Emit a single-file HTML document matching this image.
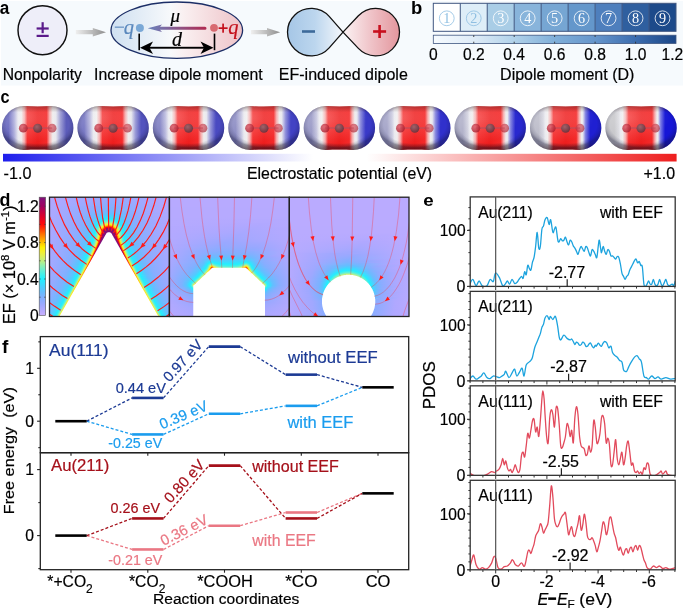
<!DOCTYPE html>
<html><head><meta charset="utf-8"><style>
html,body{margin:0;padding:0;background:#fff;}
body{width:685px;height:609px;position:relative;overflow:hidden;}
svg{position:absolute;left:0;top:0;will-change:transform;}
text{font-family:"Liberation Sans",sans-serif;}
</style></head><body>
<div style="position:absolute;left:49px;top:197px;width:121px;height:120px"><div style="height:1px;background:linear-gradient(90deg,#b0a8ff 0.5px,#96a9ff 64.5px,#b1a8ff 120.5px)"></div><div style="height:1px;background:linear-gradient(90deg,#b0a8ff 0.5px,#94a9ff 64.5px,#b0a8ff 120.5px)"></div><div style="height:1px;background:linear-gradient(90deg,#b0a8ff 0.5px,#93aaff 64.5px,#b0a8ff 120.5px)"></div><div style="height:1px;background:linear-gradient(90deg,#b0a8ff 0.5px,#91aaff 63.5px,#b0a8ff 120.5px)"></div><div style="height:1px;background:linear-gradient(90deg,#b0a8ff 0.5px,#8fabff 63.5px,#b0a8ff 120.5px)"></div><div style="height:1px;background:linear-gradient(90deg,#b0a8ff 0.5px,#8dacff 63.5px,#b0a8ff 120.5px)"></div><div style="height:1px;background:linear-gradient(90deg,#afa8ff 0.5px,#8bacff 62.5px,#b0a8ff 120.5px)"></div><div style="height:1px;background:linear-gradient(90deg,#afa8ff 0.5px,#88adff 62.5px,#b0a8ff 120.5px)"></div><div style="height:1px;background:linear-gradient(90deg,#afa8ff 0.5px,#86aeff 62.5px,#afa8ff 120.5px)"></div><div style="height:1px;background:linear-gradient(90deg,#afa8ff 0.5px,#8cacff 45.5px,#85aeff 66.5px,#aea8ff 117.5px,#afa8ff 120.5px)"></div><div style="height:1px;background:linear-gradient(90deg,#afa8ff 0.5px,#8dacff 42.5px,#80b0ff 63.5px,#aea8ff 116.5px,#afa8ff 120.5px)"></div><div style="height:1px;background:linear-gradient(90deg,#afa8ff 0.5px,#8eabff 40.5px,#7cb2ff 62.5px,#aca8ff 113.5px,#afa8ff 120.5px)"></div><div style="height:1px;background:linear-gradient(90deg,#aea8ff 0.5px,#8fabff 38.5px,#77b5ff 60.5px,#a9a8ff 107.5px,#afa8ff 120.5px)"></div><div style="height:1px;background:linear-gradient(90deg,#aea8ff 0.5px,#8fabff 37.5px,#71b7ff 60.5px,#a6a8ff 103.5px,#afa8ff 120.5px)"></div><div style="height:1px;background:linear-gradient(90deg,#aea8ff 0.5px,#8fabff 36.5px,#6bbaff 59.5px,#83afff 75.5px,#aaa8ff 110.5px,#afa8ff 120.5px)"></div><div style="height:1px;background:linear-gradient(90deg,#aea8ff 0.5px,#8fabff 35.5px,#65beff 59.5px,#77b5ff 71.5px,#a1a8ff 99.5px,#aea8ff 120.5px)"></div><div style="height:1px;background:linear-gradient(90deg,#aea8ff 0.5px,#8fabff 34.5px,#5dc2ff 59.5px,#6fb8ff 70.5px,#95a9ff 89.5px,#aea8ff 120.5px)"></div><div style="height:1px;background:linear-gradient(90deg,#aea8ff 0.5px,#90abff 33.5px,#69bbff 49.5px,#54c9ff 59.5px,#66bdff 69.5px,#8dacff 84.5px,#ada8ff 117.5px,#aea8ff 120.5px)"></div><div style="height:1px;background:linear-gradient(90deg,#ada8ff 0.5px,#90abff 32.5px,#6cbaff 47.5px,#4bd0ff 57.5px,#52cbff 65.5px,#88adff 82.5px,#aba8ff 113.5px,#aea8ff 120.5px)"></div><div style="height:1px;background:linear-gradient(90deg,#ada8ff 0.5px,#8fabff 32.5px,#6eb9ff 45.5px,#3fd9ff 57.5px,#47d3ff 65.5px,#76b5ff 76.5px,#9aa8ff 94.5px,#aea8ff 120.5px)"></div><div style="height:1px;background:linear-gradient(90deg,#ada8ff 0.5px,#8fabff 32.5px,#6db9ff 44.5px,#35e0ff 56.5px,#36e0ff 63.5px,#76b5ff 77.5px,#99a8ff 94.5px,#aea8ff 120.5px)"></div><div style="height:1px;background:linear-gradient(90deg,#ada8ff 0.5px,#8fabff 31.5px,#6eb9ff 43.5px,#28eaff 56.5px,#29eaff 63.5px,#4ad1ff 69.5px,#7bb3ff 79.5px,#9fa8ff 99.5px,#aea8ff 120.5px)"></div><div style="height:1px;background:linear-gradient(90deg,#ada8ff 0.5px,#8fabff 31.5px,#6fb9ff 42.5px,#37dfff 51.5px,#24eefe 54.5px,#33f0f3 60.5px,#25edfe 65.5px,#6bbaff 76.5px,#8dacff 87.5px,#aca8ff 117.5px,#ada8ff 120.5px)"></div><div style="height:1px;background:linear-gradient(90deg,#ada8ff 0.5px,#8fabff 30.5px,#74b6ff 40.5px,#51cbff 46.5px,#25edfe 52.5px,#4af0e4 57.5px,#4ff0e0 60.5px,#3cf0ed 64.5px,#26ecff 67.5px,#6cbaff 77.5px,#8cacff 87.5px,#aca8ff 117.5px,#ada8ff 120.5px)"></div><div style="height:1px;background:linear-gradient(90deg,#ada8ff 0.5px,#8fabff 30.5px,#71b7ff 40.5px,#4ad0ff 46.5px,#24eefe 51.5px,#2df0f7 52.5px,#5cf0d8 55.5px,#77f0c6 59.5px,#65f0d2 63.5px,#3df0ec 66.5px,#2af0f9 67.5px,#25edfe 68.5px,#69bcff 77.5px,#89adff 86.5px,#aaa8ff 114.5px,#ada8ff 120.5px)"></div><div style="height:1px;background:linear-gradient(90deg,#aca8ff 0.5px,#8eabff 30.5px,#74b6ff 39.5px,#4ccfff 45.5px,#27ebff 49.5px,#26f0fb 50.5px,#42f0e9 52.5px,#84f0bb 55.5px,#a3f09d 58.5px,#a8f098 60.5px,#90f0b0 63.5px,#6ff0cc 65.5px,#3ff0eb 67.5px,#25effd 69.5px,#65beff 77.5px,#88adff 86.5px,#aaa8ff 114.5px,#ada8ff 120.5px)"></div><div style="height:1px;background:linear-gradient(90deg,#aca8ff 0.5px,#8dacff 30.5px,#72b7ff 39.5px,#4fcdff 44.5px,#27ebff 48.5px,#28f0fa 49.5px,#5ef0d6 52.5px,#77f0c5 53.5px,#9df0a3 54.5px,#c6f077 56.5px,#daf05d 59.5px,#cff06c 62.5px,#b1f08e 64.5px,#70f0ca 66.5px,#26effc 70.5px,#3fd9ff 73.5px,#6eb9ff 79.5px,#8eabff 89.5px,#aca8ff 119.5px,#ada8ff 120.5px)"></div><div style="height:1px;background:linear-gradient(90deg,#aca8ff 0.5px,#8eabff 29.5px,#70b8ff 39.5px,#49d1ff 44.5px,#25effc 48.5px,#82f0bc 52.5px,#9ff0a1 53.5px,#c6f077 54.5px,#e1f054 55.5px,#f4f02a 57.5px,#f9ee19 59.5px,#f7f021 61.5px,#ebf041 63.5px,#ddf05a 64.5px,#98f0a8 66.5px,#62f0d4 68.5px,#34f0f2 70.5px,#24eefe 71.5px,#65bdff 78.5px,#87aeff 86.5px,#a9a8ff 113.5px,#ada8ff 120.5px)"></div><div style="height:1px;background:linear-gradient(90deg,#aca8ff 0.5px,#8eabff 29.5px,#73b6ff 38.5px,#50ccff 43.5px,#24eefe 47.5px,#49f0e4 49.5px,#8af0b5 51.5px,#cbf070 53.5px,#e6f04b 54.5px,#faed17 55.5px,#fedc04 56.5px,#ffba00 58.5px,#ffb000 59.5px,#ffbb00 61.5px,#fee006 63.5px,#f7ef21 64.5px,#dff055 65.5px,#a6f09a 67.5px,#61f0d5 69.5px,#41f0ea 70.5px,#2cf0f8 71.5px,#26ecff 72.5px,#62bfff 78.5px,#83afff 85.5px,#a7a8ff 111.5px,#ada8ff 120.5px)"></div><div style="height:1px;background:linear-gradient(90deg,#aca8ff 0.5px,#8dacff 29.5px,#72b7ff 38.5px,#4dceff 43.5px,#29e9ff 46.5px,#2bf0f8 47.5px,#82f0bd 50.5px,#d5f065 52.5px,#eef03b 53.5px,#fbec13 54.5px,#ffbf00 55.5px,#ff8800 56.5px,#ff6500 57.5px,#ff4403 59.5px,#ff5301 61.5px,#ff6b00 62.5px,#ff9200 63.5px,#ffcf01 64.5px,#f9ee1b 65.5px,#e9f045 66.5px,#cef06e 67.5px,#75f0c7 69.5px,#3cf0ed 71.5px,#27f0fb 72.5px,#68bcff 79.5px,#87aeff 87.5px,#a9a8ff 114.5px,#aca8ff 120.5px)"></div><div style="height:1px;background:linear-gradient(90deg,#aca8ff 0.5px,#8cacff 29.5px,#70b8ff 38.5px,#4bd0ff 43.5px,#25edfe 46.5px,#31f0f4 47.5px,#78f0c4 49.5px,#cdf06e 51.5px,#eff038 52.5px,#fde308 53.5px,#ffb300 54.5px,#ff7500 55.5px,#fc2409 56.5px,#ef0918 57.5px,#de0228 59.5px,#e60321 61.5px,#f20c15 62.5px,#fd3305 63.5px,#ff8600 64.5px,#ffbf00 65.5px,#fce90f 66.5px,#e9f044 67.5px,#c0f07e 68.5px,#93f0ad 69.5px,#6cf0cd 70.5px,#2cf0f7 72.5px,#27ebff 73.5px,#66bdff 79.5px,#88adff 88.5px,#aaa8ff 116.5px,#aca8ff 120.5px)"></div><div style="height:1px;background:linear-gradient(90deg,#aca8ff 0.5px,#8bacff 29.5px,#6fb9ff 38.5px,#53caff 42.5px,#26eefd 46.5px,#5cf0d8 48.5px,#85f0b9 49.5px,#c0f07e 50.5px,#e8f046 51.5px,#fce90e 52.5px,#ffab00 53.5px,#ff5b01 54.5px,#fa190c 55.5px,#d50130 56.5px,#aa0356 57.5px,#980666 58.5px,#94086a 60.5px,#9a0664 61.5px,#b10250 62.5px,#e20325 63.5px,#fc2508 64.5px,#ffbc00 66.5px,#f7ef1f 67.5px,#ddf059 68.5px,#b4f08b 69.5px,#7cf0c1 70.5px,#52f0df 71.5px,#25effd 73.5px,#5dc2ff 78.5px,#83afff 86.5px,#a7a8ff 112.5px,#aca8ff 120.5px)"></div><div style="height:1px;background:linear-gradient(90deg,#aba8ff 0.5px,#8dacff 28.5px,#6dbaff 38.5px,#46d3ff 43.5px,#2be8ff 45.5px,#27f0fb 46.5px,#3ef0ec 47.5px,#64f0d2 48.5px,#cdf06e 50.5px,#f5f028 51.5px,#ffbf00 52.5px,#ff6a00 53.5px,#f61111 54.5px,#c9003c 55.5px,#990665 56.5px,#811079 57.5px,#830e77 62.5px,#a3045d 63.5px,#d40131 64.5px,#fa1f0b 65.5px,#ff8800 66.5px,#fed603 67.5px,#eff036 68.5px,#c1f07c 69.5px,#8ef0b2 70.5px,#42f0e9 72.5px,#28effb 73.5px,#63bfff 79.5px,#87aeff 88.5px,#a9a8ff 115.5px,#aca8ff 120.5px)"></div><div style="height:1px;background:linear-gradient(90deg,#aba8ff 0.5px,#8cacff 28.5px,#70b8ff 37.5px,#4dceff 42.5px,#2be7ff 45.5px,#2cf0f8 46.5px,#6df0cc 48.5px,#9df0a2 49.5px,#dcf059 50.5px,#fbea11 51.5px,#ffa000 52.5px,#fc2808 53.5px,#d00135 54.5px,#91096c 55.5px,#80107a 56.5px,#811079 63.5px,#9c0563 64.5px,#e20324 65.5px,#fe3f03 66.5px,#ffb200 67.5px,#f7ef21 68.5px,#d7f061 69.5px,#a3f09d 70.5px,#6cf0cd 71.5px,#3ff0eb 72.5px,#25effd 73.5px,#60c0ff 79.5px,#86aeff 88.5px,#a9a8ff 115.5px,#aca8ff 120.5px)"></div><div style="height:1px;background:linear-gradient(90deg,#aba8ff 0.5px,#8bacff 28.5px,#6fb9ff 37.5px,#4bcfff 42.5px,#26ebff 45.5px,#2cf0f7 46.5px,#49f0e5 47.5px,#7bf0c2 48.5px,#b5f08b 49.5px,#e2f051 50.5px,#fcdf0d 51.5px,#ff7400 52.5px,#f20e14 53.5px,#a90357 54.5px,#80107a 55.5px,#830e77 64.5px,#b8024a 65.5px,#f91e0c 66.5px,#ff8b00 67.5px,#fde20a 68.5px,#e1f052 69.5px,#a5f09a 70.5px,#67f0d1 71.5px,#2bf0f8 73.5px,#29e9ff 74.5px,#5fc1ff 79.5px,#85aeff 88.5px,#a8a8ff 114.5px,#aca8ff 120.5px)"></div><div style="height:1px;background:linear-gradient(90deg,#aba8ff 0.5px,#8bacff 28.5px,#6dbaff 37.5px,#47d2ff 42.5px,#26ecfe 45.5px,#36f0f1 46.5px,#79f0c4 48.5px,#b7f087 49.5px,#eef037 50.5px,#ffca01 51.5px,#ff6501 52.5px,#e10425 53.5px,#8f096e 54.5px,#80107a 55.5px,#80107a 56.5px,#881f82 57.5px,#c088bc 58.5px,#dfc3de 59.5px,#dfc3de 60.5px,#80107a 62.5px,#80107a 64.5px,#9b0663 65.5px,#e9061e 66.5px,#ff6b01 67.5px,#fdd808 68.5px,#e0f054 69.5px,#aaf095 70.5px,#78f0c4 71.5px,#2cf0f8 73.5px,#28eaff 74.5px,#5cc3ff 79.5px,#84afff 88.5px,#a8a8ff 114.5px,#aca8ff 120.5px)"></div><div style="height:1px;background:linear-gradient(90deg,#aba8ff 0.5px,#8aadff 28.5px,#6bbaff 37.5px,#46d4ff 42.5px,#24eefe 45.5px,#35f0f1 46.5px,#5af0d9 47.5px,#8ff0b1 48.5px,#c6f077 49.5px,#eff034 50.5px,#ffb900 51.5px,#fd3306 52.5px,#c9013c 53.5px,#870d75 54.5px,#80107a 56.5px,#d7b4d5 57.5px,#ffffff 58.5px,#ffffff 61.5px,#80107a 63.5px,#80107a 64.5px,#8a0b72 65.5px,#d8022e 66.5px,#ff5d01 67.5px,#fed303 68.5px,#edf03b 69.5px,#bdf081 70.5px,#7cf0c1 71.5px,#4ef0e1 72.5px,#34f0f2 73.5px,#25edfe 74.5px,#61bfff 80.5px,#86aeff 89.5px,#a9a8ff 115.5px,#aca8ff 120.5px)"></div><div style="height:1px;background:linear-gradient(90deg,#aba8ff 0.5px,#8bacff 27.5px,#6abbff 37.5px,#39ddff 43.5px,#28f0fa 45.5px,#61f0d5 47.5px,#90f0af 48.5px,#d2f067 49.5px,#faeb17 50.5px,#ffa000 51.5px,#f9240b 52.5px,#b00352 53.5px,#80107a 54.5px,#80107a 55.5px,#a04c9b 56.5px,#ffffff 57.5px,#ffffff 62.5px,#902e8b 63.5px,#80107a 64.5px,#830f78 65.5px,#c8013c 66.5px,#fd3306 67.5px,#ffaf00 68.5px,#f2f02c 69.5px,#c0f07d 70.5px,#8af0b6 71.5px,#39f0ef 73.5px,#25eefe 74.5px,#5fc1ff 80.5px,#85aeff 89.5px,#a8a8ff 115.5px,#aba8ff 120.5px)"></div><div style="height:1px;background:linear-gradient(90deg,#aba8ff 0.5px,#8bacff 27.5px,#68bcff 37.5px,#40d8ff 42.5px,#2ae8ff 44.5px,#29f0fa 45.5px,#47f0e6 46.5px,#70f0ca 47.5px,#a6f09a 48.5px,#d9f05e 49.5px,#fbe410 50.5px,#ff7600 51.5px,#e9081d 52.5px,#980766 53.5px,#80107a 54.5px,#80107a 55.5px,#efe1ee 56.5px,#ffffff 57.5px,#ffffff 62.5px,#cfa5cd 63.5px,#80107a 64.5px,#80107a 65.5px,#a4055c 66.5px,#f51810 67.5px,#ffa000 68.5px,#f9ec1a 69.5px,#d5f064 70.5px,#98f0a7 71.5px,#60f0d5 72.5px,#3ef0eb 73.5px,#27f0fb 74.5px,#38deff 76.5px,#69bbff 82.5px,#8bacff 92.5px,#aba8ff 120.5px)"></div><div style="height:1px;background:linear-gradient(90deg,#aaa8ff 0.5px,#8aadff 27.5px,#66bdff 37.5px,#33e2ff 43.5px,#25ecff 44.5px,#2ff0f5 45.5px,#49f0e4 46.5px,#75f0c7 47.5px,#b5f08a 48.5px,#ebf040 49.5px,#fece02 50.5px,#ff5c02 51.5px,#d50231 52.5px,#860d75 53.5px,#80107a 54.5px,#b879b4 55.5px,#ffffff 56.5px,#ffffff 63.5px,#a04c9b 64.5px,#80107a 65.5px,#92096b 66.5px,#e70820 67.5px,#ff6d01 68.5px,#fddc0a 69.5px,#dcf05a 70.5px,#a1f09f 71.5px,#6ff0cb 72.5px,#29f0f9 74.5px,#29e9ff 75.5px,#62bfff 81.5px,#88adff 91.5px,#aaa8ff 118.5px,#aba8ff 120.5px)"></div><div style="height:1px;background:linear-gradient(90deg,#aaa8ff 0.5px,#8aadff 27.5px,#64beff 37.5px,#2fe4ff 43.5px,#25edfe 44.5px,#36f0f1 45.5px,#82f0bc 47.5px,#bcf082 48.5px,#f1f02f 49.5px,#ffb000 50.5px,#fa270a 51.5px,#b3034f 52.5px,#811079 53.5px,#881f82 54.5px,#f7f0f7 55.5px,#ffffff 56.5px,#ffffff 63.5px,#dfc3de 64.5px,#80107a 65.5px,#820f78 66.5px,#c6013e 67.5px,#fe4a03 68.5px,#fece03 69.5px,#ebf03e 70.5px,#b9f086 71.5px,#78f0c4 72.5px,#4df0e2 73.5px,#31f0f4 74.5px,#25edff 75.5px,#60c0ff 81.5px,#88adff 91.5px,#a9a8ff 117.5px,#aba8ff 120.5px)"></div><div style="height:1px;background:linear-gradient(90deg,#aaa8ff 0.5px,#89adff 27.5px,#63bfff 37.5px,#26effc 44.5px,#3cf0ed 45.5px,#5df0d7 46.5px,#95f0aa 47.5px,#d2f067 48.5px,#f8ec1c 49.5px,#ff9400 50.5px,#ed1018 51.5px,#950869 52.5px,#80107a 53.5px,#c796c5 54.5px,#ffffff 55.5px,#ffffff 64.5px,#b06aac 65.5px,#80107a 66.5px,#a80458 67.5px,#f61e0e 68.5px,#ffa100 69.5px,#f4ef28 70.5px,#c1f07c 71.5px,#88f0b7 72.5px,#5bf0d9 73.5px,#3af0ee 74.5px,#25eefd 75.5px,#64beff 82.5px,#89adff 92.5px,#aaa8ff 119.5px,#aba8ff 120.5px)"></div><div style="height:1px;background:linear-gradient(90deg,#aaa8ff 0.5px,#8aadff 26.5px,#66bdff 36.5px,#34e1ff 42.5px,#29eaff 43.5px,#2af0f9 44.5px,#6df0cc 46.5px,#a1f09f 47.5px,#def055 48.5px,#fdd707 49.5px,#ff5b02 50.5px,#d40331 51.5px,#850d76 52.5px,#902e8b 53.5px,#ffffff 54.5px,#ffffff 64.5px,#efe1ee 65.5px,#881f82 66.5px,#8a0c72 67.5px,#e20724 68.5px,#ff8000 69.5px,#fbe612 70.5px,#d9f05f 71.5px,#9cf0a4 72.5px,#65f0d2 73.5px,#3ef0ec 74.5px,#26effc 75.5px,#62bfff 82.5px,#89adff 92.5px,#aaa8ff 118.5px,#aba8ff 120.5px)"></div><div style="height:1px;background:linear-gradient(90deg,#aaa8ff 0.5px,#8aadff 26.5px,#65beff 36.5px,#30e4ff 42.5px,#25edfe 43.5px,#32f0f4 44.5px,#4df0e2 45.5px,#7bf0c2 46.5px,#bbf083 47.5px,#eef038 48.5px,#ffbe02 49.5px,#fa2e0a 50.5px,#a90557 51.5px,#80107a 52.5px,#d7b4d5 53.5px,#ffffff 54.5px,#ffffff 65.5px,#810f79 67.5px,#bf0244 68.5px,#fd4105 69.5px,#feca03 70.5px,#e6f048 71.5px,#a8f097 72.5px,#6ef0cc 73.5px,#2df0f6 75.5px,#27ebff 76.5px,#60c0ff 82.5px,#86aeff 91.5px,#a8a8ff 116.5px,#aba8ff 120.5px)"></div><div style="height:1px;background:linear-gradient(90deg,#aaa8ff 0.5px,#89adff 26.5px,#63bfff 36.5px,#25effd 43.5px,#3bf0ee 44.5px,#5df0d7 45.5px,#8bf0b4 46.5px,#c9f072 47.5px,#f8ea1b 48.5px,#ff8500 49.5px,#e60b1f 50.5px,#8e0a6e 51.5px,#a04c9b 52.5px,#ffffff 53.5px,#ffffff 65.5px,#f7f0f7 66.5px,#902e8b 67.5px,#980866 68.5px,#f21913 69.5px,#ffa900 70.5px,#f0f031 71.5px,#c0f07e 72.5px,#83f0bb 73.5px,#53f0de 74.5px,#33f0f3 75.5px,#24eefe 76.5px,#64beff 83.5px,#89adff 93.5px,#aaa8ff 119.5px,#aba8ff 120.5px)"></div><div style="height:1px;background:linear-gradient(90deg,#aaa8ff 0.5px,#88adff 26.5px,#61c0ff 36.5px,#29e9ff 42.5px,#28f0fa 43.5px,#41f0e9 44.5px,#6af0cf 45.5px,#a4f09c 46.5px,#e0f052 47.5px,#fdd709 48.5px,#fe5203 49.5px,#bf0244 50.5px,#80107a 51.5px,#e7d2e6 52.5px,#ffffff 53.5px,#ffffff 66.5px,#cfa5cd 67.5px,#850e76 68.5px,#d8052d 69.5px,#ff6f01 70.5px,#fbe210 71.5px,#d4f065 72.5px,#91f0af 73.5px,#5ff0d6 74.5px,#26effc 76.5px,#62bfff 83.5px,#89adff 93.5px,#aaa8ff 119.5px,#aaa8ff 120.5px)"></div><div style="height:1px;background:linear-gradient(90deg,#aaa8ff 0.5px,#88adff 26.5px,#64beff 35.5px,#31e3ff 41.5px,#26ecff 42.5px,#31f0f4 43.5px,#4df0e2 44.5px,#76f0c6 45.5px,#b6f089 46.5px,#eff033 47.5px,#ffa900 48.5px,#f11914 49.5px,#990865 50.5px,#b06aac 51.5px,#ffffff 52.5px,#ffffff 67.5px,#983d93 68.5px,#a70559 69.5px,#fa3409 70.5px,#fec804 71.5px,#e5f04a 72.5px,#adf093 73.5px,#70f0ca 74.5px,#46f0e6 75.5px,#2bf0f8 76.5px,#27ebff 77.5px,#60c0ff 83.5px,#88adff 93.5px,#aaa8ff 119.5px,#aaa8ff 120.5px)"></div><div style="height:1px;background:linear-gradient(90deg,#a9a8ff 0.5px,#89adff 25.5px,#68bcff 34.5px,#38deff 40.5px,#25effd 42.5px,#38f0f0 43.5px,#5bf0d9 44.5px,#8ff0b1 45.5px,#cdf06d 46.5px,#f9e819 47.5px,#ff7401 48.5px,#d10434 49.5px,#8a1e81 50.5px,#f7f0f7 51.5px,#ffffff 52.5px,#ffffff 67.5px,#dfc3de 68.5px,#8b0c71 69.5px,#e50e20 70.5px,#ff8d00 71.5px,#f6ed23 72.5px,#c1f07c 73.5px,#80f0be 74.5px,#54f0dd 75.5px,#35f0f1 76.5px,#25eefe 77.5px,#64beff 84.5px,#87aeff 93.5px,#aaa8ff 119.5px,#aaa8ff 120.5px)"></div><div style="height:1px;background:linear-gradient(90deg,#a9a8ff 0.5px,#89adff 25.5px,#66bdff 34.5px,#34e1ff 40.5px,#29e9ff 41.5px,#29f0f9 42.5px,#69f0cf 44.5px,#a3f09d 45.5px,#e4f04b 46.5px,#fec503 47.5px,#fa350a 48.5px,#a80558 49.5px,#c088bc 50.5px,#ffffff 51.5px,#ffffff 68.5px,#a85ba4 69.5px,#b5044d 70.5px,#fe5004 71.5px,#fcdb0c 72.5px,#daf05c 73.5px,#9bf0a5 74.5px,#63f0d4 75.5px,#3ef0ec 76.5px,#26effc 77.5px,#61bfff 84.5px,#87aeff 93.5px,#a9a8ff 118.5px,#aaa8ff 120.5px)"></div><div style="height:1px;background:linear-gradient(90deg,#a9a8ff 0.5px,#88adff 25.5px,#64beff 34.5px,#25edff 41.5px,#31f0f4 42.5px,#50f0e0 43.5px,#7ff0be 44.5px,#c0f07d 45.5px,#f3ee29 46.5px,#ff9100 47.5px,#de0928 48.5px,#952b86 49.5px,#f7f0f7 50.5px,#ffffff 51.5px,#ffffff 68.5px,#efe1ee 69.5px,#910a6c 70.5px,#ec1718 71.5px,#ffa700 72.5px,#edf037 73.5px,#b2f08d 74.5px,#71f0ca 75.5px,#48f0e5 76.5px,#2df0f7 77.5px,#26ebff 78.5px,#5fc1ff 84.5px,#86aeff 93.5px,#a9a8ff 118.5px,#aaa8ff 120.5px)"></div><div style="height:1px;background:linear-gradient(90deg,#a9a8ff 0.5px,#87aeff 25.5px,#62bfff 34.5px,#26effc 41.5px,#3df0ec 42.5px,#60f0d5 43.5px,#93f0ac 44.5px,#d8f05e 45.5px,#fdd509 46.5px,#fc4507 47.5px,#b10450 48.5px,#cfa5cd 49.5px,#ffffff 50.5px,#ffffff 69.5px,#c087bc 70.5px,#c10342 71.5px,#ff6802 72.5px,#f9e619 73.5px,#c9f072 74.5px,#8af0b5 75.5px,#58f0db 76.5px,#36f0f1 77.5px,#25eefe 78.5px,#63beff 85.5px,#88adff 94.5px,#a9a8ff 119.5px,#aaa8ff 120.5px)"></div><div style="height:1px;background:linear-gradient(90deg,#a9a8ff 0.5px,#86aeff 25.5px,#60c0ff 34.5px,#27ebff 40.5px,#2cf0f7 41.5px,#47f0e5 42.5px,#73f0c8 43.5px,#b4f08b 44.5px,#edef37 45.5px,#ffa800 46.5px,#e7111e 47.5px,#a84894 48.5px,#ffffff 49.5px,#ffffff 69.5px,#f7f0f7 70.5px,#a0176e 71.5px,#f6280f 72.5px,#febf02 73.5px,#e5f049 74.5px,#a2f09d 75.5px,#66f0d1 76.5px,#42f0e9 77.5px,#28f0fa 78.5px,#2ae9ff 79.5px,#61c0ff 85.5px,#87aeff 94.5px,#a9a8ff 119.5px,#aaa8ff 120.5px)"></div><div style="height:1px;background:linear-gradient(90deg,#a9a8ff 0.5px,#88adff 24.5px,#63beff 33.5px,#25eefe 40.5px,#37f0f0 41.5px,#58f0da 42.5px,#89f0b6 43.5px,#cdf06d 44.5px,#fbdf12 45.5px,#fd5404 46.5px,#b6054b 47.5px,#dfc3de 48.5px,#ffffff 49.5px,#ffffff 70.5px,#c996c4 71.5px,#ca0539 72.5px,#ff7d01 73.5px,#f5ed24 74.5px,#c0f07d 75.5px,#7ff0be 76.5px,#4ff0e0 77.5px,#30f0f5 78.5px,#25edff 79.5px,#5ec1ff 85.5px,#86aeff 94.5px,#a8a8ff 118.5px,#a9a8ff 120.5px)"></div><div style="height:1px;background:linear-gradient(90deg,#a8a8ff 0.5px,#87aeff 24.5px,#61c0ff 33.5px,#2ae9ff 39.5px,#27f0fb 40.5px,#41f0ea 41.5px,#6af0cf 42.5px,#a9f097 43.5px,#e8f042 44.5px,#ffb502 45.5px,#eb1a19 46.5px,#bb65a2 47.5px,#ffffff 48.5px,#ffffff 71.5px,#ad2572 72.5px,#f7310c 73.5px,#feca06 74.5px,#ddf057 75.5px,#96f0a9 76.5px,#5ff0d6 77.5px,#3df0ec 78.5px,#26effc 79.5px,#62bfff 86.5px,#87aeff 95.5px,#a9a8ff 120.5px)"></div><div style="height:1px;background:linear-gradient(90deg,#a8a8ff 0.5px,#86aeff 24.5px,#5ec1ff 33.5px,#25edff 39.5px,#32f0f4 40.5px,#50f0e0 41.5px,#7df0c0 42.5px,#c3f079 43.5px,#f8e61b 44.5px,#fe5f03 45.5px,#c31350 46.5px,#f0e1ee 47.5px,#ffffff 48.5px,#ffffff 71.5px,#e1c2dc 72.5px,#d10733 73.5px,#ff8c00 74.5px,#f1ee2e 75.5px,#b8f086 76.5px,#76f0c6 77.5px,#49f0e4 78.5px,#2bf0f8 79.5px,#27eaff 80.5px,#60c0ff 86.5px,#87aeff 95.5px,#a8a8ff 119.5px,#a9a8ff 120.5px)"></div><div style="height:1px;background:linear-gradient(90deg,#a8a8ff 0.5px,#85aeff 24.5px,#5bc3ff 33.5px,#26effc 39.5px,#3cf0ed 40.5px,#62f0d4 41.5px,#9ef0a2 42.5px,#dff052 43.5px,#fec305 44.5px,#f02115 45.5px,#ce82b0 46.5px,#ffffff 47.5px,#ffffff 72.5px,#c1427f 73.5px,#f8380c 74.5px,#fdd10a 75.5px,#d5f062 76.5px,#8df0b2 77.5px,#57f0db 78.5px,#37f0f0 79.5px,#25eefe 80.5px,#64beff 87.5px,#88adff 96.5px,#a9a8ff 120.5px)"></div><div style="height:1px;background:linear-gradient(90deg,#a8a8ff 0.5px,#84afff 24.5px,#59c6ff 33.5px,#27ebff 38.5px,#2ef0f6 39.5px,#4cf0e3 40.5px,#77f0c5 41.5px,#bbf083 42.5px,#f6ea22 43.5px,#fe7002 44.5px,#cc1447 45.5px,#f8eff6 46.5px,#ffffff 47.5px,#ffffff 72.5px,#f2e0ec 73.5px,#d6082e 74.5px,#ff9a00 75.5px,#ebef3a 76.5px,#acf093 77.5px,#6ef0cc 78.5px,#44f0e8 79.5px,#28f0fa 80.5px,#29e9ff 81.5px,#61c0ff 87.5px,#87aeff 96.5px,#a9a8ff 120.5px)"></div><div style="height:1px;background:linear-gradient(90deg,#a8a8ff 0.5px,#86aeff 23.5px,#5dc2ff 32.5px,#25effd 38.5px,#39f0ef 39.5px,#5df0d8 40.5px,#97f0a9 41.5px,#dcf057 42.5px,#fdca07 43.5px,#f12713 44.5px,#dfa0c0 45.5px,#ffffff 46.5px,#ffffff 73.5px,#d5608c 74.5px,#fb4607 75.5px,#fbda0f 76.5px,#cff06b 77.5px,#86f0b9 78.5px,#53f0de 79.5px,#34f0f2 80.5px,#25edfe 81.5px,#65beff 88.5px,#89adff 97.5px,#a9a8ff 120.5px)"></div><div style="height:1px;background:linear-gradient(90deg,#a8a8ff 0.5px,#85aeff 23.5px,#5ac5ff 32.5px,#28eaff 37.5px,#2bf0f8 38.5px,#48f0e5 39.5px,#73f0c8 40.5px,#b5f089 41.5px,#f3ec29 42.5px,#ff7302 43.5px,#da3359 44.5px,#ffffff 45.5px,#ffffff 73.5px,#f9eff5 74.5px,#e01a35 75.5px,#ffa101 76.5px,#e9f040 77.5px,#a8f097 78.5px,#69f0cf 79.5px,#40f0ea 80.5px,#27effb 81.5px,#40d8ff 84.5px,#6eb9ff 90.5px,#8fabff 100.5px,#a8a8ff 120.5px)"></div><div style="height:1px;background:linear-gradient(90deg,#a7a8ff 0.5px,#84afff 23.5px,#5ec2ff 31.5px,#25eefe 37.5px,#35f0f1 38.5px,#58f0da 39.5px,#91f0ae 40.5px,#daf05b 41.5px,#fdcb08 42.5px,#f22b11 43.5px,#eebfd1 44.5px,#ffffff 45.5px,#ffffff 74.5px,#e4809d 75.5px,#fa4708 76.5px,#fbdc12 77.5px,#caf071 78.5px,#80f0bd 79.5px,#50f0e0 80.5px,#31f0f4 81.5px,#25ecff 82.5px,#60c0ff 88.5px,#87aeff 97.5px,#a8a8ff 120.5px)"></div><div style="height:1px;background:linear-gradient(90deg,#a7a8ff 0.5px,#83afff 23.5px,#5bc4ff 31.5px,#2ae9ff 36.5px,#29f0fa 37.5px,#44f0e8 38.5px,#6df0cd 39.5px,#b0f08f 40.5px,#f1ed2d 41.5px,#ff7802 42.5px,#e7526d 43.5px,#ffffff 44.5px,#ffffff 75.5px,#e82c3c 76.5px,#ffa601 77.5px,#e7f043 78.5px,#a5f09b 79.5px,#65f0d2 80.5px,#3df0ec 81.5px,#26effc 82.5px,#63beff 89.5px,#89adff 98.5px,#a8a8ff 120.5px)"></div><div style="height:1px;background:linear-gradient(90deg,#a7a8ff 0.5px,#85aeff 22.5px,#5fc1ff 30.5px,#25edfe 36.5px,#33f0f3 37.5px,#55f0dc 38.5px,#8cf0b3 39.5px,#d4f064 40.5px,#fcd20c 41.5px,#f42d10 42.5px,#f9dfe6 43.5px,#ffffff 44.5px,#ffffff 75.5px,#f3b0be 76.5px,#f94609 77.5px,#fadd14 78.5px,#c6f076 79.5px,#7ef0bf 80.5px,#4ff0e1 81.5px,#2ff0f5 82.5px,#26ebff 83.5px,#61c0ff 89.5px,#88adff 98.5px,#a8a8ff 120.5px)"></div><div style="height:1px;background:linear-gradient(90deg,#a7a8ff 0.5px,#83afff 22.5px,#5cc3ff 30.5px,#2be8ff 35.5px,#28f0fa 36.5px,#43f0e9 37.5px,#6bf0ce 38.5px,#acf093 39.5px,#efed31 40.5px,#ff7d01 41.5px,#f27581 42.5px,#ffffff 43.5px,#ffffff 76.5px,#f24b52 77.5px,#ffa701 78.5px,#e7ef43 79.5px,#a2f09d 80.5px,#62f0d4 81.5px,#3bf0ed 82.5px,#25effd 83.5px,#64beff 90.5px,#89adff 99.5px,#a8a8ff 120.5px)"></div><div style="height:1px;background:linear-gradient(90deg,#a6a8ff 0.5px,#82afff 22.5px,#58c6ff 30.5px,#25edfe 35.5px,#32f0f3 36.5px,#53f0de 37.5px,#8af0b5 38.5px,#d4f064 39.5px,#fcd20b 40.5px,#f73d1c 41.5px,#fdeff2 42.5px,#ffffff 43.5px,#ffffff 76.5px,#facfd6 77.5px,#fa4209 78.5px,#f9de16 79.5px,#c3f079 80.5px,#7af0c3 81.5px,#4bf0e3 82.5px,#2df0f7 83.5px,#27ebff 84.5px,#61bfff 90.5px,#88adff 99.5px,#a7a8ff 120.5px)"></div><div style="height:1px;background:linear-gradient(90deg,#a6a8ff 0.5px,#84afff 21.5px,#5dc2ff 29.5px,#27effb 35.5px,#41f0e9 36.5px,#6bf0ce 37.5px,#abf094 38.5px,#efee32 39.5px,#ff7a02 40.5px,#f8939a 41.5px,#ffffff 42.5px,#ffffff 77.5px,#f86c6b 78.5px,#ffa902 79.5px,#e3f04a 80.5px,#9ef0a1 81.5px,#60f0d5 82.5px,#3af0ef 83.5px,#25eefd 84.5px,#65beff 91.5px,#8aadff 100.5px,#a7a8ff 120.5px)"></div><div style="height:1px;background:linear-gradient(90deg,#a6a8ff 0.5px,#83afff 21.5px,#59c5ff 29.5px,#26ecff 34.5px,#30f0f5 35.5px,#51f0df 36.5px,#88f0b6 37.5px,#d4f063 38.5px,#fdcd0a 39.5px,#fb4d28 40.5px,#ffffff 41.5px,#ffffff 77.5px,#fddfe3 78.5px,#fd5815 79.5px,#f9de16 80.5px,#c2f07a 81.5px,#79f0c3 82.5px,#4bf0e3 83.5px,#2cf0f7 84.5px,#28eaff 85.5px,#62bfff 91.5px,#89adff 100.5px,#a7a8ff 120.5px)"></div><div style="height:1px;background:linear-gradient(90deg,#a6a8ff 0.5px,#81b0ff 21.5px,#55c8ff 29.5px,#26effc 34.5px,#40f0eb 35.5px,#67f0d1 36.5px,#a9f096 37.5px,#eeed32 38.5px,#fe7902 39.5px,#fdc1c4 40.5px,#ffffff 41.5px,#ffffff 78.5px,#fc8a86 79.5px,#ffa802 80.5px,#e5f047 81.5px,#9ef0a1 82.5px,#5ff0d6 83.5px,#39f0ef 84.5px,#25eefd 85.5px,#65bdff 92.5px,#8aadff 101.5px,#a7a8ff 120.5px)"></div><div style="height:1px;background:linear-gradient(90deg,#a5a8ff 0.5px,#83afff 20.5px,#59c5ff 28.5px,#26ecff 33.5px,#30f0f5 34.5px,#51f0e0 35.5px,#87f0b7 36.5px,#d1f066 37.5px,#fcd20c 38.5px,#fe6a44 39.5px,#ffffff 40.5px,#ffffff 78.5px,#ffeff0 79.5px,#fe6024 80.5px,#f9dd16 81.5px,#c2f07a 82.5px,#79f0c3 83.5px,#4bf0e3 84.5px,#2cf0f7 85.5px,#28eaff 86.5px,#63bfff 92.5px,#89adff 101.5px,#a6a8ff 120.5px)"></div><div style="height:1px;background:linear-gradient(90deg,#a5a8ff 0.5px,#82afff 20.5px,#56c8ff 28.5px,#26effc 33.5px,#40f0eb 34.5px,#68f0d0 35.5px,#a9f096 36.5px,#efed32 37.5px,#ff7602 38.5px,#ffd3d1 39.5px,#ffffff 40.5px,#ffffff 79.5px,#ffaaa2 80.5px,#ffa102 81.5px,#e7ef43 82.5px,#9ff0a1 83.5px,#5ef0d6 84.5px,#38f0f0 85.5px,#25eefe 86.5px,#66bdff 93.5px,#88adff 101.5px,#a6a8ff 120.5px)"></div><div style="height:1px;background:linear-gradient(90deg,#a5a8ff 0.5px,#81b0ff 20.5px,#5ac5ff 27.5px,#26ecff 32.5px,#30f0f5 33.5px,#50f0e0 34.5px,#87f0b7 35.5px,#d4f063 36.5px,#fdcc0b 37.5px,#ff8862 38.5px,#ffffff 39.5px,#ffffff 80.5px,#ff7a42 81.5px,#fadb15 82.5px,#c2f07a 83.5px,#77f0c4 84.5px,#49f0e4 85.5px,#2bf0f8 86.5px,#29eaff 87.5px,#63bfff 93.5px,#87aeff 101.5px,#a6a8ff 120.5px)"></div><div style="height:1px;background:linear-gradient(90deg,#a4a8ff 0.5px,#82afff 19.5px,#56c7ff 27.5px,#26effc 32.5px,#40f0eb 33.5px,#6af0ce 34.5px,#acf093 35.5px,#f0ec2f 36.5px,#ff8011 37.5px,#fff1ef 38.5px,#ffffff 39.5px,#ffffff 80.5px,#ffc9c0 81.5px,#ffa002 82.5px,#e5f046 83.5px,#9ef0a1 84.5px,#5ff0d6 85.5px,#38f0f0 86.5px,#25eefe 87.5px,#66bdff 94.5px,#88adff 102.5px,#a5a8ff 120.5px)"></div><div style="height:1px;background:linear-gradient(90deg,#a4a8ff 0.5px,#81b0ff 19.5px,#52cbff 27.5px,#26ecff 31.5px,#31f0f4 32.5px,#51f0df 33.5px,#88f0b6 34.5px,#d7f05f 35.5px,#fdc408 36.5px,#ffa580 37.5px,#ffffff 38.5px,#ffffff 81.5px,#ff8c51 82.5px,#fad913 83.5px,#c4f078 84.5px,#79f0c3 85.5px,#4af0e4 86.5px,#2bf0f8 87.5px,#29e9ff 88.5px,#63beff 94.5px,#87aeff 102.5px,#a5a8ff 120.5px)"></div><div style="height:1px;background:linear-gradient(90deg,#a3a8ff 0.5px,#7fb0ff 19.5px,#56c7ff 26.5px,#26effc 31.5px,#40f0ea 32.5px,#6cf0cd 33.5px,#b0f08f 34.5px,#f1eb2c 35.5px,#ff8b20 36.5px,#ffffff 37.5px,#ffffff 81.5px,#ffe6df 82.5px,#ff9a01 83.5px,#e8ef40 84.5px,#a1f09e 85.5px,#5ff0d6 86.5px,#39f0ef 87.5px,#25eefd 88.5px,#60c0ff 94.5px,#86aeff 102.5px,#a5a8ff 120.5px)"></div><div style="height:1px;background:linear-gradient(90deg,#a3a8ff 0.5px,#81b0ff 18.5px,#5ac4ff 25.5px,#26ecff 30.5px,#30f0f5 31.5px,#51f0df 32.5px,#8af0b4 33.5px,#d9f05c 34.5px,#febb05 35.5px,#ffcbaf 36.5px,#ffffff 37.5px,#ffffff 82.5px,#ffaf80 83.5px,#fbd611 84.5px,#c6f075 85.5px,#7df0c0 86.5px,#4cf0e3 87.5px,#2cf0f8 88.5px,#29eaff 89.5px,#63beff 95.5px,#87aeff 103.5px,#a4a8ff 120.5px)"></div><div style="height:1px;background:linear-gradient(90deg,#a3a8ff 0.5px,#7fb0ff 18.5px,#56c7ff 25.5px,#26effc 30.5px,#41f0ea 31.5px,#6bf0cd 32.5px,#aff090 33.5px,#f2ea29 34.5px,#ffa040 35.5px,#ffffff 36.5px,#ffffff 82.5px,#fff4ef 83.5px,#ff9d10 84.5px,#ebee39 85.5px,#a4f09c 86.5px,#60f0d5 87.5px,#39f0ef 88.5px,#25eefe 89.5px,#60c0ff 95.5px,#86aeff 103.5px,#a4a8ff 120.5px)"></div><div style="height:1px;background:linear-gradient(90deg,#a2a8ff 0.5px,#7db1ff 18.5px,#52cbff 25.5px,#26ecff 29.5px,#31f0f4 30.5px,#53f0de 31.5px,#8cf0b2 32.5px,#dbf058 33.5px,#febd06 34.5px,#ffd7bf 35.5px,#ffffff 36.5px,#ffffff 83.5px,#ffc79f 84.5px,#fcd10e 85.5px,#c9f072 86.5px,#7cf0c1 87.5px,#4bf0e3 88.5px,#2cf0f7 89.5px,#28eaff 90.5px,#63beff 96.5px,#88adff 104.5px,#a3a8ff 120.5px)"></div><div style="height:1px;background:linear-gradient(90deg,#a2a8ff 0.5px,#80b0ff 17.5px,#57c7ff 24.5px,#27effb 29.5px,#42f0e9 30.5px,#6ff0cb 31.5px,#b4f08a 32.5px,#f4e825 33.5px,#ffb560 34.5px,#ffffff 35.5px,#ffffff 84.5px,#ffa920 85.5px,#ebee39 86.5px,#a6f099 87.5px,#62f0d4 88.5px,#3af0ee 89.5px,#25eefd 90.5px,#60c0ff 96.5px,#86aeff 104.5px,#a3a8ff 120.5px)"></div><div style="height:1px;background:linear-gradient(90deg,#a1a8ff 0.5px,#7eb1ff 17.5px,#52cbff 24.5px,#26ecff 28.5px,#33f0f3 29.5px,#55f0dd 30.5px,#8ff0af 31.5px,#def052 32.5px,#febe13 33.5px,#ffeddf 34.5px,#ffffff 35.5px,#ffffff 84.5px,#ffdcbf 85.5px,#fccc0c 86.5px,#ccf06d 87.5px,#80f0bd 88.5px,#4ef0e1 89.5px,#2df0f7 90.5px,#28eaff 91.5px,#63beff 97.5px,#88adff 105.5px,#a3a8ff 120.5px)"></div><div style="height:1px;background:linear-gradient(90deg,#a1a8ff 0.5px,#80b0ff 16.5px,#56c7ff 23.5px,#27effb 28.5px,#43f0e8 29.5px,#72f0c8 30.5px,#baf083 31.5px,#f5e520 32.5px,#ffc680 33.5px,#ffffff 34.5px,#ffffff 85.5px,#ffb740 86.5px,#efeb31 87.5px,#aaf095 88.5px,#64f0d2 89.5px,#3cf0ed 90.5px,#26effd 91.5px,#67bdff 98.5px,#89adff 106.5px,#a2a8ff 120.5px)"></div><div style="height:1px;background:linear-gradient(90deg,#a0a8ff 0.5px,#7eb1ff 16.5px,#52cbff 23.5px,#26ecfe 27.5px,#33f0f3 28.5px,#56f0dc 29.5px,#93f0ac 30.5px,#e1f04c 31.5px,#ffbe21 32.5px,#fff7ef 33.5px,#ffffff 34.5px,#ffffff 85.5px,#ffefdf 86.5px,#fdc808 87.5px,#d1f067 88.5px,#86f0b8 89.5px,#50f0e0 90.5px,#2ef0f6 91.5px,#27eaff 92.5px,#64beff 98.5px,#88adff 106.5px,#a2a8ff 120.5px)"></div><div style="height:1px;background:linear-gradient(90deg,#9fa8ff 0.5px,#7cb2ff 16.5px,#56c7ff 22.5px,#2be8ff 26.5px,#28effb 27.5px,#45f0e7 28.5px,#74f0c7 29.5px,#bbf083 30.5px,#f7e11c 31.5px,#ffd69f 32.5px,#ffffff 33.5px,#ffffff 86.5px,#ffcb70 87.5px,#f3e929 88.5px,#aff090 89.5px,#67f0d0 90.5px,#3ef0ec 91.5px,#26effc 92.5px,#60c0ff 98.5px,#87aeff 106.5px,#a1a8ff 120.5px)"></div><div style="height:1px;background:linear-gradient(90deg,#9fa8ff 0.5px,#7eb1ff 15.5px,#51cbff 22.5px,#25edfe 26.5px,#35f0f1 27.5px,#59f0da 28.5px,#97f0a8 29.5px,#e5f046 30.5px,#ffc632 31.5px,#ffffff 32.5px,#ffffff 86.5px,#fff8ef 87.5px,#feca16 88.5px,#d6f05f 89.5px,#8cf0b3 90.5px,#53f0de 91.5px,#2ff0f5 92.5px,#27ebff 93.5px,#63beff 99.5px,#88adff 107.5px,#a0a8ff 120.5px)"></div><div style="height:1px;background:linear-gradient(90deg,#9ea8ff 0.5px,#7bb2ff 15.5px,#56c7ff 21.5px,#2ae8ff 25.5px,#29f0fa 26.5px,#47f0e6 27.5px,#79f0c3 28.5px,#c2f07a 29.5px,#f9dd17 30.5px,#ffe5bf 31.5px,#ffffff 32.5px,#ffffff 87.5px,#ffd68f 88.5px,#f5e621 89.5px,#b3f08b 90.5px,#6af0ce 91.5px,#3ef0eb 92.5px,#26effc 93.5px,#67bdff 100.5px,#89adff 108.5px,#a0a8ff 120.5px)"></div><div style="height:1px;background:linear-gradient(90deg,#9ea8ff 0.5px,#79b3ff 15.5px,#51cbff 21.5px,#25edfe 25.5px,#38f0f0 26.5px,#5df0d7 27.5px,#9cf0a3 28.5px,#e8ef3f 29.5px,#ffcd50 30.5px,#ffffff 31.5px,#ffffff 88.5px,#fecc24 89.5px,#d9f05b 90.5px,#8df0b2 91.5px,#55f0dd 92.5px,#31f0f4 93.5px,#27ebff 94.5px,#63beff 100.5px,#88adff 108.5px,#9fa8ff 120.5px)"></div><div style="height:1px;background:linear-gradient(90deg,#9da8ff 0.5px,#7bb2ff 14.5px,#56c8ff 20.5px,#2ae8ff 24.5px,#29f0f9 25.5px,#49f0e4 26.5px,#7df0bf 27.5px,#c9f071 28.5px,#fbd812 29.5px,#fff3df 30.5px,#ffffff 31.5px,#ffffff 88.5px,#ffe5af 89.5px,#f6e31f 90.5px,#b9f085 91.5px,#6ef0cc 92.5px,#41f0ea 93.5px,#27effb 94.5px,#67bdff 101.5px,#8aadff 109.5px,#9fa8ff 120.5px)"></div><div style="height:1px;background:linear-gradient(90deg,#9ca8ff 0.5px,#79b3ff 14.5px,#51ccff 20.5px,#25eefe 24.5px,#38f0ef 25.5px,#5ef0d6 26.5px,#a1f09e 27.5px,#ecee38 28.5px,#ffdb80 29.5px,#ffffff 30.5px,#ffffff 89.5px,#fed442 90.5px,#def053 91.5px,#94f0ab 92.5px,#58f0db 93.5px,#32f0f3 94.5px,#26ecff 95.5px,#63beff 101.5px,#88adff 109.5px,#9ea8ff 120.5px)"></div><div style="height:1px;background:linear-gradient(90deg,#9ba8ff 0.5px,#7bb2ff 13.5px,#55c8ff 19.5px,#29e9ff 23.5px,#2bf0f8 24.5px,#4cf0e3 25.5px,#80f0bd 26.5px,#cbf06f 27.5px,#fcd91e 28.5px,#fff9ef 29.5px,#ffffff 30.5px,#ffffff 89.5px,#fff0cf 90.5px,#f9de17 91.5px,#bef07f 92.5px,#72f0c8 93.5px,#45f0e7 94.5px,#28f0fa 95.5px,#38deff 97.5px,#66bdff 102.5px,#8aadff 110.5px,#9da8ff 120.5px)"></div><div style="height:1px;background:linear-gradient(90deg,#9ba8ff 0.5px,#79b4ff 13.5px,#50ccff 19.5px,#25eefd 23.5px,#3bf0ed 24.5px,#63f0d4 25.5px,#a7f098 26.5px,#efec30 27.5px,#ffe28f 28.5px,#ffffff 29.5px,#ffffff 90.5px,#ffdd61 91.5px,#e4f048 92.5px,#9bf0a4 93.5px,#5bf0d8 94.5px,#34f0f2 95.5px,#26ecff 96.5px,#63bfff 102.5px,#88adff 110.5px,#9ca8ff 120.5px)"></div><div style="height:1px;background:linear-gradient(90deg,#9aa8ff 0.5px,#7bb2ff 12.5px,#54c9ff 18.5px,#28eaff 22.5px,#2df0f7 23.5px,#4ff0e1 24.5px,#87f0b7 25.5px,#d3f064 26.5px,#fddc2a 27.5px,#ffffff 28.5px,#ffffff 90.5px,#fffaef 91.5px,#fbdf21 92.5px,#c4f077 93.5px,#76f0c5 94.5px,#45f0e7 95.5px,#29f0fa 96.5px,#2be8ff 97.5px,#66bdff 103.5px,#8aadff 111.5px,#9ca8ff 120.5px)"></div><div style="height:1px;background:linear-gradient(90deg,#99a8ff 0.5px,#79b4ff 12.5px,#4fccff 18.5px,#26effc 22.5px,#3ef0eb 23.5px,#68f0d0 24.5px,#adf091 25.5px,#f2e928 26.5px,#ffeebf 27.5px,#ffffff 28.5px,#ffffff 91.5px,#ffe480 92.5px,#e6f043 93.5px,#9ef0a1 94.5px,#5ff0d6 95.5px,#37f0f0 96.5px,#25edfe 97.5px,#62bfff 103.5px,#88adff 111.5px,#9ba8ff 120.5px)"></div><div style="height:1px;background:linear-gradient(90deg,#98a8ff 0.5px,#76b5ff 12.5px,#4ad0ff 18.5px,#27ebff 21.5px,#2ff0f5 22.5px,#52f0df 23.5px,#8df0b2 24.5px,#daf059 25.5px,#fee046 26.5px,#ffffff 27.5px,#ffffff 91.5px,#fffbef 92.5px,#fce22d 93.5px,#caf070 94.5px,#7bf0c1 95.5px,#49f0e4 96.5px,#2bf0f8 97.5px,#29e9ff 98.5px,#66bdff 104.5px,#89adff 112.5px,#9aa8ff 120.5px)"></div><div style="height:1px;background:linear-gradient(90deg,#97a8ff 0.5px,#79b4ff 11.5px,#4fcdff 17.5px,#27effc 21.5px,#42f0e9 22.5px,#6ef0cb 23.5px,#b4f08a 24.5px,#f5e721 25.5px,#fff7df 26.5px,#ffffff 27.5px,#ffffff 92.5px,#ffeb9f 93.5px,#ecee38 94.5px,#a7f098 95.5px,#63f0d3 96.5px,#39f0ef 97.5px,#25eefe 98.5px,#62bfff 104.5px,#88adff 112.5px,#99a8ff 120.5px)"></div><div style="height:1px;background:linear-gradient(90deg,#96a9ff 0.5px,#76b5ff 11.5px,#4ad1ff 17.5px,#26ecff 20.5px,#31f0f4 21.5px,#55f0dc 22.5px,#93f0ac 23.5px,#e1f04d 24.5px,#fee873 25.5px,#ffffff 26.5px,#ffffff 93.5px,#fde548 94.5px,#d0f068 95.5px,#81f0bc 96.5px,#4ef0e1 97.5px,#2df0f7 98.5px,#28eaff 99.5px,#65bdff 105.5px,#89adff 113.5px,#98a8ff 120.5px)"></div><div style="height:1px;background:linear-gradient(90deg,#95a9ff 0.5px,#78b4ff 10.5px,#4ecdff 16.5px,#27effb 20.5px,#44f0e8 21.5px,#70f0ca 22.5px,#bbf083 23.5px,#f8e72a 24.5px,#fffbef 25.5px,#ffffff 26.5px,#ffffff 93.5px,#fff2bf 94.5px,#f1eb2d 95.5px,#aff08f 96.5px,#67f0d0 97.5px,#3cf0ed 98.5px,#25eefd 99.5px,#62bfff 105.5px,#88adff 113.5px,#97a8ff 120.5px)"></div><div style="height:1px;background:linear-gradient(90deg,#94a9ff 0.5px,#76b5ff 10.5px,#53caff 15.5px,#26edfe 19.5px,#34f0f2 20.5px,#59f0da 21.5px,#99f0a6 22.5px,#e3ef49 23.5px,#ffec81 24.5px,#ffffff 25.5px,#ffffff 94.5px,#feea65 95.5px,#d7f05e 96.5px,#86f0b7 97.5px,#4ff0e0 98.5px,#2ff0f6 99.5px,#27ebff 100.5px,#65beff 106.5px,#89adff 114.5px,#97a8ff 120.5px)"></div><div style="height:1px;background:linear-gradient(90deg,#93aaff 0.5px,#73b7ff 10.5px,#4dceff 15.5px,#2be8ff 18.5px,#29f0fa 19.5px,#48f0e5 20.5px,#78f0c4 21.5px,#c2f07a 22.5px,#fae834 23.5px,#ffffff 24.5px,#ffffff 94.5px,#fff9df 95.5px,#f2ea28 96.5px,#b3f08b 97.5px,#6cf0cd 98.5px,#3ff0eb 99.5px,#26effc 100.5px,#61c0ff 106.5px,#88adff 114.5px,#96a9ff 120.5px)"></div><div style="height:1px;background:linear-gradient(90deg,#92aaff 0.5px,#75b5ff 9.5px,#52caff 14.5px,#25edfe 18.5px,#37f0f0 19.5px,#5ef0d7 20.5px,#a1f09e 21.5px,#eaee3c 22.5px,#fff4b0 23.5px,#ffffff 24.5px,#ffffff 95.5px,#feef82 96.5px,#ddf055 97.5px,#8df0b1 98.5px,#55f0dd 99.5px,#31f0f4 100.5px,#27ebff 101.5px,#64beff 107.5px,#89adff 115.5px,#95a9ff 120.5px)"></div><div style="height:1px;background:linear-gradient(90deg,#91aaff 0.5px,#72b7ff 9.5px,#4dcfff 14.5px,#2ae8ff 17.5px,#2bf0f8 18.5px,#4bf0e3 19.5px,#80f0bd 20.5px,#caf071 21.5px,#fcec4e 22.5px,#ffffff 23.5px,#ffffff 95.5px,#fffcef 96.5px,#f6eb2d 97.5px,#bdf080 98.5px,#71f0c9 99.5px,#42f0e9 100.5px,#27effb 101.5px,#67bcff 108.5px,#8aadff 116.5px,#94a9ff 120.5px)"></div><div style="height:1px;background:linear-gradient(90deg,#90abff 0.5px,#6fb8ff 9.5px,#47d3ff 14.5px,#25eefe 17.5px,#39f0ef 18.5px,#62f0d4 19.5px,#a8f097 20.5px,#f0ed2f 21.5px,#fff9cf 22.5px,#ffffff 23.5px,#ffffff 96.5px,#fff3a1 97.5px,#e2f04a 98.5px,#95f0aa 99.5px,#5af0d9 100.5px,#34f0f2 101.5px,#26ecff 102.5px,#64beff 108.5px,#89adff 116.5px,#93aaff 120.5px)"></div><div style="height:1px;background:linear-gradient(90deg,#8fabff 0.5px,#72b7ff 8.5px,#4ccfff 13.5px,#29eaff 16.5px,#2df0f7 17.5px,#4ef0e1 18.5px,#82f0bb 19.5px,#d0f068 20.5px,#fdf069 21.5px,#ffffff 22.5px,#ffffff 97.5px,#f9ed44 98.5px,#c6f076 99.5px,#77f0c4 100.5px,#46f0e7 101.5px,#29f0fa 102.5px,#2be8ff 103.5px,#60c0ff 108.5px,#88adff 116.5px,#92aaff 120.5px)"></div><div style="height:1px;background:linear-gradient(90deg,#8eabff 0.5px,#6fb9ff 8.5px,#46d4ff 13.5px,#26effd 16.5px,#3cf0ed 17.5px,#67f0d0 18.5px,#b0f08f 19.5px,#f2ef3b 20.5px,#fffbdf 21.5px,#ffffff 22.5px,#ffffff 97.5px,#fff8bf 98.5px,#e8ef40 99.5px,#9ff0a0 100.5px,#60f0d6 101.5px,#37f0f0 102.5px,#25edfe 103.5px,#63beff 109.5px,#89adff 117.5px,#90abff 120.5px)"></div><div style="height:1px;background:linear-gradient(90deg,#8cacff 0.5px,#6cbaff 8.5px,#3fd8ff 13.5px,#27ebff 15.5px,#2ff0f5 16.5px,#53f0de 17.5px,#8cf0b3 18.5px,#d7f05e 19.5px,#fef484 20.5px,#ffffff 21.5px,#ffffff 98.5px,#fcf15c 99.5px,#cdf06c 100.5px,#7df0bf 101.5px,#49f0e5 102.5px,#2af0f9 103.5px,#2ae9ff 104.5px,#66bdff 110.5px,#8aadff 118.5px,#8fabff 120.5px)"></div><div style="height:1px;background:linear-gradient(90deg,#8bacff 0.5px,#68bcff 8.5px,#2de6ff 14.5px,#27effb 15.5px,#41f0ea 16.5px,#6df0cc 17.5px,#b8f086 18.5px,#f6f03e 19.5px,#fffdef 20.5px,#ffffff 21.5px,#ffffff 98.5px,#fffbdf 99.5px,#edee36 100.5px,#a4f09c 101.5px,#63f0d3 102.5px,#3af0ee 103.5px,#25eefe 104.5px,#63bfff 110.5px,#89adff 118.5px,#8eabff 120.5px)"></div><div style="height:1px;background:linear-gradient(90deg,#89adff 0.5px,#64beff 8.5px,#27ebff 14.5px,#32f0f3 15.5px,#58f0db 16.5px,#95f0aa 17.5px,#dff052 18.5px,#fef7a2 19.5px,#ffffff 20.5px,#ffffff 99.5px,#fcf47a 100.5px,#d3f063 101.5px,#84f0b9 102.5px,#4df0e2 103.5px,#2df0f7 104.5px,#28eaff 105.5px,#66bdff 111.5px,#8aadff 119.5px,#8dacff 120.5px)"></div><div style="height:1px;background:linear-gradient(90deg,#88adff 0.5px,#61c0ff 8.5px,#2ce7ff 13.5px,#28effb 14.5px,#43f0e9 15.5px,#72f0c8 16.5px,#c0f07d 17.5px,#f9f255 18.5px,#ffffff 19.5px,#ffffff 99.5px,#fffeef 100.5px,#f1f03b 101.5px,#adf091 102.5px,#6af0cf 103.5px,#3ef0ec 104.5px,#26eefd 105.5px,#62bfff 111.5px,#89adff 119.5px,#8bacff 120.5px)"></div><div style="height:1px;background:linear-gradient(90deg,#86aeff 0.5px,#5cc3ff 8.5px,#26ecfe 13.5px,#35f0f1 14.5px,#5cf0d8 15.5px,#99f0a6 16.5px,#e3f049 17.5px,#fffac0 18.5px,#ffffff 19.5px,#ffffff 100.5px,#fef794 101.5px,#dbf057 102.5px,#8bf0b3 103.5px,#52f0df 104.5px,#30f0f5 105.5px,#27ebff 106.5px,#5ec2ff 111.5px,#87aeff 119.5px,#8aadff 120.5px)"></div><div style="height:1px;background:linear-gradient(90deg,#85aeff 0.5px,#60c0ff 7.5px,#2ae8ff 12.5px,#2af0f9 13.5px,#47f0e6 14.5px,#79f0c3 15.5px,#c8f073 16.5px,#fbf460 17.5px,#ffffff 18.5px,#ffffff 101.5px,#f5f142 102.5px,#b8f085 103.5px,#70f0ca 104.5px,#41f0ea 105.5px,#26effc 106.5px,#61bfff 112.5px,#88adff 120.5px)"></div><div style="height:1px;background:linear-gradient(90deg,#83afff 0.5px,#5bc4ff 7.5px,#25edfe 12.5px,#38f0ef 13.5px,#62f0d4 14.5px,#a4f09b 15.5px,#eaf03c 16.5px,#fffddf 17.5px,#ffffff 18.5px,#ffffff 101.5px,#fffbc0 102.5px,#e2f04c 103.5px,#93f0ac 104.5px,#55f0dc 105.5px,#32f0f4 106.5px,#26ecff 107.5px,#65beff 113.5px,#87aeff 120.5px)"></div><div style="height:1px;background:linear-gradient(90deg,#81b0ff 0.5px,#56c7ff 7.5px,#29e9ff 11.5px,#2cf0f7 12.5px,#4df0e2 13.5px,#80f0bd 14.5px,#cff069 15.5px,#fdf888 16.5px,#ffffff 17.5px,#ffffff 102.5px,#f8f459 103.5px,#bdf080 104.5px,#75f0c6 105.5px,#45f0e7 106.5px,#28effb 107.5px,#44d5ff 110.5px,#6eb9ff 115.5px,#85aeff 120.5px)"></div><div style="height:1px;background:linear-gradient(90deg,#7fb0ff 0.5px,#51cbff 7.5px,#26eefd 11.5px,#3cf0ed 12.5px,#67f0d0 13.5px,#aef090 14.5px,#f0f13f 15.5px,#fffeef 16.5px,#ffffff 17.5px,#ffffff 102.5px,#fffcd1 103.5px,#e8f041 104.5px,#9bf0a4 105.5px,#5bf0d9 106.5px,#36f0f1 107.5px,#25edfe 108.5px,#64beff 114.5px,#83afff 120.5px)"></div><div style="height:1px;background:linear-gradient(90deg,#7db2ff 0.5px,#55c8ff 6.5px,#28eaff 10.5px,#2ff0f5 11.5px,#52f0de 12.5px,#89f0b6 13.5px,#d7f05e 14.5px,#fef9a5 15.5px,#ffffff 16.5px,#ffffff 103.5px,#faf672 104.5px,#c7f074 105.5px,#7df0bf 106.5px,#49f0e4 107.5px,#29f0f9 108.5px,#2ae8ff 109.5px,#67bdff 115.5px,#82afff 120.5px)"></div><div style="height:1px;background:linear-gradient(90deg,#7ab3ff 0.5px,#50ccff 6.5px,#26effc 10.5px,#3ff0eb 11.5px,#6df0cc 12.5px,#b8f085 13.5px,#f5f353 14.5px,#ffffff 15.5px,#ffffff 103.5px,#fffeef 104.5px,#edf145 105.5px,#a4f09b 106.5px,#61f0d5 107.5px,#3af0ee 108.5px,#25eefd 109.5px,#63beff 115.5px,#80b0ff 120.5px)"></div><div style="height:1px;background:linear-gradient(90deg,#77b4ff 0.5px,#54c9ff 5.5px,#26ecff 9.5px,#32f0f3 10.5px,#55f0dd 11.5px,#8ff0af 12.5px,#def052 13.5px,#fefbc2 14.5px,#ffffff 15.5px,#ffffff 104.5px,#fcf88c 105.5px,#d2f066 106.5px,#85f0b8 107.5px,#4df0e2 108.5px,#2cf0f8 109.5px,#29e9ff 110.5px,#66bdff 116.5px,#7db1ff 120.5px)"></div><div style="height:1px;background:linear-gradient(90deg,#74b6ff 0.5px,#4fcdff 5.5px,#2ce7ff 8.5px,#27effb 9.5px,#43f0e8 10.5px,#74f0c7 11.5px,#bff07e 12.5px,#f7f45d 13.5px,#ffffff 14.5px,#ffffff 105.5px,#f2f24b 106.5px,#65f0d2 108.5px,#3cf0ed 109.5px,#26eefd 110.5px,#63bfff 116.5px,#7ab3ff 120.5px)"></div><div style="height:1px;background:linear-gradient(90deg,#71b8ff 0.5px,#49d1ff 5.5px,#26ecfe 8.5px,#36f0f1 9.5px,#5cf0d8 10.5px,#98f0a7 11.5px,#e5f046 12.5px,#fffde1 13.5px,#ffffff 14.5px,#ffffff 105.5px,#fdf9a7 106.5px,#d6f060 107.5px,#8cf0b3 108.5px,#52f0df 109.5px,#2ef0f6 110.5px,#28eaff 111.5px,#65bdff 117.5px,#77b4ff 120.5px)"></div><div style="height:1px;background:linear-gradient(90deg,#6eb9ff 0.5px,#43d6ff 5.5px,#2ae8ff 7.5px,#2af0f9 8.5px,#47f0e6 9.5px,#7bf0c1 10.5px,#c9f071 11.5px,#faf783 12.5px,#ffffff 13.5px,#ffffff 106.5px,#f6f461 107.5px,#b6f088 108.5px,#6cf0cd 109.5px,#41f0ea 110.5px,#27effc 111.5px,#62bfff 117.5px,#75b6ff 120.5px)"></div><div style="height:1px;background:linear-gradient(90deg,#6abbff 0.5px,#3ddaff 5.5px,#25edfe 7.5px,#39f0ef 8.5px,#63f0d4 9.5px,#a3f09d 10.5px,#ebf14b 11.5px,#fffef0 12.5px,#ffffff 13.5px,#ffffff 106.5px,#fefbc4 107.5px,#dff051 108.5px,#95f0aa 109.5px,#57f0db 110.5px,#32f0f4 111.5px,#26ecff 112.5px,#65beff 118.5px,#72b7ff 120.5px)"></div><div style="height:1px;background:linear-gradient(90deg,#67bdff 0.5px,#36dfff 5.5px,#29e9ff 6.5px,#2bf0f8 7.5px,#4bf0e3 8.5px,#82f0bb 9.5px,#d3f065 10.5px,#fcf89c 11.5px,#ffffff 12.5px,#ffffff 107.5px,#f8f678 108.5px,#bff07e 109.5px,#74f0c7 110.5px,#46f0e7 111.5px,#28effa 112.5px,#38deff 114.5px,#68bcff 119.5px,#6eb9ff 120.5px)"></div><div style="height:1px;background:linear-gradient(90deg,#63bfff 0.5px,#26eefd 6.5px,#3df0ec 7.5px,#66f0d1 8.5px,#a9f096 9.5px,#f0f250 10.5px,#ffffff 11.5px,#ffffff 107.5px,#fffde1 108.5px,#e7f152 109.5px,#9ff0a0 110.5px,#5cf0d8 111.5px,#36f0f1 112.5px,#25edfe 113.5px,#64beff 119.5px,#6bbbff 120.5px)"></div><div style="height:1px;background:linear-gradient(90deg,#5ec1ff 0.5px,#27ebff 5.5px,#2ef0f6 6.5px,#50f0e0 7.5px,#8bf0b4 8.5px,#d8f05c 9.5px,#fdfab9 10.5px,#ffffff 11.5px,#ffffff 108.5px,#fbf890 109.5px,#c8f073 110.5px,#7ef0bf 111.5px,#4bf0e3 112.5px,#2af0f9 113.5px,#2ae8ff 114.5px,#67bcff 120.5px)"></div></div>
<div style="position:absolute;left:169px;top:197px;width:121px;height:120px"><div style="height:1px;background:linear-gradient(90deg,#b7aaff 0.5px,#b7aaff 120.5px)"></div><div style="height:1px;background:linear-gradient(90deg,#b7aaff 0.5px,#b7aaff 120.5px)"></div><div style="height:1px;background:linear-gradient(90deg,#b7aaff 0.5px,#b7aaff 120.5px)"></div><div style="height:1px;background:linear-gradient(90deg,#b7aaff 0.5px,#b7aaff 120.5px)"></div><div style="height:1px;background:linear-gradient(90deg,#b7aaff 0.5px,#b7aaff 120.5px)"></div><div style="height:1px;background:linear-gradient(90deg,#b7aaff 0.5px,#b7aaff 120.5px)"></div><div style="height:1px;background:linear-gradient(90deg,#b7aaff 0.5px,#b7aaff 120.5px)"></div><div style="height:1px;background:linear-gradient(90deg,#b7aaff 0.5px,#b7aaff 120.5px)"></div><div style="height:1px;background:linear-gradient(90deg,#b7aaff 0.5px,#b7aaff 120.5px)"></div><div style="height:1px;background:linear-gradient(90deg,#b7aaff 0.5px,#b7aaff 120.5px)"></div><div style="height:1px;background:linear-gradient(90deg,#b6aaff 0.5px,#b7aaff 120.5px)"></div><div style="height:1px;background:linear-gradient(90deg,#b6aaff 0.5px,#b6aaff 120.5px)"></div><div style="height:1px;background:linear-gradient(90deg,#b6aaff 0.5px,#b6aaff 120.5px)"></div><div style="height:1px;background:linear-gradient(90deg,#b6aaff 0.5px,#b6aaff 120.5px)"></div><div style="height:1px;background:linear-gradient(90deg,#b6aaff 0.5px,#b6aaff 120.5px)"></div><div style="height:1px;background:linear-gradient(90deg,#b6aaff 0.5px,#b6aaff 120.5px)"></div><div style="height:1px;background:linear-gradient(90deg,#b6aaff 0.5px,#b6aaff 120.5px)"></div><div style="height:1px;background:linear-gradient(90deg,#b6aaff 0.5px,#b6aaff 120.5px)"></div><div style="height:1px;background:linear-gradient(90deg,#b6aaff 0.5px,#b6aaff 120.5px)"></div><div style="height:1px;background:linear-gradient(90deg,#b6aaff 0.5px,#b6aaff 120.5px)"></div><div style="height:1px;background:linear-gradient(90deg,#b6aaff 0.5px,#b5aaff 118.5px,#b6aaff 120.5px)"></div><div style="height:1px;background:linear-gradient(90deg,#b5aaff 0.5px,#b5aaff 114.5px,#b6aaff 120.5px)"></div><div style="height:1px;background:linear-gradient(90deg,#b5aaff 0.5px,#b4a9ff 109.5px,#b5aaff 120.5px)"></div><div style="height:1px;background:linear-gradient(90deg,#b5aaff 0.5px,#b3a9ff 105.5px,#b5aaff 120.5px)"></div><div style="height:1px;background:linear-gradient(90deg,#b5aaff 0.5px,#b3a9ff 102.5px,#b5aaff 120.5px)"></div><div style="height:1px;background:linear-gradient(90deg,#b5aaff 0.5px,#b2a9ff 98.5px,#b5aaff 120.5px)"></div><div style="height:1px;background:linear-gradient(90deg,#b5aaff 0.5px,#b1a8ff 95.5px,#b5aaff 120.5px)"></div><div style="height:1px;background:linear-gradient(90deg,#b5aaff 0.5px,#b0a8ff 92.5px,#b5aaff 120.5px)"></div><div style="height:1px;background:linear-gradient(90deg,#b5aaff 0.5px,#afa8ff 90.5px,#b5aaff 120.5px)"></div><div style="height:1px;background:linear-gradient(90deg,#b4a9ff 0.5px,#aea8ff 88.5px,#b5aaff 120.5px)"></div><div style="height:1px;background:linear-gradient(90deg,#b4a9ff 0.5px,#ada8ff 86.5px,#b4a9ff 120.5px)"></div><div style="height:1px;background:linear-gradient(90deg,#b4a9ff 0.5px,#aca8ff 84.5px,#b4a9ff 120.5px)"></div><div style="height:1px;background:linear-gradient(90deg,#b4a9ff 0.5px,#aba8ff 82.5px,#b4a9ff 120.5px)"></div><div style="height:1px;background:linear-gradient(90deg,#b4a9ff 0.5px,#aaa8ff 79.5px,#b4a9ff 120.5px)"></div><div style="height:1px;background:linear-gradient(90deg,#b4a9ff 0.5px,#a9a8ff 77.5px,#b4a9ff 120.5px)"></div><div style="height:1px;background:linear-gradient(90deg,#b4a9ff 0.5px,#a8a8ff 75.5px,#b4a9ff 120.5px)"></div><div style="height:1px;background:linear-gradient(90deg,#b3a9ff 0.5px,#a7a8ff 73.5px,#b4a9ff 120.5px)"></div><div style="height:1px;background:linear-gradient(90deg,#b3a9ff 0.5px,#a5a8ff 70.5px,#b3a9ff 120.5px)"></div><div style="height:1px;background:linear-gradient(90deg,#b3a9ff 0.5px,#a4a8ff 68.5px,#b3a9ff 120.5px)"></div><div style="height:1px;background:linear-gradient(90deg,#b3a9ff 0.5px,#a3a8ff 66.5px,#b3a9ff 120.5px)"></div><div style="height:1px;background:linear-gradient(90deg,#b3a9ff 0.5px,#a1a8ff 64.5px,#b3a9ff 120.5px)"></div><div style="height:1px;background:linear-gradient(90deg,#b3a9ff 0.5px,#a0a8ff 63.5px,#b3a9ff 120.5px)"></div><div style="height:1px;background:linear-gradient(90deg,#b2a9ff 0.5px,#9ea8ff 61.5px,#b3a9ff 120.5px)"></div><div style="height:1px;background:linear-gradient(90deg,#b2a9ff 0.5px,#9da8ff 59.5px,#aca8ff 103.5px,#b2a9ff 120.5px)"></div><div style="height:1px;background:linear-gradient(90deg,#b2a9ff 0.5px,#9ba8ff 58.5px,#a9a8ff 98.5px,#b2a9ff 120.5px)"></div><div style="height:1px;background:linear-gradient(90deg,#b2a9ff 0.5px,#99a8ff 56.5px,#a5a8ff 94.5px,#b2a9ff 120.5px)"></div><div style="height:1px;background:linear-gradient(90deg,#b2a9ff 0.5px,#98a8ff 55.5px,#a2a8ff 92.5px,#b2a9ff 120.5px)"></div><div style="height:1px;background:linear-gradient(90deg,#b1a8ff 0.5px,#96a9ff 53.5px,#9fa8ff 90.5px,#b2a9ff 120.5px)"></div><div style="height:1px;background:linear-gradient(90deg,#b1a8ff 0.5px,#94a9ff 51.5px,#9da8ff 89.5px,#b1a8ff 120.5px)"></div><div style="height:1px;background:linear-gradient(90deg,#b1a8ff 0.5px,#92aaff 51.5px,#9ba8ff 88.5px,#b1a8ff 120.5px)"></div><div style="height:1px;background:linear-gradient(90deg,#b1a8ff 0.5px,#90abff 50.5px,#98a8ff 87.5px,#b1a8ff 120.5px)"></div><div style="height:1px;background:linear-gradient(90deg,#b0a8ff 0.5px,#8eabff 49.5px,#95a9ff 86.5px,#b1a8ff 120.5px)"></div><div style="height:1px;background:linear-gradient(90deg,#b0a8ff 0.5px,#8bacff 48.5px,#92aaff 85.5px,#b0a8ff 120.5px)"></div><div style="height:1px;background:linear-gradient(90deg,#b0a8ff 0.5px,#90abff 34.5px,#89adff 70.5px,#99a8ff 92.5px,#b0a8ff 120.5px)"></div><div style="height:1px;background:linear-gradient(90deg,#afa8ff 0.5px,#91aaff 32.5px,#85aeff 53.5px,#8dacff 84.5px,#aea8ff 117.5px,#b0a8ff 120.5px)"></div><div style="height:1px;background:linear-gradient(90deg,#afa8ff 0.5px,#90abff 31.5px,#83afff 48.5px,#89adff 83.5px,#ada8ff 115.5px,#afa8ff 120.5px)"></div><div style="height:1px;background:linear-gradient(90deg,#afa8ff 0.5px,#90abff 30.5px,#7fb1ff 46.5px,#84afff 82.5px,#aba8ff 113.5px,#afa8ff 120.5px)"></div><div style="height:1px;background:linear-gradient(90deg,#aea8ff 0.5px,#90abff 29.5px,#7ab3ff 44.5px,#7fb1ff 81.5px,#a8a8ff 110.5px,#afa8ff 120.5px)"></div><div style="height:1px;background:linear-gradient(90deg,#aea8ff 0.5px,#8eabff 29.5px,#73b6ff 43.5px,#77b4ff 80.5px,#a2a8ff 104.5px,#aea8ff 120.5px)"></div><div style="height:1px;background:linear-gradient(90deg,#ada8ff 0.5px,#8cacff 29.5px,#6cbaff 43.5px,#71b7ff 80.5px,#9ba8ff 99.5px,#aea8ff 120.5px)"></div><div style="height:1px;background:linear-gradient(90deg,#ada8ff 0.5px,#8dacff 28.5px,#64beff 43.5px,#67bcff 79.5px,#92aaff 94.5px,#ada8ff 120.5px)"></div><div style="height:1px;background:linear-gradient(90deg,#aca8ff 0.5px,#8bacff 28.5px,#5ac5ff 42.5px,#60c0ff 69.5px,#5bc3ff 78.5px,#8cacff 92.5px,#ada8ff 120.5px)"></div><div style="height:1px;background:linear-gradient(90deg,#aca8ff 0.5px,#8bacff 27.5px,#6eb9ff 35.5px,#4ccfff 42.5px,#57c6ff 54.5px,#52caff 74.5px,#4fcdff 78.5px,#86aeff 90.5px,#aba8ff 117.5px,#ada8ff 120.5px)"></div><div style="height:1px;background:linear-gradient(90deg,#aba8ff 0.5px,#88adff 27.5px,#6eb9ff 34.5px,#3ddaff 42.5px,#4dceff 51.5px,#48d2ff 73.5px,#3ddaff 77.5px,#78b4ff 87.5px,#9aa8ff 102.5px,#aca8ff 120.5px)"></div><div style="height:1px;background:linear-gradient(90deg,#aba8ff 0.5px,#89adff 26.5px,#70b8ff 33.5px,#30e4ff 41.5px,#33e1ff 44.5px,#43d6ff 52.5px,#3ddaff 72.5px,#2ce7ff 77.5px,#46d3ff 81.5px,#6fb9ff 86.5px,#8aadff 94.5px,#aca8ff 120.5px)"></div><div style="height:1px;background:linear-gradient(90deg,#aaa8ff 0.5px,#87aeff 26.5px,#65bdff 34.5px,#27ecfe 40.5px,#2bf0f8 43.5px,#28eaff 45.5px,#38deff 53.5px,#33e2ff 71.5px,#26eefd 75.5px,#2df0f7 77.5px,#27ecfe 79.5px,#6abbff 86.5px,#88adff 94.5px,#aba8ff 120.5px)"></div><div style="height:1px;background:linear-gradient(90deg,#aaa8ff 0.5px,#84afff 26.5px,#60c0ff 34.5px,#2ce7ff 38.5px,#27effc 39.5px,#55f0dc 42.5px,#51f0df 43.5px,#30f0f5 45.5px,#25ecff 48.5px,#2ce7ff 66.5px,#29f0fa 73.5px,#53f0de 76.5px,#55f0dd 77.5px,#27eefc 80.5px,#65bdff 86.5px,#89adff 95.5px,#aaa8ff 120.5px)"></div><div style="height:1px;background:linear-gradient(90deg,#a9a8ff 0.5px,#82afff 26.5px,#59c5ff 34.5px,#27eefd 38.5px,#92f0ae 42.5px,#8bf0b3 43.5px,#6cf0cd 44.5px,#46f0e7 46.5px,#29f0f9 50.5px,#27f0fa 68.5px,#3cf0ed 72.5px,#58f0db 74.5px,#8ef0b1 76.5px,#91f0ae 77.5px,#5bf0d9 79.5px,#38f0f0 80.5px,#26eefd 81.5px,#60c0ff 86.5px,#86aeff 95.5px,#aaa8ff 120.5px)"></div><div style="height:1px;background:linear-gradient(90deg,#a9a8ff 0.5px,#82afff 25.5px,#5bc3ff 33.5px,#2be8ff 37.5px,#2ff0f5 38.5px,#59f0da 39.5px,#92f0ad 40.5px,#bbf083 41.5px,#d9f05d 42.5px,#d4f064 43.5px,#8cf0b3 45.5px,#60f0d5 47.5px,#44f0e8 50.5px,#36f0f1 59.5px,#40f0ea 68.5px,#55f0dd 71.5px,#75f0c7 73.5px,#90f0b0 74.5px,#d7f060 76.5px,#d9f05e 77.5px,#bbf083 78.5px,#84f0ba 79.5px,#36f0f1 81.5px,#28ebff 82.5px,#59c5ff 86.5px,#84afff 95.5px,#a9a8ff 120.5px)"></div><div style="height:1px;background:linear-gradient(90deg,#a8a8ff 0.5px,#82afff 24.5px,#5bc3ff 32.5px,#26eefd 37.5px,#40f0ea 38.5px,#72f0c8 39.5px,#bef07f 40.5px,#f2eb2d 41.5px,#fddb0b 42.5px,#fcdb0d 43.5px,#ecef3a 44.5px,#d1f069 45.5px,#97f0a9 47.5px,#74f0c8 49.5px,#59f0da 53.5px,#53f0de 63.5px,#63f0d3 68.5px,#84f0ba 71.5px,#b5f089 73.5px,#d4f065 74.5px,#efef34 75.5px,#fcd80b 76.5px,#fcdc0b 77.5px,#ebef3b 78.5px,#bef07f 79.5px,#81f0bd 80.5px,#4af0e4 81.5px,#29effa 82.5px,#3cdbff 84.5px,#62bfff 88.5px,#86aeff 97.5px,#a9a8ff 120.5px)"></div><div style="height:1px;background:linear-gradient(90deg,#a7a8ff 0.5px,#7fb0ff 24.5px,#5dc2ff 31.5px,#28eaff 36.5px,#31f0f4 37.5px,#57f0dc 38.5px,#92f0ad 39.5px,#dcf058 40.5px,#fec605 41.5px,#fa4a07 42.5px,#ff8e40 43.5px,#ffd041 44.5px,#faf153 45.5px,#dcf490 47.5px,#b0f4bf 50.5px,#9af4d3 54.5px,#97f4d6 63.5px,#a9f4c7 68.5px,#cdf4a2 71.5px,#eff472 73.5px,#fbef50 74.5px,#ffca40 75.5px,#ff8841 76.5px,#fd5704 77.5px,#fec405 78.5px,#e8f042 79.5px,#a3f09c 80.5px,#62f0d4 81.5px,#38f0ef 82.5px,#26edfe 83.5px,#5bc4ff 88.5px,#82b0ff 96.5px,#a8a8ff 120.5px)"></div><div style="height:1px;background:linear-gradient(90deg,#a7a8ff 0.5px,#7fb0ff 23.5px,#56c8ff 31.5px,#2ae8ff 35.5px,#28effb 36.5px,#45f0e7 37.5px,#73f0c8 38.5px,#b8f086 39.5px,#f2ed2a 40.5px,#ff8a00 41.5px,#fda7a5 42.5px,#ffffff 43.5px,#ffffff 76.5px,#fbb5b5 77.5px,#ff7511 78.5px,#f9e418 79.5px,#c8f074 80.5px,#81f0bc 81.5px,#4ef0e1 82.5px,#2df0f7 83.5px,#29e9ff 84.5px,#63bfff 90.5px,#89adff 100.5px,#a8a8ff 120.5px)"></div><div style="height:1px;background:linear-gradient(90deg,#a6a8ff 0.5px,#80b0ff 22.5px,#57c7ff 30.5px,#27effb 35.5px,#5ef0d7 37.5px,#99f0a7 38.5px,#dbf059 39.5px,#fdd208 40.5px,#ffce9f 41.5px,#ffffff 42.5px,#ffffff 77.5px,#ffe2cf 78.5px,#ffc312 79.5px,#e8f043 80.5px,#a9f097 81.5px,#6af0ce 82.5px,#41f0ea 83.5px,#27effb 84.5px,#41d7ff 87.5px,#69bbff 92.5px,#8bacff 102.5px,#a7a8ff 120.5px)"></div><div style="height:1px;background:linear-gradient(90deg,#a5a8ff 0.5px,#7cb2ff 22.5px,#4fcdff 30.5px,#26eefd 34.5px,#38f0ef 35.5px,#5bf0d9 36.5px,#88f0b6 37.5px,#c3f07a 38.5px,#f5ec24 39.5px,#ffe89f 40.5px,#ffffff 41.5px,#ffffff 78.5px,#fff1cf 79.5px,#fae823 80.5px,#d2f067 81.5px,#90f0af 82.5px,#5bf0d8 83.5px,#3bf0ee 84.5px,#27effb 85.5px,#63beff 92.5px,#87aeff 101.5px,#a6a8ff 120.5px)"></div><div style="height:1px;background:linear-gradient(90deg,#a5a8ff 0.5px,#7cb2ff 21.5px,#57c7ff 28.5px,#26edfe 33.5px,#33f0f3 34.5px,#52f0df 35.5px,#7ff0be 36.5px,#bdf081 37.5px,#ecf03b 38.5px,#fef8a2 39.5px,#ffffff 40.5px,#ffffff 79.5px,#fffad0 80.5px,#f1f13e 81.5px,#83f0bb 83.5px,#39f0ef 85.5px,#26eefd 86.5px,#5dc3ff 92.5px,#85aeff 101.5px,#a6a8ff 120.5px)"></div><div style="height:1px;background:linear-gradient(90deg,#a4a8ff 0.5px,#7cb2ff 20.5px,#57c7ff 27.5px,#27ecff 32.5px,#2ff0f6 33.5px,#4bf0e3 34.5px,#74f0c7 35.5px,#e6f157 37.5px,#fefcd5 38.5px,#ffffff 39.5px,#ffffff 80.5px,#fefcd4 81.5px,#e8f153 82.5px,#bcf082 83.5px,#80f0bd 84.5px,#54f0dd 85.5px,#35f0f2 86.5px,#26edfe 87.5px,#64beff 94.5px,#8aadff 104.5px,#a5a8ff 120.5px)"></div><div style="height:1px;background:linear-gradient(90deg,#a4a8ff 0.5px,#78b4ff 20.5px,#4fcdff 27.5px,#26ecfe 31.5px,#2df0f6 32.5px,#47f0e6 33.5px,#6df0cc 34.5px,#ddf166 36.5px,#fdfcd9 37.5px,#ffffff 38.5px,#ffffff 81.5px,#fefef2 82.5px,#e8f371 83.5px,#b2f08d 84.5px,#78f0c4 85.5px,#4ff0e1 86.5px,#32f0f4 87.5px,#26edfe 88.5px,#64beff 95.5px,#8aadff 105.5px,#a5a8ff 120.5px)"></div><div style="height:1px;background:linear-gradient(90deg,#a3a8ff 0.5px,#79b4ff 19.5px,#50ccff 26.5px,#26ecfe 30.5px,#2ff0f5 31.5px,#69f0cf 33.5px,#d5f171 35.5px,#fbfcdc 36.5px,#ffffff 37.5px,#ffffff 82.5px,#fefef3 83.5px,#e2f37b 84.5px,#aaf096 85.5px,#73f0c8 86.5px,#4cf0e3 87.5px,#30f0f5 88.5px,#26edfe 89.5px,#64beff 96.5px,#8aadff 106.5px,#a4a8ff 120.5px)"></div><div style="height:1px;background:linear-gradient(90deg,#a2a8ff 0.5px,#79b3ff 18.5px,#4fcdff 25.5px,#27ebff 29.5px,#2ef0f6 30.5px,#49f0e5 31.5px,#6ff0cb 32.5px,#d0f177 34.5px,#fafcde 35.5px,#ffffff 36.5px,#ffffff 83.5px,#fefef4 84.5px,#ddf381 85.5px,#a4f09c 86.5px,#6ff0cb 87.5px,#34f0f2 89.5px,#26edfe 90.5px,#5ec2ff 96.5px,#86aeff 105.5px,#a4a8ff 120.5px)"></div><div style="height:1px;background:linear-gradient(90deg,#a2a8ff 0.5px,#79b4ff 17.5px,#4fcdff 24.5px,#27ebff 28.5px,#2df0f7 29.5px,#47f0e6 30.5px,#6cf0cd 31.5px,#a0f0a0 32.5px,#d9f386 33.5px,#fbfde9 34.5px,#ffffff 35.5px,#ffffff 84.5px,#fdfef4 85.5px,#d9f385 86.5px,#a7f098 87.5px,#77f0c5 88.5px,#4ff0e1 89.5px,#32f0f3 90.5px,#26edfe 91.5px,#64beff 98.5px,#8bacff 108.5px,#a3a8ff 120.5px)"></div><div style="height:1px;background:linear-gradient(90deg,#a1a8ff 0.5px,#79b4ff 16.5px,#4fcdff 23.5px,#26ecfe 27.5px,#2cf0f7 28.5px,#46f0e6 29.5px,#6af0ce 30.5px,#9df0a2 31.5px,#d7f388 32.5px,#fdfef4 33.5px,#ffffff 34.5px,#ffffff 85.5px,#fdfef4 86.5px,#e4f69f 87.5px,#abf094 88.5px,#75f0c6 89.5px,#4ef0e1 90.5px,#31f0f4 91.5px,#26edfe 92.5px,#64beff 99.5px,#8cacff 109.5px,#a3a8ff 120.5px)"></div><div style="height:1px;background:linear-gradient(90deg,#a1a8ff 0.5px,#7ab3ff 15.5px,#4fccff 22.5px,#26edfe 26.5px,#31f0f4 27.5px,#69f0cf 29.5px,#9cf0a4 30.5px,#d6f38a 31.5px,#fdfef5 32.5px,#ffffff 33.5px,#ffffff 87.5px,#e3f6a1 88.5px,#a9f096 89.5px,#74f0c7 90.5px,#4df0e2 91.5px,#31f0f4 92.5px,#26edfe 93.5px,#65beff 100.5px,#8bacff 109.5px,#a2a8ff 120.5px)"></div><div style="height:1px;background:linear-gradient(90deg,#a1a8ff 0.5px,#7cb2ff 14.5px,#4fcdff 21.5px,#26edfe 25.5px,#31f0f4 26.5px,#4df0e2 27.5px,#74f0c7 28.5px,#9ef0a1 29.5px,#d5f38a 30.5px,#fdfef5 31.5px,#ffffff 32.5px,#ffffff 88.5px,#e2f6a1 89.5px,#a8f097 90.5px,#73f0c8 91.5px,#4ff0e1 92.5px,#26eefd 94.5px,#65bdff 101.5px,#8cacff 110.5px,#a2a8ff 120.5px)"></div><div style="height:1px;background:linear-gradient(90deg,#a0a8ff 0.5px,#79b4ff 14.5px,#57c6ff 19.5px,#26edfe 24.5px,#32f0f3 25.5px,#4ff0e1 26.5px,#76f0c6 27.5px,#abf094 28.5px,#e0f597 29.5px,#fdfef5 30.5px,#ffffff 31.5px,#ffffff 89.5px,#e2f6a1 90.5px,#aaf095 91.5px,#7ef0bf 92.5px,#56f0dc 93.5px,#37f0f0 94.5px,#26eefd 95.5px,#67bdff 102.5px,#8bacff 110.5px,#a2a8ff 120.5px)"></div><div style="height:1px;background:linear-gradient(90deg,#a0a8ff 0.5px,#7cb2ff 13.5px,#51ccff 19.5px,#26edfd 23.5px,#35f0f2 24.5px,#51f0df 25.5px,#79f0c3 26.5px,#aff090 27.5px,#e5f69e 28.5px,#ffffff 29.5px,#ffffff 90.5px,#eaf8b1 91.5px,#b9f085 92.5px,#82f0bc 93.5px,#57f0db 94.5px,#39f0ef 95.5px,#26eefc 96.5px,#62bfff 102.5px,#8bacff 110.5px,#a1a8ff 120.5px)"></div><div style="height:1px;background:linear-gradient(90deg,#a0a8ff 0.5px,#7ab3ff 13.5px,#54c9ff 18.5px,#2fe5ff 21.5px,#29effa 22.5px,#56f0dc 24.5px,#7ff0be 25.5px,#b5f08a 26.5px,#e8f69a 27.5px,#ffffff 28.5px,#ffffff 91.5px,#f1f9c3 92.5px,#bdf080 93.5px,#86f0b8 94.5px,#5bf0d9 95.5px,#3cf0ed 96.5px,#27effb 97.5px,#66bdff 103.5px,#8aadff 110.5px,#a1a8ff 120.5px)"></div><div style="height:1px;background:linear-gradient(90deg,#a0a8ff 0.5px,#7fb1ff 12.5px,#5bc4ff 17.5px,#27ebff 21.5px,#37f0f0 22.5px,#6af0cf 23.5px,#8ef0b1 24.5px,#bff07e 25.5px,#edf693 26.5px,#ffffff 27.5px,#ffffff 92.5px,#f3f9c0 93.5px,#c4f078 94.5px,#8ef0b0 95.5px,#38f0ef 97.5px,#28ebff 98.5px,#63bfff 103.5px,#89adff 110.5px,#a1a8ff 120.5px)"></div><div style="height:1px;background:linear-gradient(90deg,#9fa8ff 0.5px,#7eb1ff 12.5px,#58c6ff 17.5px,#2fe5ff 20.5px,#28effb 21.5px,#46f0e6 22.5px,#84f0b8 23.5px,#d8f05d 24.5px,#f3f687 25.5px,#ffffff 26.5px,#ffffff 93.5px,#f6f9bc 94.5px,#cff06a 95.5px,#87f0b6 96.5px,#45f0e7 97.5px,#28effa 98.5px,#3cdbff 100.5px,#69bbff 104.5px,#8cacff 111.5px,#a1a8ff 120.5px)"></div><div style="height:1px;background:linear-gradient(90deg,#9fa8ff 0.5px,#7eb1ff 12.5px,#58c6ff 17.5px,#2ce7ff 20.5px,#2cf0f7 21.5px,#54f0dd 22.5px,#93f0ac 23.5px,#ecf8b9 24.5px,#ffffff 25.5px,#ffffff 94.5px,#f3f9be 95.5px,#96f0aa 96.5px,#5af0d9 97.5px,#30f0f4 98.5px,#2ae9ff 99.5px,#60c0ff 103.5px,#85aeff 109.5px,#a1a8ff 120.5px)"></div><div style="height:1px;background:linear-gradient(90deg,#a0a8ff 0.5px,#7bb2ff 13.5px,#52cbff 18.5px,#28ecfd 21.5px,#40f0ea 22.5px,#75f0c5 23.5px,#e9fbe6 24.5px,#ffffff 25.5px,#ffffff 95.5px,#84f0b9 96.5px,#49f0e4 97.5px,#29eefb 98.5px,#65beff 103.5px,#87aeff 109.5px,#a2a8ff 120.5px)"></div><div style="height:1px;background:linear-gradient(90deg,#a2a8ff 0.5px,#7db2ff 14.5px,#53c9ff 19.5px,#29edfc 22.5px,#44f0e7 23.5px,#d9fbf4 24.5px,#ffffff 25.5px,#ffffff 95.5px,#50f0e0 96.5px,#2beef9 97.5px,#31e3ff 98.5px,#66bdff 102.5px,#88adff 108.5px,#a4a8ff 120.5px)"></div><div style="height:1px;background:linear-gradient(90deg,#a4a8ff 0.5px,#7eb1ff 15.5px,#55c8ff 20.5px,#29edfb 23.5px,#cdfbfb 24.5px,#ffffff 25.5px,#ffffff 95.5px,#2deff8 96.5px,#30e4ff 97.5px,#5ec2ff 100.5px,#85aeff 106.5px,#a5a8ff 120.5px)"></div><div style="height:1px;background:linear-gradient(90deg,#a6a8ff 0.5px,#84afff 15.5px,#62bfff 20.5px,#34e1ff 23.5px,#c9faff 24.5px,#ffffff 25.5px,#ffffff 95.5px,#2fe5ff 96.5px,#5fc1ff 99.5px,#83afff 104.5px,#a7a8ff 120.5px)"></div><div style="height:1px;background:linear-gradient(90deg,#a7a8ff 0.5px,#84afff 16.5px,#63bfff 21.5px,#46d4ff 23.5px,#cef6ff 24.5px,#ffffff 25.5px,#ffffff 95.5px,#41d7ff 96.5px,#6abbff 99.5px,#8aadff 105.5px,#a8a8ff 120.5px)"></div><div style="height:1px;background:linear-gradient(90deg,#a9a8ff 0.5px,#85aeff 17.5px,#63beff 22.5px,#56c7ff 23.5px,#d2f3ff 24.5px,#ffffff 25.5px,#ffffff 95.5px,#53caff 96.5px,#7ab3ff 100.5px,#9ea8ff 112.5px,#a9a8ff 120.5px)"></div><div style="height:1px;background:linear-gradient(90deg,#aaa8ff 0.5px,#89adff 17.5px,#6eb9ff 22.5px,#64beff 23.5px,#d6f0ff 24.5px,#ffffff 25.5px,#ffffff 95.5px,#61c0ff 96.5px,#85aeff 101.5px,#a9a8ff 118.5px,#aba8ff 120.5px)"></div><div style="height:1px;background:linear-gradient(90deg,#aba8ff 0.5px,#8aadff 18.5px,#6eb9ff 23.5px,#d9eeff 24.5px,#ffffff 25.5px,#ffffff 95.5px,#6cbaff 96.5px,#89adff 101.5px,#aba8ff 119.5px,#aca8ff 120.5px)"></div><div style="height:1px;background:linear-gradient(90deg,#aca8ff 0.5px,#8eabff 18.5px,#77b4ff 23.5px,#dcedff 24.5px,#ffffff 25.5px,#ffffff 95.5px,#75b5ff 96.5px,#93aaff 103.5px,#ada8ff 120.5px)"></div><div style="height:1px;background:linear-gradient(90deg,#ada8ff 0.5px,#8eabff 19.5px,#7fb1ff 23.5px,#deecff 24.5px,#ffffff 25.5px,#ffffff 95.5px,#7db1ff 96.5px,#a0a8ff 108.5px,#ada8ff 120.5px)"></div><div style="height:1px;background:linear-gradient(90deg,#aea8ff 0.5px,#92aaff 19.5px,#85aeff 23.5px,#e0ebff 24.5px,#ffffff 25.5px,#ffffff 95.5px,#83afff 96.5px,#a6a8ff 111.5px,#aea8ff 120.5px)"></div><div style="height:1px;background:linear-gradient(90deg,#aea8ff 0.5px,#92aaff 20.5px,#89adff 23.5px,#e1ebff 24.5px,#ffffff 25.5px,#ffffff 95.5px,#88adff 96.5px,#a9a8ff 113.5px,#afa8ff 120.5px)"></div><div style="height:1px;background:linear-gradient(90deg,#afa8ff 0.5px,#95a9ff 20.5px,#8dacff 23.5px,#e2eaff 24.5px,#ffffff 25.5px,#ffffff 95.5px,#8cacff 96.5px,#aba8ff 114.5px,#afa8ff 120.5px)"></div><div style="height:1px;background:linear-gradient(90deg,#b0a8ff 0.5px,#96a9ff 21.5px,#90abff 23.5px,#e3eaff 24.5px,#ffffff 25.5px,#ffffff 95.5px,#90abff 96.5px,#ada8ff 115.5px,#b0a8ff 120.5px)"></div><div style="height:1px;background:linear-gradient(90deg,#b0a8ff 0.5px,#96a9ff 22.5px,#94a9ff 23.5px,#e4eaff 24.5px,#ffffff 25.5px,#ffffff 95.5px,#93aaff 96.5px,#aea8ff 116.5px,#b0a8ff 120.5px)"></div><div style="height:1px;background:linear-gradient(90deg,#b0a8ff 0.5px,#99a8ff 22.5px,#96a9ff 23.5px,#e4eaff 24.5px,#ffffff 25.5px,#ffffff 95.5px,#96a9ff 96.5px,#b0a8ff 118.5px,#b1a8ff 120.5px)"></div><div style="height:1px;background:linear-gradient(90deg,#b1a8ff 0.5px,#99a8ff 23.5px,#e5e9ff 24.5px,#ffffff 25.5px,#ffffff 95.5px,#98a8ff 96.5px,#b1a8ff 119.5px,#b1a8ff 120.5px)"></div><div style="height:1px;background:linear-gradient(90deg,#b1a8ff 0.5px,#9ca8ff 23.5px,#e6e9ff 24.5px,#ffffff 25.5px,#ffffff 95.5px,#9ba8ff 96.5px,#b1a8ff 120.5px)"></div><div style="height:1px;background:linear-gradient(90deg,#b2a9ff 0.5px,#9ea8ff 23.5px,#e6e9ff 24.5px,#ffffff 25.5px,#ffffff 95.5px,#9da8ff 96.5px,#b2a9ff 120.5px)"></div><div style="height:1px;background:linear-gradient(90deg,#b2a9ff 0.5px,#a0a8ff 23.5px,#e7e9ff 24.5px,#ffffff 25.5px,#ffffff 95.5px,#a0a8ff 96.5px,#b2a9ff 120.5px)"></div><div style="height:1px;background:linear-gradient(90deg,#b2a9ff 0.5px,#a2a8ff 23.5px,#e7e9ff 24.5px,#ffffff 25.5px,#ffffff 95.5px,#a1a8ff 96.5px,#b2a9ff 120.5px)"></div><div style="height:1px;background:linear-gradient(90deg,#b2a9ff 0.5px,#a4a8ff 23.5px,#e8e9ff 24.5px,#ffffff 25.5px,#ffffff 95.5px,#a3a8ff 96.5px,#b3a9ff 120.5px)"></div><div style="height:1px;background:linear-gradient(90deg,#b3a9ff 0.5px,#a5a8ff 23.5px,#e8e9ff 24.5px,#ffffff 25.5px,#ffffff 95.5px,#a5a8ff 96.5px,#b3a9ff 120.5px)"></div><div style="height:1px;background:linear-gradient(90deg,#b3a9ff 0.5px,#a6a8ff 23.5px,#e9e9ff 24.5px,#ffffff 25.5px,#ffffff 95.5px,#a6a8ff 96.5px,#b3a9ff 120.5px)"></div><div style="height:1px;background:linear-gradient(90deg,#b3a9ff 0.5px,#a8a8ff 23.5px,#e9e9ff 24.5px,#ffffff 25.5px,#ffffff 95.5px,#a7a8ff 96.5px,#b3a9ff 120.5px)"></div><div style="height:1px;background:linear-gradient(90deg,#b3a9ff 0.5px,#a9a8ff 23.5px,#e9e9ff 24.5px,#ffffff 25.5px,#ffffff 95.5px,#a9a8ff 96.5px,#b3a9ff 120.5px)"></div><div style="height:1px;background:linear-gradient(90deg,#b3a9ff 0.5px,#aaa8ff 23.5px,#eae9ff 24.5px,#ffffff 25.5px,#ffffff 95.5px,#aaa8ff 96.5px,#b4a9ff 120.5px)"></div><div style="height:1px;background:linear-gradient(90deg,#b4a9ff 0.5px,#aba8ff 23.5px,#eae9ff 24.5px,#ffffff 25.5px,#ffffff 95.5px,#aba8ff 96.5px,#b4a9ff 120.5px)"></div><div style="height:1px;background:linear-gradient(90deg,#b4a9ff 0.5px,#aca8ff 23.5px,#eae9ff 24.5px,#ffffff 25.5px,#ffffff 95.5px,#aca8ff 96.5px,#b4a9ff 120.5px)"></div><div style="height:1px;background:linear-gradient(90deg,#b4a9ff 0.5px,#aca8ff 23.5px,#eae9ff 24.5px,#ffffff 25.5px,#ffffff 95.5px,#aca8ff 96.5px,#b4a9ff 120.5px)"></div><div style="height:1px;background:linear-gradient(90deg,#b4a9ff 0.5px,#ada8ff 23.5px,#eae9ff 24.5px,#ffffff 25.5px,#ffffff 95.5px,#ada8ff 96.5px,#b4a9ff 120.5px)"></div></div>
<div style="position:absolute;left:289px;top:197px;width:120px;height:120px"><div style="height:1px;background:linear-gradient(90deg,#baabff 0.5px,#baabff 119.5px)"></div><div style="height:1px;background:linear-gradient(90deg,#baabff 0.5px,#baabff 119.5px)"></div><div style="height:1px;background:linear-gradient(90deg,#baabff 0.5px,#baabff 119.5px)"></div><div style="height:1px;background:linear-gradient(90deg,#baabff 0.5px,#baabff 119.5px)"></div><div style="height:1px;background:linear-gradient(90deg,#baabff 0.5px,#baabff 119.5px)"></div><div style="height:1px;background:linear-gradient(90deg,#baabff 0.5px,#baabff 119.5px)"></div><div style="height:1px;background:linear-gradient(90deg,#baabff 0.5px,#baabff 119.5px)"></div><div style="height:1px;background:linear-gradient(90deg,#baabff 0.5px,#baabff 119.5px)"></div><div style="height:1px;background:linear-gradient(90deg,#baabff 0.5px,#baabff 119.5px)"></div><div style="height:1px;background:linear-gradient(90deg,#baabff 0.5px,#baabff 119.5px)"></div><div style="height:1px;background:linear-gradient(90deg,#baabff 0.5px,#baabff 119.5px)"></div><div style="height:1px;background:linear-gradient(90deg,#baabff 0.5px,#baabff 119.5px)"></div><div style="height:1px;background:linear-gradient(90deg,#baabff 0.5px,#baabff 119.5px)"></div><div style="height:1px;background:linear-gradient(90deg,#baabff 0.5px,#baabff 119.5px)"></div><div style="height:1px;background:linear-gradient(90deg,#baabff 0.5px,#baabff 119.5px)"></div><div style="height:1px;background:linear-gradient(90deg,#baabff 0.5px,#baabff 119.5px)"></div><div style="height:1px;background:linear-gradient(90deg,#baabff 0.5px,#baabff 119.5px)"></div><div style="height:1px;background:linear-gradient(90deg,#baabff 0.5px,#baabff 119.5px)"></div><div style="height:1px;background:linear-gradient(90deg,#baabff 0.5px,#baabff 119.5px)"></div><div style="height:1px;background:linear-gradient(90deg,#baabff 0.5px,#baabff 119.5px)"></div><div style="height:1px;background:linear-gradient(90deg,#baabff 0.5px,#baabff 119.5px)"></div><div style="height:1px;background:linear-gradient(90deg,#baabff 0.5px,#baabff 119.5px)"></div><div style="height:1px;background:linear-gradient(90deg,#baabff 0.5px,#baabff 119.5px)"></div><div style="height:1px;background:linear-gradient(90deg,#baabff 0.5px,#baabff 119.5px)"></div><div style="height:1px;background:linear-gradient(90deg,#baabff 0.5px,#baabff 119.5px)"></div><div style="height:1px;background:linear-gradient(90deg,#baabff 0.5px,#baabff 119.5px)"></div><div style="height:1px;background:linear-gradient(90deg,#baabff 0.5px,#baabff 119.5px)"></div><div style="height:1px;background:linear-gradient(90deg,#baabff 0.5px,#baabff 119.5px)"></div><div style="height:1px;background:linear-gradient(90deg,#baabff 0.5px,#baabff 119.5px)"></div><div style="height:1px;background:linear-gradient(90deg,#b9abff 0.5px,#b9abff 119.5px)"></div><div style="height:1px;background:linear-gradient(90deg,#b9abff 0.5px,#b9abff 119.5px)"></div><div style="height:1px;background:linear-gradient(90deg,#b9abff 0.5px,#b9abff 119.5px)"></div><div style="height:1px;background:linear-gradient(90deg,#b9abff 0.5px,#b9abff 119.5px)"></div><div style="height:1px;background:linear-gradient(90deg,#b9abff 0.5px,#b9abff 119.5px)"></div><div style="height:1px;background:linear-gradient(90deg,#b9abff 0.5px,#b9abff 119.5px)"></div><div style="height:1px;background:linear-gradient(90deg,#b9abff 0.5px,#b9abff 112.5px,#b9abff 119.5px)"></div><div style="height:1px;background:linear-gradient(90deg,#b9abff 0.5px,#b8abff 104.5px,#b9abff 119.5px)"></div><div style="height:1px;background:linear-gradient(90deg,#b9abff 0.5px,#b7aaff 98.5px,#b9abff 119.5px)"></div><div style="height:1px;background:linear-gradient(90deg,#b9abff 0.5px,#b6aaff 94.5px,#b9abff 119.5px)"></div><div style="height:1px;background:linear-gradient(90deg,#b9abff 0.5px,#b5aaff 90.5px,#b9abff 119.5px)"></div><div style="height:1px;background:linear-gradient(90deg,#b9abff 0.5px,#b5aaff 87.5px,#b9abff 119.5px)"></div><div style="height:1px;background:linear-gradient(90deg,#b9abff 0.5px,#b4a9ff 85.5px,#b9abff 119.5px)"></div><div style="height:1px;background:linear-gradient(90deg,#b9abff 0.5px,#b3a9ff 82.5px,#b9abff 119.5px)"></div><div style="height:1px;background:linear-gradient(90deg,#b9abff 0.5px,#b2a9ff 79.5px,#b9abff 119.5px)"></div><div style="height:1px;background:linear-gradient(90deg,#b9abff 0.5px,#b0a8ff 77.5px,#b9abff 119.5px)"></div><div style="height:1px;background:linear-gradient(90deg,#b8abff 0.5px,#afa8ff 75.5px,#b9abff 119.5px)"></div><div style="height:1px;background:linear-gradient(90deg,#b8abff 0.5px,#aea8ff 74.5px,#b9abff 119.5px)"></div><div style="height:1px;background:linear-gradient(90deg,#b8abff 0.5px,#aca8ff 72.5px,#b8abff 119.5px)"></div><div style="height:1px;background:linear-gradient(90deg,#b8abff 0.5px,#aba8ff 71.5px,#b8abff 119.5px)"></div><div style="height:1px;background:linear-gradient(90deg,#b8abff 0.5px,#a9a8ff 70.5px,#b8abff 119.5px)"></div><div style="height:1px;background:linear-gradient(90deg,#b8abff 0.5px,#a8a8ff 69.5px,#b8abff 119.5px)"></div><div style="height:1px;background:linear-gradient(90deg,#b8abff 0.5px,#a6a8ff 68.5px,#b8abff 119.5px)"></div><div style="height:1px;background:linear-gradient(90deg,#b8abff 0.5px,#a4a8ff 67.5px,#b8abff 119.5px)"></div><div style="height:1px;background:linear-gradient(90deg,#b8abff 0.5px,#a2a8ff 66.5px,#b8abff 119.5px)"></div><div style="height:1px;background:linear-gradient(90deg,#b8abff 0.5px,#9fa8ff 65.5px,#b8abff 119.5px)"></div><div style="height:1px;background:linear-gradient(90deg,#b7aaff 0.5px,#9da8ff 65.5px,#b8abff 119.5px)"></div><div style="height:1px;background:linear-gradient(90deg,#b7aaff 0.5px,#9ea8ff 47.5px,#a0a8ff 74.5px,#b8abff 119.5px)"></div><div style="height:1px;background:linear-gradient(90deg,#b7aaff 0.5px,#9fa8ff 43.5px,#9aa8ff 68.5px,#b7aaff 116.5px,#b7aaff 119.5px)"></div><div style="height:1px;background:linear-gradient(90deg,#b7aaff 0.5px,#a0a8ff 40.5px,#96a9ff 65.5px,#b6aaff 114.5px,#b7aaff 119.5px)"></div><div style="height:1px;background:linear-gradient(90deg,#b7aaff 0.5px,#a0a8ff 38.5px,#93aaff 64.5px,#b6aaff 113.5px,#b7aaff 119.5px)"></div><div style="height:1px;background:linear-gradient(90deg,#b7aaff 0.5px,#a0a8ff 36.5px,#8fabff 62.5px,#b6aaff 113.5px,#b7aaff 119.5px)"></div><div style="height:1px;background:linear-gradient(90deg,#b7aaff 0.5px,#a1a8ff 34.5px,#8cacff 60.5px,#b6aaff 114.5px,#b7aaff 119.5px)"></div><div style="height:1px;background:linear-gradient(90deg,#b7aaff 0.5px,#a1a8ff 32.5px,#88adff 59.5px,#a4a8ff 88.5px,#b7aaff 119.5px)"></div><div style="height:1px;background:linear-gradient(90deg,#b7aaff 0.5px,#a1a8ff 31.5px,#84afff 58.5px,#9aa8ff 82.5px,#b5aaff 113.5px,#b7aaff 119.5px)"></div><div style="height:1px;background:linear-gradient(90deg,#b6aaff 0.5px,#a3a8ff 29.5px,#80b0ff 58.5px,#96a9ff 81.5px,#b4a9ff 110.5px,#b7aaff 119.5px)"></div><div style="height:1px;background:linear-gradient(90deg,#b6aaff 0.5px,#a1a8ff 29.5px,#7ab3ff 59.5px,#9da8ff 86.5px,#b5aaff 113.5px,#b7aaff 119.5px)"></div><div style="height:1px;background:linear-gradient(90deg,#b6aaff 0.5px,#a1a8ff 28.5px,#73b7ff 58.5px,#84afff 73.5px,#b0a8ff 104.5px,#b6aaff 119.5px)"></div><div style="height:1px;background:linear-gradient(90deg,#b6aaff 0.5px,#a1a8ff 27.5px,#6bbbff 58.5px,#79b4ff 70.5px,#a9a8ff 97.5px,#b6aaff 119.5px)"></div><div style="height:1px;background:linear-gradient(90deg,#b6aaff 0.5px,#a1a8ff 26.5px,#69bcff 52.5px,#63beff 63.5px,#9fa8ff 91.5px,#b6aaff 117.5px,#b6aaff 119.5px)"></div><div style="height:1px;background:linear-gradient(90deg,#b6aaff 0.5px,#a0a8ff 26.5px,#6eb9ff 47.5px,#57c7ff 58.5px,#62bfff 67.5px,#99a8ff 88.5px,#b4a9ff 112.5px,#b6aaff 119.5px)"></div><div style="height:1px;background:linear-gradient(90deg,#b6aaff 0.5px,#a1a8ff 25.5px,#75b6ff 43.5px,#4ad0ff 57.5px,#51cbff 65.5px,#8fabff 84.5px,#b0a8ff 106.5px,#b6aaff 119.5px)"></div><div style="height:1px;background:linear-gradient(90deg,#b6aaff 0.5px,#a0a8ff 25.5px,#73b6ff 42.5px,#3ddaff 56.5px,#44d5ff 65.5px,#85aeff 81.5px,#aca8ff 102.5px,#b6aaff 119.5px)"></div><div style="height:1px;background:linear-gradient(90deg,#b5aaff 0.5px,#9fa8ff 25.5px,#76b5ff 40.5px,#34e1ff 54.5px,#31e3ff 63.5px,#6bbbff 76.5px,#8fabff 86.5px,#b0a8ff 107.5px,#b6aaff 119.5px)"></div><div style="height:1px;background:linear-gradient(90deg,#b5aaff 0.5px,#a0a8ff 24.5px,#79b3ff 38.5px,#41d7ff 48.5px,#26ecff 54.5px,#28eaff 65.5px,#79b4ff 80.5px,#a6a8ff 98.5px,#b6aaff 119.5px)"></div><div style="height:1px;background:linear-gradient(90deg,#b5aaff 0.5px,#a0a8ff 23.5px,#79b3ff 37.5px,#47d2ff 45.5px,#25eefe 51.5px,#40f0ea 57.5px,#3ff0eb 62.5px,#25eefe 67.5px,#54c9ff 75.5px,#85aeff 84.5px,#aba8ff 103.5px,#b6aaff 119.5px)"></div><div style="height:1px;background:linear-gradient(90deg,#b5aaff 0.5px,#9fa8ff 23.5px,#7ab3ff 36.5px,#4ccfff 43.5px,#26ebff 48.5px,#2df0f7 50.5px,#61f0d5 56.5px,#63f0d4 62.5px,#27effb 69.5px,#2be8ff 71.5px,#6eb9ff 80.5px,#94a9ff 90.5px,#b2a9ff 111.5px,#b6aaff 119.5px)"></div><div style="height:1px;background:linear-gradient(90deg,#b5aaff 0.5px,#9ea8ff 23.5px,#7ab3ff 35.5px,#4ad0ff 42.5px,#27ebff 46.5px,#25effd 47.5px,#86f0b9 55.5px,#97f0a9 57.5px,#92f0ae 62.5px,#27effb 71.5px,#2ee6ff 73.5px,#68bcff 80.5px,#90abff 89.5px,#b1a8ff 110.5px,#b5aaff 119.5px)"></div><div style="height:1px;background:linear-gradient(90deg,#b5aaff 0.5px,#9fa8ff 22.5px,#7cb2ff 34.5px,#51cbff 40.5px,#25edfe 45.5px,#3bf0ed 47.5px,#7ff0bf 51.5px,#a6f09a 53.5px,#bff07f 55.5px,#c4f079 56.5px,#d7f495 57.5px,#d8f495 61.5px,#caf17f 62.5px,#c0f07e 63.5px,#84f0bb 67.5px,#2ff0f5 72.5px,#25effd 73.5px,#69bcff 81.5px,#8eabff 89.5px,#b0a8ff 109.5px,#b5aaff 119.5px)"></div><div style="height:1px;background:linear-gradient(90deg,#b5aaff 0.5px,#a0a8ff 21.5px,#7eb1ff 33.5px,#52caff 39.5px,#26effc 44.5px,#6df0cd 48.5px,#b4f08c 51.5px,#d4f5a6 52.5px,#f3fbda 54.5px,#fcfef6 55.5px,#ffffff 57.5px,#ffffff 63.5px,#f4fbd9 64.5px,#d5f5a5 66.5px,#bbf190 67.5px,#5cf0d8 71.5px,#26effc 74.5px,#32e2ff 76.5px,#69bcff 82.5px,#8cacff 89.5px,#aea8ff 107.5px,#b5aaff 119.5px)"></div><div style="height:1px;background:linear-gradient(90deg,#b5aaff 0.5px,#9da8ff 22.5px,#7bb3ff 33.5px,#4ad1ff 39.5px,#28eaff 42.5px,#28effb 43.5px,#65f0d2 46.5px,#9cf0a4 48.5px,#c4f4ab 49.5px,#e7f9d0 50.5px,#fbfef7 51.5px,#ffffff 53.5px,#ffffff 67.5px,#d0f6b7 69.5px,#a0f0a0 70.5px,#4ff0e0 73.5px,#2af0f9 75.5px,#27ebff 76.5px,#6bbaff 83.5px,#8aadff 89.5px,#ada8ff 106.5px,#b5aaff 119.5px)"></div><div style="height:1px;background:linear-gradient(90deg,#b5aaff 0.5px,#9ea8ff 21.5px,#7eb1ff 32.5px,#56c7ff 37.5px,#29e9ff 41.5px,#28effb 42.5px,#6cf0cd 45.5px,#8df0b3 46.5px,#c5f6c2 47.5px,#f5fdf1 48.5px,#ffffff 49.5px,#ffffff 69.5px,#f6fdf1 70.5px,#d3f8cc 71.5px,#8ff0b0 72.5px,#56f0dc 74.5px,#2af0f9 76.5px,#27ebff 77.5px,#67bdff 83.5px,#88adff 89.5px,#aca8ff 105.5px,#b5aaff 119.5px)"></div><div style="height:1px;background:linear-gradient(90deg,#b5aaff 0.5px,#a0a8ff 20.5px,#79b3ff 32.5px,#50ccff 37.5px,#2ae8ff 40.5px,#26effc 41.5px,#53f0de 43.5px,#71f0ca 44.5px,#a9f4c7 45.5px,#ecfcee 46.5px,#ffffff 47.5px,#ffffff 71.5px,#f3fdf3 72.5px,#b4f5c8 73.5px,#76f0c6 74.5px,#3ff0eb 76.5px,#2af0f9 77.5px,#29e9ff 78.5px,#6abbff 84.5px,#8dacff 91.5px,#ada8ff 107.5px,#b5aaff 119.5px)"></div><div style="height:1px;background:linear-gradient(90deg,#b5aaff 0.5px,#9fa8ff 20.5px,#7db2ff 31.5px,#55c8ff 36.5px,#25eefd 40.5px,#4ff0e0 42.5px,#6ef0cc 43.5px,#caf8e1 44.5px,#ffffff 45.5px,#ffffff 73.5px,#dafae9 74.5px,#7df1cb 75.5px,#3af0ee 77.5px,#27f0fb 78.5px,#2be8ff 79.5px,#66bdff 84.5px,#88adff 90.5px,#aba8ff 105.5px,#b5aaff 119.5px)"></div><div style="height:1px;background:linear-gradient(90deg,#b5aaff 0.5px,#9fa8ff 20.5px,#7ab3ff 31.5px,#4ecdff 36.5px,#27ebff 39.5px,#2ff0f5 40.5px,#4bf0e3 41.5px,#7af2d6 42.5px,#e6fcf4 43.5px,#ffffff 44.5px,#ffffff 74.5px,#f7fefb 75.5px,#88f3d6 76.5px,#52f0df 77.5px,#25eefe 79.5px,#60c0ff 84.5px,#87aeff 90.5px,#a9a8ff 104.5px,#b5aaff 119.5px)"></div><div style="height:1px;background:linear-gradient(90deg,#b5aaff 0.5px,#9ea8ff 20.5px,#7db1ff 30.5px,#5ec2ff 34.5px,#2ce7ff 38.5px,#27effb 39.5px,#3ff0eb 40.5px,#7af3e0 41.5px,#f6fefc 42.5px,#ffffff 44.5px,#ffffff 76.5px,#9df6e4 77.5px,#48f0e5 78.5px,#2df0f7 79.5px,#28eaff 80.5px,#66bdff 85.5px,#8bacff 91.5px,#aea8ff 108.5px,#b5aaff 119.5px)"></div><div style="height:1px;background:linear-gradient(90deg,#b5aaff 0.5px,#9ea8ff 20.5px,#7cb2ff 30.5px,#4eceff 35.5px,#26edfe 38.5px,#34f0f2 39.5px,#6ff3e7 40.5px,#f5fefd 41.5px,#ffffff 42.5px,#ffffff 77.5px,#94f6ea 78.5px,#3cf0ed 79.5px,#26effc 80.5px,#61c0ff 85.5px,#85aeff 90.5px,#aaa8ff 105.5px,#b5aaff 119.5px)"></div><div style="height:1px;background:linear-gradient(90deg,#b5aaff 0.5px,#9ea8ff 20.5px,#79b3ff 30.5px,#54c9ff 34.5px,#2ae8ff 37.5px,#29f0f9 38.5px,#64f3ee 39.5px,#f4fefd 40.5px,#ffffff 41.5px,#ffffff 78.5px,#8bf6f0 79.5px,#30f0f5 80.5px,#28eaff 81.5px,#69bcff 86.5px,#8dacff 92.5px,#ada8ff 108.5px,#b5aaff 119.5px)"></div><div style="height:1px;background:linear-gradient(90deg,#b4a9ff 0.5px,#9da8ff 20.5px,#79b3ff 30.5px,#51cbff 34.5px,#27ebff 37.5px,#3ff1f4 38.5px,#f3fefe 39.5px,#ffffff 40.5px,#ffffff 79.5px,#5cf3f3 80.5px,#25eefd 81.5px,#67bdff 86.5px,#8bacff 92.5px,#aba8ff 106.5px,#b5aaff 119.5px)"></div><div style="height:1px;background:linear-gradient(90deg,#b4a9ff 0.5px,#a0a8ff 19.5px,#7db1ff 29.5px,#5ac4ff 33.5px,#26effc 37.5px,#d8fcfd 38.5px,#ffffff 39.5px,#ffffff 79.5px,#f2fefe 80.5px,#35f1fa 81.5px,#2ce7ff 82.5px,#63beff 86.5px,#83afff 90.5px,#a6a8ff 103.5px,#b5aaff 119.5px)"></div><div style="height:1px;background:linear-gradient(90deg,#b5aaff 0.5px,#9fa8ff 19.5px,#7db1ff 29.5px,#59c5ff 33.5px,#2ce7ff 36.5px,#ffffff 38.5px,#ffffff 80.5px,#bbfafe 81.5px,#29eaff 82.5px,#6eb9ff 87.5px,#92aaff 94.5px,#b0a8ff 111.5px,#b5aaff 119.5px)"></div><div style="height:1px;background:linear-gradient(90deg,#b5aaff 0.5px,#9fa8ff 19.5px,#7db1ff 29.5px,#56c7ff 33.5px,#3addff 35.5px,#45ebff 36.5px,#ffffff 37.5px,#ffffff 81.5px,#6bf1ff 82.5px,#35e0ff 83.5px,#62bfff 86.5px,#8bacff 92.5px,#ada8ff 108.5px,#b5aaff 119.5px)"></div><div style="height:1px;background:linear-gradient(90deg,#b5aaff 0.5px,#9da8ff 20.5px,#7cb2ff 29.5px,#56c8ff 33.5px,#37dfff 35.5px,#cbf9ff 36.5px,#ffffff 37.5px,#ffffff 81.5px,#e4fcff 82.5px,#35e0ff 83.5px,#69bcff 87.5px,#87aeff 91.5px,#aaa8ff 105.5px,#b5aaff 119.5px)"></div><div style="height:1px;background:linear-gradient(90deg,#b5aaff 0.5px,#9fa8ff 19.5px,#7db2ff 29.5px,#56c8ff 33.5px,#46d3ff 34.5px,#6ae6ff 35.5px,#ffffff 36.5px,#ffffff 82.5px,#9befff 83.5px,#42d7ff 84.5px,#6bbaff 87.5px,#8eabff 93.5px,#aea8ff 108.5px,#b5aaff 119.5px)"></div><div style="height:1px;background:linear-gradient(90deg,#b5aaff 0.5px,#a0a8ff 19.5px,#7db2ff 29.5px,#56c8ff 33.5px,#46d3ff 34.5px,#cef6ff 35.5px,#ffffff 36.5px,#ffffff 82.5px,#e6fbff 83.5px,#44d5ff 84.5px,#6abbff 87.5px,#8bacff 92.5px,#ada8ff 107.5px,#b5aaff 119.5px)"></div><div style="height:1px;background:linear-gradient(90deg,#b5aaff 0.5px,#9ea8ff 20.5px,#7eb1ff 29.5px,#58c6ff 33.5px,#61d6ff 34.5px,#ffffff 35.5px,#ffffff 83.5px,#8ce3ff 84.5px,#54c9ff 85.5px,#83afff 90.5px,#a9a8ff 104.5px,#b5aaff 119.5px)"></div><div style="height:1px;background:linear-gradient(90deg,#b5aaff 0.5px,#a1a8ff 19.5px,#7eb1ff 29.5px,#5ac5ff 33.5px,#b2e9ff 34.5px,#ffffff 35.5px,#ffffff 83.5px,#c8f0ff 84.5px,#57c7ff 85.5px,#7eb1ff 89.5px,#a4a8ff 101.5px,#b5aaff 119.5px)"></div><div style="height:1px;background:linear-gradient(90deg,#b5aaff 0.5px,#9fa8ff 20.5px,#81b0ff 29.5px,#5dc2ff 33.5px,#eaf8ff 34.5px,#ffffff 35.5px,#ffffff 84.5px,#65c8ff 85.5px,#70b8ff 87.5px,#91aaff 93.5px,#afa8ff 109.5px,#b5aaff 119.5px)"></div><div style="height:1px;background:linear-gradient(90deg,#b5aaff 0.5px,#a2a8ff 19.5px,#7db2ff 30.5px,#6cbaff 32.5px,#76c7ff 33.5px,#ffffff 34.5px,#ffffff 84.5px,#93d3ff 85.5px,#6abbff 86.5px,#8bacff 91.5px,#aba8ff 105.5px,#b5aaff 119.5px)"></div><div style="height:1px;background:linear-gradient(90deg,#b5aaff 0.5px,#a1a8ff 20.5px,#7fb1ff 30.5px,#6fb8ff 32.5px,#a1d5ff 33.5px,#ffffff 34.5px,#ffffff 84.5px,#bce2ff 85.5px,#6eb9ff 86.5px,#90abff 92.5px,#b0a8ff 109.5px,#b5aaff 119.5px)"></div><div style="height:1px;background:linear-gradient(90deg,#b5aaff 0.5px,#a0a8ff 21.5px,#7cb2ff 31.5px,#75b6ff 32.5px,#c0e0ff 33.5px,#ffffff 34.5px,#ffffff 84.5px,#dbeeff 85.5px,#73b7ff 86.5px,#8dacff 91.5px,#aca8ff 105.5px,#b5aaff 119.5px)"></div><div style="height:1px;background:linear-gradient(90deg,#b5aaff 0.5px,#9fa8ff 21.5px,#80b0ff 31.5px,#79b3ff 32.5px,#dcedff 33.5px,#ffffff 34.5px,#ffffff 85.5px,#77b4ff 86.5px,#99a8ff 94.5px,#b3a9ff 113.5px,#b5aaff 119.5px)"></div><div style="height:1px;background:linear-gradient(90deg,#b5aaff 0.5px,#a0a8ff 21.5px,#7eb1ff 32.5px,#f7faff 33.5px,#ffffff 35.5px,#ffffff 85.5px,#86b6ff 86.5px,#91aaff 91.5px,#b0a8ff 109.5px,#b5aaff 119.5px)"></div><div style="height:1px;background:linear-gradient(90deg,#b5aaff 0.5px,#9fa8ff 22.5px,#83afff 32.5px,#ffffff 33.5px,#ffffff 85.5px,#a2c3ff 86.5px,#86aeff 87.5px,#aca8ff 104.5px,#b6aaff 119.5px)"></div><div style="height:1px;background:linear-gradient(90deg,#b6aaff 0.5px,#a1a8ff 22.5px,#87aeff 32.5px,#ffffff 33.5px,#ffffff 85.5px,#a5c2ff 86.5px,#8aadff 87.5px,#aea8ff 105.5px,#b6aaff 119.5px)"></div><div style="height:1px;background:linear-gradient(90deg,#b6aaff 0.5px,#a1a8ff 23.5px,#8bacff 32.5px,#ffffff 33.5px,#ffffff 85.5px,#a8c1ff 86.5px,#8dacff 87.5px,#afa8ff 105.5px,#b6aaff 119.5px)"></div><div style="height:1px;background:linear-gradient(90deg,#b6aaff 0.5px,#a1a8ff 23.5px,#8bacff 32.5px,#ffffff 33.5px,#ffffff 85.5px,#a8c1ff 86.5px,#8eabff 87.5px,#b0a8ff 106.5px,#b6aaff 119.5px)"></div><div style="height:1px;background:linear-gradient(90deg,#b6aaff 0.5px,#a1a8ff 23.5px,#8bacff 32.5px,#ffffff 33.5px,#ffffff 85.5px,#a8c1ff 86.5px,#8eabff 87.5px,#b0a8ff 106.5px,#b6aaff 119.5px)"></div><div style="height:1px;background:linear-gradient(90deg,#b6aaff 0.5px,#a1a8ff 23.5px,#8bacff 32.5px,#f0f5ff 33.5px,#ffffff 34.5px,#ffffff 85.5px,#8bacff 86.5px,#afa8ff 105.5px,#b6aaff 119.5px)"></div><div style="height:1px;background:linear-gradient(90deg,#b6aaff 0.5px,#a1a8ff 23.5px,#8cacff 32.5px,#e2eaff 33.5px,#ffffff 34.5px,#ffffff 84.5px,#f8faff 85.5px,#8bacff 86.5px,#afa8ff 105.5px,#b6aaff 119.5px)"></div><div style="height:1px;background:linear-gradient(90deg,#b6aaff 0.5px,#a2a8ff 23.5px,#8cacff 32.5px,#ccdbff 33.5px,#ffffff 34.5px,#ffffff 84.5px,#e2eaff 85.5px,#8cacff 86.5px,#afa8ff 105.5px,#b6aaff 119.5px)"></div><div style="height:1px;background:linear-gradient(90deg,#b6aaff 0.5px,#a2a8ff 23.5px,#8dacff 32.5px,#afc6ff 33.5px,#ffffff 34.5px,#ffffff 84.5px,#ccdbff 85.5px,#8cacff 86.5px,#afa8ff 105.5px,#b6aaff 119.5px)"></div><div style="height:1px;background:linear-gradient(90deg,#b6aaff 0.5px,#a0a8ff 24.5px,#8eabff 32.5px,#92b1ff 33.5px,#ffffff 34.5px,#ffffff 84.5px,#afc6ff 85.5px,#8dacff 86.5px,#afa8ff 105.5px,#b6aaff 119.5px)"></div><div style="height:1px;background:linear-gradient(90deg,#b6aaff 0.5px,#a1a8ff 24.5px,#8cacff 33.5px,#e9f0ff 34.5px,#ffffff 35.5px,#ffffff 83.5px,#f8faff 84.5px,#8bacff 85.5px,#aea8ff 104.5px,#b6aaff 119.5px)"></div><div style="height:1px;background:linear-gradient(90deg,#b6aaff 0.5px,#a1a8ff 24.5px,#8dacff 33.5px,#bdd1ff 34.5px,#ffffff 35.5px,#ffffff 83.5px,#d3e0ff 84.5px,#8cacff 85.5px,#afa8ff 105.5px,#b6aaff 119.5px)"></div><div style="height:1px;background:linear-gradient(90deg,#b6aaff 0.5px,#a2a8ff 24.5px,#8eabff 33.5px,#92b1ff 34.5px,#ffffff 35.5px,#ffffff 83.5px,#a8c1ff 84.5px,#8dacff 85.5px,#b0a8ff 105.5px,#b6aaff 119.5px)"></div><div style="height:1px;background:linear-gradient(90deg,#b6aaff 0.5px,#a2a8ff 24.5px,#8cacff 34.5px,#d3e0ff 35.5px,#ffffff 36.5px,#ffffff 82.5px,#f0f5ff 83.5px,#8bacff 84.5px,#afa8ff 104.5px,#b6aaff 119.5px)"></div><div style="height:1px;background:linear-gradient(90deg,#b6aaff 0.5px,#a1a8ff 25.5px,#8dacff 34.5px,#99b7ff 35.5px,#ffffff 36.5px,#ffffff 82.5px,#b6cbff 83.5px,#8dacff 84.5px,#afa8ff 104.5px,#b6aaff 119.5px)"></div><div style="height:1px;background:linear-gradient(90deg,#b6aaff 0.5px,#a2a8ff 25.5px,#8cacff 35.5px,#d3e0ff 36.5px,#ffffff 37.5px,#ffffff 81.5px,#e9f0ff 82.5px,#8bacff 83.5px,#afa8ff 104.5px,#b6aaff 119.5px)"></div><div style="height:1px;background:linear-gradient(90deg,#b6aaff 0.5px,#a2a8ff 25.5px,#8dacff 35.5px,#92b2ff 36.5px,#f8faff 37.5px,#ffffff 40.5px,#ffffff 81.5px,#a8c1ff 82.5px,#8dacff 83.5px,#b0a8ff 104.5px,#b7aaff 119.5px)"></div><div style="height:1px;background:linear-gradient(90deg,#b6aaff 0.5px,#a2a8ff 26.5px,#8dacff 36.5px,#afc6ff 37.5px,#ffffff 38.5px,#ffffff 80.5px,#ccdbff 81.5px,#8cacff 82.5px,#b0a8ff 104.5px,#b7aaff 119.5px)"></div></div>
<svg width="685" height="609" viewBox="0 0 685 609">
<rect x="1" y="1" width="682" height="84.5" fill="#f6fafd"/>
<text x="-0.32" y="13.60" font-size="17.96" fill="#000" font-weight="bold" textLength="9.56" lengthAdjust="spacingAndGlyphs" >a</text>
<text x="411.00" y="13.60" font-size="18.14" fill="#000" font-weight="bold" textLength="11.25" lengthAdjust="spacingAndGlyphs" >b</text>
<circle cx="42.5" cy="30.2" r="24.5" fill="#eeeef9" stroke="#111" stroke-width="1.45"/>
<g fill="#5a1a8a"><rect x="36.6" y="27.4" width="12.1" height="2.2"/><rect x="41.55" y="22.2" width="2.2" height="11"/><rect x="36.6" y="34.8" width="12.1" height="2.2"/></g>
<defs><linearGradient id="ga" x1="0" x2="1" y1="0" y2="0"><stop offset="0" stop-color="#efefef"/><stop offset="1" stop-color="#8e8e8e"/></linearGradient></defs>
<path d="M75.8,30.1 L92.8,30.1 L92.8,28 L106,32.2 L92.8,36.5 L92.8,34.3 L75.8,34.3 Z" fill="url(#ga)"/>
<path d="M251,30.1 L267.0,30.1 L267.0,28 L280.2,32.2 L267.0,36.5 L267.0,34.3 L251,34.3 Z" fill="url(#ga)"/>
<defs><linearGradient id="ge" x1="0" x2="1" y1="0" y2="0"><stop offset="0" stop-color="#cfe0f1"/><stop offset="0.45" stop-color="#f7f9fb"/><stop offset="0.55" stop-color="#faf0f1"/><stop offset="1" stop-color="#eec3c8"/></linearGradient></defs>
<ellipse cx="176.8" cy="30.2" rx="65.8" ry="28.2" fill="url(#ge)" stroke="#1c2e66" stroke-width="1.3"/>
<rect x="114.8" y="26.6" width="9.2" height="1.1" fill="#5a88bd"/>
<text x="123.7" y="34.2" style="font-family:Liberation Serif;font-style:italic" font-size="20.5" fill="#5a88bd" stroke="#5a88bd" stroke-width="0.2">q</text>
<circle cx="139.9" cy="27.9" r="4" fill="#7aa8d6"/>
<defs><linearGradient id="gm" x1="147" x2="206" y1="0" y2="0" gradientUnits="userSpaceOnUse"><stop offset="0" stop-color="#6a84bc"/><stop offset="0.3" stop-color="#7c6aa2"/><stop offset="1" stop-color="#b02a50"/></linearGradient></defs>
<path d="M147.7,28.3 L162,24.5 L160,26.8 L205,26.8 A1.5,1.5 0 0 1 205,29.8 L160,29.8 L162,32.1 Z" fill="url(#gm)"/>
<text x="170.5" y="21.5" style="font-family:Liberation Serif;font-style:italic" font-size="19" stroke="#000" stroke-width="0.2">&#956;</text>
<circle cx="214" cy="27.8" r="3.9" fill="#d86a70"/>
<rect x="218.6" y="27.3" width="9" height="1.7" fill="#c4101c"/><rect x="222.25" y="23.6" width="1.7" height="9.1" fill="#c4101c"/>
<text x="228.3" y="34.2" style="font-family:Liberation Serif;font-style:italic" font-size="20.5" fill="#c4101c" stroke="#c4101c" stroke-width="0.2">q</text>
<rect x="138.4" y="33.6" width="1.6" height="16.6" fill="#000"/>
<rect x="213.7" y="33.6" width="1.6" height="16.6" fill="#000"/>
<rect x="145" y="46.8" width="62" height="1.9" fill="#000"/>
<path d="M140,47.7 L153,41.4 L149.5,47.7 L153,54 Z" fill="#000"/>
<path d="M213.5,47.7 L200.5,41.4 L204,47.7 L200.5,54 Z" fill="#000"/>
<text x="172" y="46" style="font-family:Liberation Serif;font-style:italic" font-size="20" stroke="#000" stroke-width="0.2">d</text>
<defs><linearGradient id="gl" x1="287" x2="343" y1="0" y2="0" gradientUnits="userSpaceOnUse"><stop offset="0" stop-color="#a5c6e6"/><stop offset="0.5" stop-color="#bcd6ee"/><stop offset="1" stop-color="#f4f7fb"/></linearGradient><linearGradient id="gr" x1="343" x2="400" y1="0" y2="0" gradientUnits="userSpaceOnUse"><stop offset="0" stop-color="#fbf3f4"/><stop offset="0.5" stop-color="#efc2c7"/><stop offset="1" stop-color="#e3959c"/></linearGradient></defs>
<path d="M343,32.1 L329.17,16.38 A23.8,23.8 0 1 0 329.17,47.82 Z" fill="url(#gl)" stroke="#111" stroke-width="1.3" stroke-linejoin="round"/>
<path d="M343,32.1 L358.38,15.78 A23.8,23.8 0 1 1 358.38,48.42 Z" fill="url(#gr)" stroke="#111" stroke-width="1.3" stroke-linejoin="round"/>
<rect x="302" y="30.2" width="13" height="2.6" fill="#3d6a9a"/>
<rect x="373.1" y="30.2" width="13" height="2.6" fill="#c8101e"/><rect x="378.3" y="25" width="2.6" height="13" fill="#c8101e"/>
<text x="2.65" y="79.70" font-size="16.00" fill="#000" textLength="79.31" lengthAdjust="spacingAndGlyphs"  stroke="#000" stroke-width="0.2">Nonpolarity</text>
<text x="94.08" y="79.70" font-size="16.00" fill="#000" textLength="168.64" lengthAdjust="spacingAndGlyphs"  stroke="#000" stroke-width="0.2">Increase dipole moment</text>
<text x="278.82" y="79.70" font-size="16.00" fill="#000"  stroke="#000" stroke-width="0.2">EF-induced dipole</text>
<rect x="433.30" y="3.3" width="26.97" height="28" fill="#ffffff"/>
<rect x="460.27" y="3.3" width="26.97" height="28" fill="#deeef8"/>
<rect x="487.23" y="3.3" width="26.97" height="28" fill="#a9cde6"/>
<rect x="514.20" y="3.3" width="26.97" height="28" fill="#88b4db"/>
<rect x="541.17" y="3.3" width="26.97" height="28" fill="#76a6d3"/>
<rect x="568.13" y="3.3" width="26.97" height="28" fill="#6497cb"/>
<rect x="595.10" y="3.3" width="26.97" height="28" fill="#4e7fbd"/>
<rect x="622.07" y="3.3" width="26.97" height="28" fill="#2f5f9f"/>
<rect x="649.03" y="3.3" width="26.97" height="28" fill="#1c4a8a"/>
<line x1="460.27" y1="3.3" x2="460.27" y2="31.3" stroke="#3f5680" stroke-width="1"/>
<line x1="487.23" y1="3.3" x2="487.23" y2="31.3" stroke="#3f5680" stroke-width="1"/>
<line x1="514.20" y1="3.3" x2="514.20" y2="31.3" stroke="#3f5680" stroke-width="1"/>
<line x1="541.17" y1="3.3" x2="541.17" y2="31.3" stroke="#3f5680" stroke-width="1"/>
<line x1="568.13" y1="3.3" x2="568.13" y2="31.3" stroke="#3f5680" stroke-width="1"/>
<line x1="595.10" y1="3.3" x2="595.10" y2="31.3" stroke="#3f5680" stroke-width="1"/>
<line x1="622.07" y1="3.3" x2="622.07" y2="31.3" stroke="#3f5680" stroke-width="1"/>
<line x1="649.03" y1="3.3" x2="649.03" y2="31.3" stroke="#3f5680" stroke-width="1"/>
<rect x="433.3" y="3.3" width="242.70" height="28" fill="none" stroke="#3f5680" stroke-width="1"/>
<circle cx="446.78" cy="18.3" r="7.4" fill="none" stroke="#8fbfe2" stroke-width="0.8"/>
<text x="446.78" y="23.2" font-size="14.2" text-anchor="middle" fill="#8fbfe2" stroke="none" style="font-family:Liberation Serif">1</text>
<circle cx="473.75" cy="18.3" r="7.4" fill="none" stroke="#8fbfe2" stroke-width="0.8"/>
<text x="473.75" y="23.2" font-size="14.2" text-anchor="middle" fill="#8fbfe2" stroke="none" style="font-family:Liberation Serif">2</text>
<circle cx="500.72" cy="18.3" r="7.4" fill="none" stroke="#ffffff" stroke-width="0.8"/>
<text x="500.72" y="23.2" font-size="14.2" text-anchor="middle" fill="#ffffff" stroke="none" style="font-family:Liberation Serif">3</text>
<circle cx="527.68" cy="18.3" r="7.4" fill="none" stroke="#ffffff" stroke-width="0.8"/>
<text x="527.68" y="23.2" font-size="14.2" text-anchor="middle" fill="#ffffff" stroke="none" style="font-family:Liberation Serif">4</text>
<circle cx="554.65" cy="18.3" r="7.4" fill="none" stroke="#ffffff" stroke-width="0.8"/>
<text x="554.65" y="23.2" font-size="14.2" text-anchor="middle" fill="#ffffff" stroke="none" style="font-family:Liberation Serif">5</text>
<circle cx="581.62" cy="18.3" r="7.4" fill="none" stroke="#ffffff" stroke-width="0.8"/>
<text x="581.62" y="23.2" font-size="14.2" text-anchor="middle" fill="#ffffff" stroke="none" style="font-family:Liberation Serif">6</text>
<circle cx="608.58" cy="18.3" r="7.4" fill="none" stroke="#ffffff" stroke-width="0.8"/>
<text x="608.58" y="23.2" font-size="14.2" text-anchor="middle" fill="#ffffff" stroke="none" style="font-family:Liberation Serif">7</text>
<circle cx="635.55" cy="18.3" r="7.4" fill="none" stroke="#ffffff" stroke-width="0.8"/>
<text x="635.55" y="23.2" font-size="14.2" text-anchor="middle" fill="#ffffff" stroke="none" style="font-family:Liberation Serif">8</text>
<circle cx="662.52" cy="18.3" r="7.4" fill="none" stroke="#ffffff" stroke-width="0.8"/>
<text x="662.52" y="23.2" font-size="14.2" text-anchor="middle" fill="#ffffff" stroke="none" style="font-family:Liberation Serif">9</text>
<defs><linearGradient id="gb" x1="0" x2="1" y1="0" y2="0"><stop offset="0" stop-color="#f7fbff"/><stop offset="0.17" stop-color="#deebf7"/><stop offset="0.33" stop-color="#b2d2ea"/><stop offset="0.5" stop-color="#80afd9"/><stop offset="0.67" stop-color="#6695cb"/><stop offset="0.83" stop-color="#3d6eb0"/><stop offset="1" stop-color="#1b4686"/></linearGradient></defs>
<rect x="433.3" y="35.2" width="242.70" height="8.3" fill="url(#gb)" stroke="#3f5680" stroke-width="0.8"/>
<text x="433.3" y="60.3" font-size="15.6" text-anchor="middle" fill="#000"  stroke="#000" stroke-width="0.2">0</text>
<line x1="473.75" y1="35.2" x2="473.75" y2="37" stroke="#333" stroke-width="0.9"/><line x1="473.75" y1="41.7" x2="473.75" y2="43.5" stroke="#333" stroke-width="0.9"/>
<text x="473.75" y="60.3" font-size="15.6" text-anchor="middle" fill="#000"  stroke="#000" stroke-width="0.2">0.2</text>
<line x1="514.20" y1="35.2" x2="514.20" y2="37" stroke="#333" stroke-width="0.9"/><line x1="514.20" y1="41.7" x2="514.20" y2="43.5" stroke="#333" stroke-width="0.9"/>
<text x="514.2" y="60.3" font-size="15.6" text-anchor="middle" fill="#000"  stroke="#000" stroke-width="0.2">0.4</text>
<line x1="554.65" y1="35.2" x2="554.65" y2="37" stroke="#333" stroke-width="0.9"/><line x1="554.65" y1="41.7" x2="554.65" y2="43.5" stroke="#333" stroke-width="0.9"/>
<text x="554.65" y="60.3" font-size="15.6" text-anchor="middle" fill="#000"  stroke="#000" stroke-width="0.2">0.6</text>
<line x1="595.10" y1="35.2" x2="595.10" y2="37" stroke="#333" stroke-width="0.9"/><line x1="595.10" y1="41.7" x2="595.10" y2="43.5" stroke="#333" stroke-width="0.9"/>
<text x="595.1" y="60.3" font-size="15.6" text-anchor="middle" fill="#000"  stroke="#000" stroke-width="0.2">0.8</text>
<line x1="635.55" y1="35.2" x2="635.55" y2="37" stroke="#333" stroke-width="0.9"/><line x1="635.55" y1="41.7" x2="635.55" y2="43.5" stroke="#333" stroke-width="0.9"/>
<text x="635.55" y="60.3" font-size="15.6" text-anchor="middle" fill="#000"  stroke="#000" stroke-width="0.2">1.0</text>
<text x="672.4" y="60.3" font-size="15.6" text-anchor="middle" fill="#000"  stroke="#000" stroke-width="0.2">1.2</text>
<text x="500.12" y="79.80" font-size="16.00" fill="#000"  stroke="#000" stroke-width="0.2">Dipole moment (D)</text>
<text x="0.45" y="102.90" font-size="17.59" fill="#000" font-weight="bold" textLength="9.06" lengthAdjust="spacingAndGlyphs" >c</text>
<defs><linearGradient id="m0" x1="0" x2="1" y1="0" y2="0"><stop offset="0" stop-color="#6060bc"/><stop offset="0.090" stop-color="#6060bc"/><stop offset="0.170" stop-color="#a6a6d8"/><stop offset="0.225" stop-color="#e8e8ee"/><stop offset="0.270" stop-color="#efeded"/><stop offset="0.315" stop-color="#f6a8a8"/><stop offset="0.355" stop-color="#f42a2a"/><stop offset="0.5" stop-color="#ee1e1e"/><stop offset="0.625" stop-color="#f42a2a"/><stop offset="0.665" stop-color="#f6a8a8"/><stop offset="0.710" stop-color="#efeded"/><stop offset="0.755" stop-color="#e8e8ee"/><stop offset="0.820" stop-color="#9d9dd4"/><stop offset="0.900" stop-color="#5c5cba"/><stop offset="1" stop-color="#5c5cba"/></linearGradient><linearGradient id="m1" x1="0" x2="1" y1="0" y2="0"><stop offset="0" stop-color="#6c6cbe"/><stop offset="0.094" stop-color="#6c6cbe"/><stop offset="0.172" stop-color="#acacd9"/><stop offset="0.223" stop-color="#e8e8ee"/><stop offset="0.267" stop-color="#efeded"/><stop offset="0.311" stop-color="#f6a8a8"/><stop offset="0.351" stop-color="#f42a2a"/><stop offset="0.5" stop-color="#ee1e1e"/><stop offset="0.628" stop-color="#f42a2a"/><stop offset="0.668" stop-color="#f6a8a8"/><stop offset="0.712" stop-color="#efeded"/><stop offset="0.753" stop-color="#e8e8ee"/><stop offset="0.814" stop-color="#9898d6"/><stop offset="0.892" stop-color="#5353be"/><stop offset="1" stop-color="#5353be"/></linearGradient><linearGradient id="m2" x1="0" x2="1" y1="0" y2="0"><stop offset="0" stop-color="#7979bf"/><stop offset="0.099" stop-color="#7979bf"/><stop offset="0.174" stop-color="#b2b2da"/><stop offset="0.222" stop-color="#e8e8ee"/><stop offset="0.263" stop-color="#efeded"/><stop offset="0.308" stop-color="#f6a8a8"/><stop offset="0.348" stop-color="#f42a2a"/><stop offset="0.5" stop-color="#ee1e1e"/><stop offset="0.632" stop-color="#f42a2a"/><stop offset="0.672" stop-color="#f6a8a8"/><stop offset="0.713" stop-color="#efeded"/><stop offset="0.751" stop-color="#e8e8ee"/><stop offset="0.809" stop-color="#9393d8"/><stop offset="0.884" stop-color="#4a4ac1"/><stop offset="1" stop-color="#4a4ac1"/></linearGradient><linearGradient id="m3" x1="0" x2="1" y1="0" y2="0"><stop offset="0" stop-color="#8686c0"/><stop offset="0.103" stop-color="#8686c0"/><stop offset="0.177" stop-color="#b9b9da"/><stop offset="0.220" stop-color="#e8e8ee"/><stop offset="0.260" stop-color="#efeded"/><stop offset="0.304" stop-color="#f6a8a8"/><stop offset="0.344" stop-color="#f42a2a"/><stop offset="0.5" stop-color="#ee1e1e"/><stop offset="0.635" stop-color="#f42a2a"/><stop offset="0.675" stop-color="#f6a8a8"/><stop offset="0.715" stop-color="#efeded"/><stop offset="0.748" stop-color="#e8e8ee"/><stop offset="0.803" stop-color="#8e8eda"/><stop offset="0.876" stop-color="#4242c4"/><stop offset="1" stop-color="#4242c4"/></linearGradient><linearGradient id="m4" x1="0" x2="1" y1="0" y2="0"><stop offset="0" stop-color="#9292c2"/><stop offset="0.107" stop-color="#9292c2"/><stop offset="0.179" stop-color="#bfbfdb"/><stop offset="0.218" stop-color="#e8e8ee"/><stop offset="0.256" stop-color="#efeded"/><stop offset="0.301" stop-color="#f6a8a8"/><stop offset="0.341" stop-color="#f42a2a"/><stop offset="0.5" stop-color="#ee1e1e"/><stop offset="0.639" stop-color="#f42a2a"/><stop offset="0.679" stop-color="#f6a8a8"/><stop offset="0.717" stop-color="#efeded"/><stop offset="0.746" stop-color="#e8e8ee"/><stop offset="0.797" stop-color="#8a8adc"/><stop offset="0.869" stop-color="#3939c8"/><stop offset="1" stop-color="#3939c8"/></linearGradient><linearGradient id="m5" x1="0" x2="1" y1="0" y2="0"><stop offset="0" stop-color="#9e9ec4"/><stop offset="0.112" stop-color="#9e9ec4"/><stop offset="0.181" stop-color="#c5c5dc"/><stop offset="0.216" stop-color="#e8e8ee"/><stop offset="0.253" stop-color="#efeded"/><stop offset="0.297" stop-color="#f6a8a8"/><stop offset="0.337" stop-color="#f42a2a"/><stop offset="0.5" stop-color="#ee1e1e"/><stop offset="0.642" stop-color="#f42a2a"/><stop offset="0.682" stop-color="#f6a8a8"/><stop offset="0.719" stop-color="#efeded"/><stop offset="0.744" stop-color="#e8e8ee"/><stop offset="0.792" stop-color="#8585de"/><stop offset="0.861" stop-color="#3030cc"/><stop offset="1" stop-color="#3030cc"/></linearGradient><linearGradient id="m6" x1="0" x2="1" y1="0" y2="0"><stop offset="0" stop-color="#ababc5"/><stop offset="0.116" stop-color="#ababc5"/><stop offset="0.183" stop-color="#ccccdc"/><stop offset="0.214" stop-color="#e8e8ee"/><stop offset="0.249" stop-color="#efeded"/><stop offset="0.294" stop-color="#f6a8a8"/><stop offset="0.334" stop-color="#f42a2a"/><stop offset="0.5" stop-color="#ee1e1e"/><stop offset="0.646" stop-color="#f42a2a"/><stop offset="0.686" stop-color="#f6a8a8"/><stop offset="0.720" stop-color="#efeded"/><stop offset="0.742" stop-color="#e8e8ee"/><stop offset="0.786" stop-color="#8080e0"/><stop offset="0.853" stop-color="#2828cf"/><stop offset="1" stop-color="#2828cf"/></linearGradient><linearGradient id="m7" x1="0" x2="1" y1="0" y2="0"><stop offset="0" stop-color="#b8b8c6"/><stop offset="0.121" stop-color="#b8b8c6"/><stop offset="0.185" stop-color="#d2d2dd"/><stop offset="0.213" stop-color="#e8e8ee"/><stop offset="0.246" stop-color="#efeded"/><stop offset="0.290" stop-color="#f6a8a8"/><stop offset="0.330" stop-color="#f42a2a"/><stop offset="0.5" stop-color="#ee1e1e"/><stop offset="0.649" stop-color="#f42a2a"/><stop offset="0.690" stop-color="#f6a8a8"/><stop offset="0.722" stop-color="#efeded"/><stop offset="0.740" stop-color="#e8e8ee"/><stop offset="0.780" stop-color="#7b7be1"/><stop offset="0.845" stop-color="#1f1fd2"/><stop offset="1" stop-color="#1f1fd2"/></linearGradient><linearGradient id="m8" x1="0" x2="1" y1="0" y2="0"><stop offset="0" stop-color="#c4c4c8"/><stop offset="0.125" stop-color="#c4c4c8"/><stop offset="0.188" stop-color="#d8d8de"/><stop offset="0.211" stop-color="#e8e8ee"/><stop offset="0.242" stop-color="#efeded"/><stop offset="0.287" stop-color="#f6a8a8"/><stop offset="0.327" stop-color="#f42a2a"/><stop offset="0.5" stop-color="#ee1e1e"/><stop offset="0.653" stop-color="#f42a2a"/><stop offset="0.693" stop-color="#f6a8a8"/><stop offset="0.724" stop-color="#efeded"/><stop offset="0.738" stop-color="#e8e8ee"/><stop offset="0.774" stop-color="#7676e4"/><stop offset="0.837" stop-color="#1616d6"/><stop offset="1" stop-color="#1616d6"/></linearGradient><radialGradient id="msh" cx="0.5" cy="0.42" r="0.56"><stop offset="0" stop-color="#101030" stop-opacity="0"/><stop offset="0.78" stop-color="#101030" stop-opacity="0"/><stop offset="0.88" stop-color="#101030" stop-opacity="0.16"/><stop offset="0.95" stop-color="#101030" stop-opacity="0.38"/></radialGradient><linearGradient id="mvs" x1="0" x2="0" y1="0" y2="1"><stop offset="0" stop-color="#200000" stop-opacity="0.35"/><stop offset="0.14" stop-color="#200000" stop-opacity="0"/><stop offset="0.84" stop-color="#200000" stop-opacity="0"/><stop offset="1" stop-color="#200000" stop-opacity="0.4"/></linearGradient><radialGradient id="mhl" cx="0.3" cy="0.25" r="0.6"><stop offset="0" stop-color="#fff" stop-opacity="0.25"/><stop offset="1" stop-color="#fff" stop-opacity="0"/></radialGradient><radialGradient id="bO" cx="0.4" cy="0.35" r="0.65"><stop offset="0" stop-color="#dc5462"/><stop offset="1" stop-color="#a81c2c"/></radialGradient><radialGradient id="bC" cx="0.4" cy="0.35" r="0.65"><stop offset="0" stop-color="#94686f"/><stop offset="1" stop-color="#5e3440"/></radialGradient></defs>
<g transform="translate(37.70,128)"><path d="M-13.8,-21.9 C-5,-21.3 5,-21.3 13.8,-21.9 A21.9,21.9 0 0 1 13.8,21.9 C5,21.3 -5,21.3 -13.8,21.9 A21.9,21.9 0 0 1 -13.8,-21.9 Z" fill="url(#m0)"/><path d="M-13.8,-21.9 C-5,-21.3 5,-21.3 13.8,-21.9 A21.9,21.9 0 0 1 13.8,21.9 C5,21.3 -5,21.3 -13.8,21.9 A21.9,21.9 0 0 1 -13.8,-21.9 Z" fill="url(#msh)"/><path d="M-13.8,-21.9 C-5,-21.3 5,-21.3 13.8,-21.9 A21.9,21.9 0 0 1 13.8,21.9 C5,21.3 -5,21.3 -13.8,21.9 A21.9,21.9 0 0 1 -13.8,-21.9 Z" fill="url(#mvs)"/><path d="M-13.8,-21.9 C-5,-21.3 5,-21.3 13.8,-21.9 A21.9,21.9 0 0 1 13.8,21.9 C5,21.3 -5,21.3 -13.8,21.9 A21.9,21.9 0 0 1 -13.8,-21.9 Z" fill="url(#mhl)"/><line x1="-14.5" y1="0" x2="14.5" y2="0" stroke="#b05060" stroke-width="1"/><circle cx="-14.4" cy="0.2" r="4.4" fill="url(#bO)" opacity="0.8"/><circle cx="14.4" cy="0.2" r="4.4" fill="url(#bO)" opacity="0.65"/><circle cx="0" cy="0.2" r="4.5" fill="url(#bC)" opacity="0.85"/></g>
<g transform="translate(113.12,128)"><path d="M-13.8,-21.9 C-5,-21.3 5,-21.3 13.8,-21.9 A21.9,21.9 0 0 1 13.8,21.9 C5,21.3 -5,21.3 -13.8,21.9 A21.9,21.9 0 0 1 -13.8,-21.9 Z" fill="url(#m1)"/><path d="M-13.8,-21.9 C-5,-21.3 5,-21.3 13.8,-21.9 A21.9,21.9 0 0 1 13.8,21.9 C5,21.3 -5,21.3 -13.8,21.9 A21.9,21.9 0 0 1 -13.8,-21.9 Z" fill="url(#msh)"/><path d="M-13.8,-21.9 C-5,-21.3 5,-21.3 13.8,-21.9 A21.9,21.9 0 0 1 13.8,21.9 C5,21.3 -5,21.3 -13.8,21.9 A21.9,21.9 0 0 1 -13.8,-21.9 Z" fill="url(#mvs)"/><path d="M-13.8,-21.9 C-5,-21.3 5,-21.3 13.8,-21.9 A21.9,21.9 0 0 1 13.8,21.9 C5,21.3 -5,21.3 -13.8,21.9 A21.9,21.9 0 0 1 -13.8,-21.9 Z" fill="url(#mhl)"/><line x1="-14.5" y1="0" x2="14.5" y2="0" stroke="#b05060" stroke-width="1"/><circle cx="-14.4" cy="0.2" r="4.4" fill="url(#bO)" opacity="0.8"/><circle cx="14.4" cy="0.2" r="4.4" fill="url(#bO)" opacity="0.65"/><circle cx="0" cy="0.2" r="4.5" fill="url(#bC)" opacity="0.85"/></g>
<g transform="translate(188.54,128)"><path d="M-13.8,-21.9 C-5,-21.3 5,-21.3 13.8,-21.9 A21.9,21.9 0 0 1 13.8,21.9 C5,21.3 -5,21.3 -13.8,21.9 A21.9,21.9 0 0 1 -13.8,-21.9 Z" fill="url(#m2)"/><path d="M-13.8,-21.9 C-5,-21.3 5,-21.3 13.8,-21.9 A21.9,21.9 0 0 1 13.8,21.9 C5,21.3 -5,21.3 -13.8,21.9 A21.9,21.9 0 0 1 -13.8,-21.9 Z" fill="url(#msh)"/><path d="M-13.8,-21.9 C-5,-21.3 5,-21.3 13.8,-21.9 A21.9,21.9 0 0 1 13.8,21.9 C5,21.3 -5,21.3 -13.8,21.9 A21.9,21.9 0 0 1 -13.8,-21.9 Z" fill="url(#mvs)"/><path d="M-13.8,-21.9 C-5,-21.3 5,-21.3 13.8,-21.9 A21.9,21.9 0 0 1 13.8,21.9 C5,21.3 -5,21.3 -13.8,21.9 A21.9,21.9 0 0 1 -13.8,-21.9 Z" fill="url(#mhl)"/><line x1="-14.5" y1="0" x2="14.5" y2="0" stroke="#b05060" stroke-width="1"/><circle cx="-14.4" cy="0.2" r="4.4" fill="url(#bO)" opacity="0.8"/><circle cx="14.4" cy="0.2" r="4.4" fill="url(#bO)" opacity="0.65"/><circle cx="0" cy="0.2" r="4.5" fill="url(#bC)" opacity="0.85"/></g>
<g transform="translate(263.96,128)"><path d="M-13.8,-21.9 C-5,-21.3 5,-21.3 13.8,-21.9 A21.9,21.9 0 0 1 13.8,21.9 C5,21.3 -5,21.3 -13.8,21.9 A21.9,21.9 0 0 1 -13.8,-21.9 Z" fill="url(#m3)"/><path d="M-13.8,-21.9 C-5,-21.3 5,-21.3 13.8,-21.9 A21.9,21.9 0 0 1 13.8,21.9 C5,21.3 -5,21.3 -13.8,21.9 A21.9,21.9 0 0 1 -13.8,-21.9 Z" fill="url(#msh)"/><path d="M-13.8,-21.9 C-5,-21.3 5,-21.3 13.8,-21.9 A21.9,21.9 0 0 1 13.8,21.9 C5,21.3 -5,21.3 -13.8,21.9 A21.9,21.9 0 0 1 -13.8,-21.9 Z" fill="url(#mvs)"/><path d="M-13.8,-21.9 C-5,-21.3 5,-21.3 13.8,-21.9 A21.9,21.9 0 0 1 13.8,21.9 C5,21.3 -5,21.3 -13.8,21.9 A21.9,21.9 0 0 1 -13.8,-21.9 Z" fill="url(#mhl)"/><line x1="-14.5" y1="0" x2="14.5" y2="0" stroke="#b05060" stroke-width="1"/><circle cx="-14.4" cy="0.2" r="4.4" fill="url(#bO)" opacity="0.8"/><circle cx="14.4" cy="0.2" r="4.4" fill="url(#bO)" opacity="0.65"/><circle cx="0" cy="0.2" r="4.5" fill="url(#bC)" opacity="0.85"/></g>
<g transform="translate(339.38,128)"><path d="M-13.8,-21.9 C-5,-21.3 5,-21.3 13.8,-21.9 A21.9,21.9 0 0 1 13.8,21.9 C5,21.3 -5,21.3 -13.8,21.9 A21.9,21.9 0 0 1 -13.8,-21.9 Z" fill="url(#m4)"/><path d="M-13.8,-21.9 C-5,-21.3 5,-21.3 13.8,-21.9 A21.9,21.9 0 0 1 13.8,21.9 C5,21.3 -5,21.3 -13.8,21.9 A21.9,21.9 0 0 1 -13.8,-21.9 Z" fill="url(#msh)"/><path d="M-13.8,-21.9 C-5,-21.3 5,-21.3 13.8,-21.9 A21.9,21.9 0 0 1 13.8,21.9 C5,21.3 -5,21.3 -13.8,21.9 A21.9,21.9 0 0 1 -13.8,-21.9 Z" fill="url(#mvs)"/><path d="M-13.8,-21.9 C-5,-21.3 5,-21.3 13.8,-21.9 A21.9,21.9 0 0 1 13.8,21.9 C5,21.3 -5,21.3 -13.8,21.9 A21.9,21.9 0 0 1 -13.8,-21.9 Z" fill="url(#mhl)"/><line x1="-14.5" y1="0" x2="14.5" y2="0" stroke="#b05060" stroke-width="1"/><circle cx="-14.4" cy="0.2" r="4.4" fill="url(#bO)" opacity="0.8"/><circle cx="14.4" cy="0.2" r="4.4" fill="url(#bO)" opacity="0.65"/><circle cx="0" cy="0.2" r="4.5" fill="url(#bC)" opacity="0.85"/></g>
<g transform="translate(414.80,128)"><path d="M-13.8,-21.9 C-5,-21.3 5,-21.3 13.8,-21.9 A21.9,21.9 0 0 1 13.8,21.9 C5,21.3 -5,21.3 -13.8,21.9 A21.9,21.9 0 0 1 -13.8,-21.9 Z" fill="url(#m5)"/><path d="M-13.8,-21.9 C-5,-21.3 5,-21.3 13.8,-21.9 A21.9,21.9 0 0 1 13.8,21.9 C5,21.3 -5,21.3 -13.8,21.9 A21.9,21.9 0 0 1 -13.8,-21.9 Z" fill="url(#msh)"/><path d="M-13.8,-21.9 C-5,-21.3 5,-21.3 13.8,-21.9 A21.9,21.9 0 0 1 13.8,21.9 C5,21.3 -5,21.3 -13.8,21.9 A21.9,21.9 0 0 1 -13.8,-21.9 Z" fill="url(#mvs)"/><path d="M-13.8,-21.9 C-5,-21.3 5,-21.3 13.8,-21.9 A21.9,21.9 0 0 1 13.8,21.9 C5,21.3 -5,21.3 -13.8,21.9 A21.9,21.9 0 0 1 -13.8,-21.9 Z" fill="url(#mhl)"/><line x1="-14.5" y1="0" x2="14.5" y2="0" stroke="#b05060" stroke-width="1"/><circle cx="-14.4" cy="0.2" r="4.4" fill="url(#bO)" opacity="0.8"/><circle cx="14.4" cy="0.2" r="4.4" fill="url(#bO)" opacity="0.65"/><circle cx="0" cy="0.2" r="4.5" fill="url(#bC)" opacity="0.85"/></g>
<g transform="translate(490.22,128)"><path d="M-13.8,-21.9 C-5,-21.3 5,-21.3 13.8,-21.9 A21.9,21.9 0 0 1 13.8,21.9 C5,21.3 -5,21.3 -13.8,21.9 A21.9,21.9 0 0 1 -13.8,-21.9 Z" fill="url(#m6)"/><path d="M-13.8,-21.9 C-5,-21.3 5,-21.3 13.8,-21.9 A21.9,21.9 0 0 1 13.8,21.9 C5,21.3 -5,21.3 -13.8,21.9 A21.9,21.9 0 0 1 -13.8,-21.9 Z" fill="url(#msh)"/><path d="M-13.8,-21.9 C-5,-21.3 5,-21.3 13.8,-21.9 A21.9,21.9 0 0 1 13.8,21.9 C5,21.3 -5,21.3 -13.8,21.9 A21.9,21.9 0 0 1 -13.8,-21.9 Z" fill="url(#mvs)"/><path d="M-13.8,-21.9 C-5,-21.3 5,-21.3 13.8,-21.9 A21.9,21.9 0 0 1 13.8,21.9 C5,21.3 -5,21.3 -13.8,21.9 A21.9,21.9 0 0 1 -13.8,-21.9 Z" fill="url(#mhl)"/><line x1="-14.5" y1="0" x2="14.5" y2="0" stroke="#b05060" stroke-width="1"/><circle cx="-14.4" cy="0.2" r="4.4" fill="url(#bO)" opacity="0.8"/><circle cx="14.4" cy="0.2" r="4.4" fill="url(#bO)" opacity="0.65"/><circle cx="0" cy="0.2" r="4.5" fill="url(#bC)" opacity="0.85"/></g>
<g transform="translate(565.64,128)"><path d="M-13.8,-21.9 C-5,-21.3 5,-21.3 13.8,-21.9 A21.9,21.9 0 0 1 13.8,21.9 C5,21.3 -5,21.3 -13.8,21.9 A21.9,21.9 0 0 1 -13.8,-21.9 Z" fill="url(#m7)"/><path d="M-13.8,-21.9 C-5,-21.3 5,-21.3 13.8,-21.9 A21.9,21.9 0 0 1 13.8,21.9 C5,21.3 -5,21.3 -13.8,21.9 A21.9,21.9 0 0 1 -13.8,-21.9 Z" fill="url(#msh)"/><path d="M-13.8,-21.9 C-5,-21.3 5,-21.3 13.8,-21.9 A21.9,21.9 0 0 1 13.8,21.9 C5,21.3 -5,21.3 -13.8,21.9 A21.9,21.9 0 0 1 -13.8,-21.9 Z" fill="url(#mvs)"/><path d="M-13.8,-21.9 C-5,-21.3 5,-21.3 13.8,-21.9 A21.9,21.9 0 0 1 13.8,21.9 C5,21.3 -5,21.3 -13.8,21.9 A21.9,21.9 0 0 1 -13.8,-21.9 Z" fill="url(#mhl)"/><line x1="-14.5" y1="0" x2="14.5" y2="0" stroke="#b05060" stroke-width="1"/><circle cx="-14.4" cy="0.2" r="4.4" fill="url(#bO)" opacity="0.8"/><circle cx="14.4" cy="0.2" r="4.4" fill="url(#bO)" opacity="0.65"/><circle cx="0" cy="0.2" r="4.5" fill="url(#bC)" opacity="0.85"/></g>
<g transform="translate(641.06,128)"><path d="M-13.8,-21.9 C-5,-21.3 5,-21.3 13.8,-21.9 A21.9,21.9 0 0 1 13.8,21.9 C5,21.3 -5,21.3 -13.8,21.9 A21.9,21.9 0 0 1 -13.8,-21.9 Z" fill="url(#m8)"/><path d="M-13.8,-21.9 C-5,-21.3 5,-21.3 13.8,-21.9 A21.9,21.9 0 0 1 13.8,21.9 C5,21.3 -5,21.3 -13.8,21.9 A21.9,21.9 0 0 1 -13.8,-21.9 Z" fill="url(#msh)"/><path d="M-13.8,-21.9 C-5,-21.3 5,-21.3 13.8,-21.9 A21.9,21.9 0 0 1 13.8,21.9 C5,21.3 -5,21.3 -13.8,21.9 A21.9,21.9 0 0 1 -13.8,-21.9 Z" fill="url(#mvs)"/><path d="M-13.8,-21.9 C-5,-21.3 5,-21.3 13.8,-21.9 A21.9,21.9 0 0 1 13.8,21.9 C5,21.3 -5,21.3 -13.8,21.9 A21.9,21.9 0 0 1 -13.8,-21.9 Z" fill="url(#mhl)"/><line x1="-14.5" y1="0" x2="14.5" y2="0" stroke="#b05060" stroke-width="1"/><circle cx="-14.4" cy="0.2" r="4.4" fill="url(#bO)" opacity="0.8"/><circle cx="14.4" cy="0.2" r="4.4" fill="url(#bO)" opacity="0.65"/><circle cx="0" cy="0.2" r="4.5" fill="url(#bC)" opacity="0.85"/></g>
<defs><linearGradient id="gc" x1="0" x2="1" y1="0" y2="0"><stop offset="0" stop-color="#1e1eec"/><stop offset="0.46" stop-color="#ffffff"/><stop offset="0.54" stop-color="#ffffff"/><stop offset="1" stop-color="#ee1e1e"/></linearGradient></defs>
<rect x="3" y="153.8" width="673.6" height="7.7" fill="url(#gc)"/>
<text x="3.57" y="178.90" font-size="16.29" fill="#000" textLength="27.93" lengthAdjust="spacingAndGlyphs"  stroke="#000" stroke-width="0.2">-1.0</text>
<text x="247.03" y="178.60" font-size="15.86" fill="#000"  stroke="#000" stroke-width="0.2">Electrostatic potential (eV)</text>
<text x="643.50" y="178.90" font-size="16.43" fill="#000" textLength="31.52" lengthAdjust="spacingAndGlyphs"  stroke="#000" stroke-width="0.2">+1.0</text>
<clipPath id="cd1"><rect x="49.5" y="197.2" width="119.9" height="119.30000000000001"/></clipPath>
<g clip-path="url(#cd1)" stroke="#ff1a1a" stroke-width="1.15" fill="none" stroke-opacity="1.0">
<polyline points="48.4,241.6 51.9,247.0 55.4,251.8 59.2,256.5 63.0,260.6 67.3,264.7 71.6,268.3 76.1,271.6 80.8,274.7"/>
<polyline points="48.4,213.7 51.8,222.2 55.7,230.1 59.9,237.4 64.4,244.0 69.5,250.1 74.9,255.5 80.8,260.3 86.7,264.4"/>
<polyline points="54.2,196.0 57.2,206.4 60.7,216.1 64.6,224.9 69.1,232.9 73.9,239.8 76.6,243.2 79.4,246.2 82.2,249.0 85.3,251.5 91.5,255.9"/>
<polyline points="65.1,196.1 67.7,205.4 70.6,214.1 73.9,221.8 77.6,228.9 81.6,234.9 85.9,240.2 90.5,244.6 95.7,248.4"/>
<polyline points="156.4,196.2 153.7,205.8 150.5,214.9 147.0,222.9 143.0,230.3 138.5,236.9 133.9,242.4 128.9,247.0 123.3,250.9"/>
<polyline points="166.8,196.0 163.7,206.7 160.0,216.9 155.9,226.0 151.1,234.3 146.1,241.5 140.5,247.8 137.4,250.9 134.3,253.5 131.1,255.9 127.8,258.1"/>
<polyline points="170.4,216.4 166.8,224.9 163.1,232.4 158.7,239.6 154.1,246.1 149.2,251.9 143.8,257.2 137.9,262.0 131.9,266.0"/>
<polyline points="170.6,237.5 167.1,243.3 163.5,248.6 159.6,253.7 155.3,258.5 150.8,263.0 146.2,266.9 141.4,270.5 136.4,273.7"/>
<polyline points="75.9,195.9 77.9,204.5 80.2,212.2 82.7,218.9 85.6,225.1 88.8,230.6 92.1,235.1 95.7,238.9 99.5,241.8"/>
<polyline points="85.0,195.9 86.6,203.8 88.3,210.8 90.1,216.9 92.2,222.5 94.4,227.2 96.9,231.3 99.4,234.5 102.1,236.9"/>
<polyline points="93.1,195.9 95.2,209.3 96.4,215.2 97.8,220.2 99.3,224.8 100.8,228.5 102.4,231.3 104.2,233.4"/>
<polyline points="100.4,195.9 101.5,208.3 102.7,218.2 104.2,225.6 105.1,228.7 105.9,230.9"/>
<polyline points="108.3,195.9 108.7,230.3"/>
<polyline points="116.1,195.9 115.2,208.3 114.1,218.2 112.8,225.7 111.4,230.7"/>
<polyline points="123.5,195.9 121.5,209.4 119.2,219.9 117.9,224.1 116.5,227.8 115.0,230.7 113.4,232.9"/>
<polyline points="131.1,195.9 129.7,203.4 128.1,210.4 126.3,216.6 124.3,222.2 122.2,227.0 120.0,230.8 117.5,233.9 115.2,236.1"/>
<polyline points="139.3,195.9 137.4,204.1 135.2,211.8 132.8,218.6 130.2,224.4 127.3,229.7 124.3,233.9 121.1,237.5 117.3,240.4"/>
<polyline points="148.4,195.9 146.0,204.8 143.3,213.2 140.3,220.6 137.1,227.0 133.5,232.8 129.5,237.8 125.2,242.1 120.8,245.4"/>
<polyline points="48.5,264.8 54.4,271.3 60.6,277.0 67.2,282.2 73.9,286.5"/>
<polyline points="48.3,284.1 52.8,288.2 57.5,291.9 62.3,295.4 67.4,298.6"/>
<polyline points="48.2,301.6 54.3,306.1 60.7,310.2"/>
<polyline points="48.5,313.5 53.1,316.6"/>
<polyline points="170.6,264.5 164.5,271.3 158.1,277.3 151.2,282.8 144.1,287.4"/>
<polyline points="170.5,284.1 165.8,288.4 161.2,292.2 156.0,296.0 150.9,299.2"/>
<polyline points="170.7,301.5 164.3,306.4 157.6,310.7"/>
<polyline points="170.4,313.5 166.1,316.4"/>
</g>
<path d="M53.6,249.4L48.8,246.4L52.4,243.9Z" fill="#ff1a1a" clip-path="url(#cd1)"/>
<path d="M68.0,248.5L63.1,245.9L66.5,243.1Z" fill="#ff1a1a" clip-path="url(#cd1)"/>
<path d="M80.6,247.5L75.4,245.2L78.6,242.2Z" fill="#ff1a1a" clip-path="url(#cd1)"/>
<path d="M92.5,246.3L87.1,244.6L89.9,241.2Z" fill="#ff1a1a" clip-path="url(#cd1)"/>
<path d="M129.1,246.9L131.5,241.8L134.4,245.1Z" fill="#ff1a1a" clip-path="url(#cd1)"/>
<path d="M140.4,248.0L142.3,242.7L145.6,245.7Z" fill="#ff1a1a" clip-path="url(#cd1)"/>
<path d="M152.0,248.7L153.5,243.3L156.9,246.0Z" fill="#ff1a1a" clip-path="url(#cd1)"/>
<path d="M162.9,249.4L164.1,243.9L167.7,246.4Z" fill="#ff1a1a" clip-path="url(#cd1)"/>
<clipPath id="cd2"><rect x="169.4" y="197.2" width="119.9" height="119.30000000000001"/></clipPath>
<g clip-path="url(#cd2)" stroke="#ff2a2a" stroke-width="0.6" fill="none" stroke-opacity="0.55">
<polyline points="168.4,234.0 170.7,242.5 173.4,250.4 176.3,257.5 179.5,263.9 182.8,269.4 186.4,274.2 189.9,278.0 195.7,283.5"/>
<polyline points="180.1,196.0 181.9,210.7 184.0,223.7 186.4,235.1 189.3,245.5 192.7,254.9 196.4,262.8 198.4,266.3 200.6,269.6 202.8,272.5 205.0,274.8"/>
<polyline points="199.9,196.1 201.9,217.6 203.1,227.2 204.5,236.3 206.1,244.5 207.8,251.9 209.6,258.5 212.6,268.0"/>
<polyline points="217.6,196.1 218.9,226.5 219.8,240.1 221.4,260.0 221.8,268.0"/>
<polyline points="234.5,196.0 233.9,224.8 232.7,259.2 232.5,268.0"/>
<polyline points="252.0,195.8 250.6,214.6 248.8,231.3 246.7,245.9 243.3,263.6 242.8,268.0"/>
<polyline points="274.5,195.9 272.8,210.2 270.9,222.9 268.6,234.2 265.8,244.7 262.8,253.8 259.2,261.8 257.3,265.3 255.4,268.4 253.5,271.0 251.3,273.3"/>
<polyline points="290.4,231.7 288.1,240.6 285.4,248.9 282.4,256.4 279.1,263.2 275.8,268.7 272.1,273.9 268.3,278.0 262.5,283.5"/>
<polyline points="168.3,287.6 171.2,291.0 174.3,294.1 177.4,296.6 180.4,298.6 183.6,300.3 186.9,301.5 190.1,302.1 193.3,302.4"/>
<polyline points="290.4,284.0 287.5,287.8 284.5,291.0 281.5,293.6 278.3,296.0 274.8,297.9 271.4,299.2 267.9,300.0 264.7,300.2"/>
<polyline points="168.4,275.3 171.1,279.3 174.1,283.0 177.1,286.2 180.2,288.8 183.2,290.7 186.4,292.3 189.9,293.3 193.1,293.6"/>
<polyline points="168.2,309.5 174.8,317.6"/>
<polyline points="290.5,306.6 285.7,312.5 280.7,317.7"/>
</g>
<path d="M177.1,259.3L173.3,255.7L176.9,254.1Z" fill="#ff1a1a" clip-path="url(#cd2)"/>
<path d="M194.6,259.3L190.8,255.7L194.5,254.1Z" fill="#ff1a1a" clip-path="url(#cd2)"/>
<path d="M210.1,260.0L206.8,255.9L210.7,254.8Z" fill="#ff1a1a" clip-path="url(#cd2)"/>
<path d="M221.5,260.4L219.1,255.8L223.1,255.5Z" fill="#ff1a1a" clip-path="url(#cd2)"/>
<path d="M232.6,260.4L230.8,255.5L234.8,255.7Z" fill="#ff1a1a" clip-path="url(#cd2)"/>
<path d="M243.9,260.1L242.9,254.9L246.8,255.7Z" fill="#ff1a1a" clip-path="url(#cd2)"/>
<path d="M260.5,259.3L260.5,254.1L264.2,255.7Z" fill="#ff1a1a" clip-path="url(#cd2)"/>
<path d="M281.1,259.3L281.3,254.1L284.9,255.7Z" fill="#ff1a1a" clip-path="url(#cd2)"/>
<path d="M183.5,300.3L178.3,299.8L180.2,296.3Z" fill="#ff1a1a" clip-path="url(#cd2)"/>
<path d="M279.3,295.4L281.8,290.8L284.3,294.0Z" fill="#ff1a1a" clip-path="url(#cd2)"/>
<clipPath id="cd3"><rect x="289.3" y="197.2" width="119.69999999999999" height="119.30000000000001"/></clipPath>
<g clip-path="url(#cd3)" stroke="#ff2a2a" stroke-width="0.6" fill="none" stroke-opacity="0.55">
<polyline points="288.3,212.1 290.5,229.9 291.8,237.8 293.3,245.3 294.9,252.3 296.6,258.5 298.6,264.5 300.7,269.8 302.8,274.5 305.3,279.1 307.9,283.1 310.7,286.5 313.5,289.3 316.3,291.6 319.1,293.2 323.1,294.9"/>
<polyline points="308.2,195.9 309.5,213.0 311.2,228.1 313.2,241.2 315.7,252.1 318.6,261.7 320.2,265.8 322.0,269.8 323.9,273.3 326.0,276.7 328.2,279.6 330.6,282.2"/>
<polyline points="330.4,196.1 331.7,224.1 332.6,235.6 333.7,245.6 334.9,254.7 336.4,262.5 338.1,269.5 340.2,276.4"/>
<polyline points="352.8,196.0 352.1,243.2 351.5,259.2 350.7,274.8"/>
<polyline points="374.3,196.1 373.5,211.3 372.4,224.9 371.2,236.8 369.6,247.1 367.9,256.1 365.7,264.3 363.1,271.8 360.4,277.6"/>
<polyline points="400.1,195.9 398.5,215.0 396.4,231.3 393.7,245.5 392.2,251.7 390.5,257.4 388.7,262.7 386.7,267.5 384.6,271.9 382.2,276.0 379.6,279.6 377.0,282.6 374.3,285.0 371.1,287.4"/>
<polyline points="288.3,210.1 290.5,228.4 291.8,236.7 293.2,244.1 294.8,251.2 296.6,257.7 298.4,263.4 300.6,269.0 302.9,274.1 305.3,278.7 307.9,282.8 310.7,286.2 313.5,289.1 316.3,291.3 319.4,293.1 323.1,294.7"/>
<polyline points="410.0,218.1 407.6,235.2 406.3,242.7 404.7,249.7 403.1,256.3 401.2,262.4 399.2,268.1 397.0,273.2 394.7,277.9 392.0,282.3 389.5,285.9 386.6,289.2 383.6,291.9 380.6,293.9 377.7,295.3 374.3,296.3"/>
<polyline points="410.1,254.1 407.1,264.9 403.5,274.7 401.6,279.1 399.5,283.4 397.3,287.2 395.1,290.6 392.7,293.8 390.4,296.5 387.7,298.9 385.2,300.9 382.8,302.3 380.2,303.3 377.8,303.9 375.1,304.1"/>
<polyline points="288.2,273.9 291.4,282.1 294.8,289.3 298.8,296.3 302.8,302.2 307.5,307.7 312.1,312.1 314.6,314.1 317.0,315.6 319.1,316.7 321.4,317.6"/>
<polyline points="288.2,286.7 292.6,296.6 300.5,312.3 302.9,317.7"/>
<polyline points="288.2,307.4 289.9,313.2 291.0,317.8"/>
<polyline points="410.1,296.3 404.9,310.1 402.5,317.7"/>
</g>
<path d="M293.7,247.2L290.7,243.0L294.7,242.1Z" fill="#ff1a1a" clip-path="url(#cd3)"/>
<path d="M313.2,241.2L310.4,236.8L314.4,236.1Z" fill="#ff1a1a" clip-path="url(#cd3)"/>
<path d="M333.1,241.2L330.7,236.6L334.7,236.2Z" fill="#ff1a1a" clip-path="url(#cd3)"/>
<path d="M352.1,241.2L350.3,236.4L354.3,236.4Z" fill="#ff1a1a" clip-path="url(#cd3)"/>
<path d="M370.6,241.2L369.2,236.2L373.2,236.7Z" fill="#ff1a1a" clip-path="url(#cd3)"/>
<path d="M394.7,241.2L393.6,236.1L397.5,236.8Z" fill="#ff1a1a" clip-path="url(#cd3)"/>
<path d="M309.8,285.3L305.4,282.7L308.6,280.3Z" fill="#ff1a1a" clip-path="url(#cd3)"/>
<path d="M400.5,264.7L400.0,259.5L403.8,260.7Z" fill="#ff1a1a" clip-path="url(#cd3)"/>
<path d="M384.9,301.2L387.5,296.6L389.9,299.8Z" fill="#ff1a1a" clip-path="url(#cd3)"/>
<path d="M318.3,316.5L313.2,315.6L315.3,312.2Z" fill="#ff1a1a" clip-path="url(#cd3)"/>
<path d="M328.6,280.2L324.1,277.6L327.3,275.2Z" fill="#ff1a1a" clip-path="url(#cd3)"/>
<path d="M379.2,280.2L380.4,275.2L383.6,277.5Z" fill="#ff1a1a" clip-path="url(#cd3)"/>
<rect x="49.5" y="197.2" width="119.9" height="119.30000000000001" fill="none" stroke="#222" stroke-width="1.3"/>
<rect x="169.4" y="197.2" width="119.9" height="119.30000000000001" fill="none" stroke="#222" stroke-width="1.3"/>
<rect x="289.3" y="197.2" width="119.69999999999999" height="119.30000000000001" fill="none" stroke="#222" stroke-width="1.3"/>
<defs><linearGradient id="gef" x1="0" y1="1" x2="0" y2="0"><stop offset="0.000" stop-color="#c8b0ff"/><stop offset="0.038" stop-color="#b7aaff"/><stop offset="0.077" stop-color="#a4a8ff"/><stop offset="0.115" stop-color="#91aaff"/><stop offset="0.154" stop-color="#80b0ff"/><stop offset="0.192" stop-color="#69bbff"/><stop offset="0.231" stop-color="#50ccff"/><stop offset="0.269" stop-color="#37dfff"/><stop offset="0.308" stop-color="#20f0ff"/><stop offset="0.346" stop-color="#42f0e9"/><stop offset="0.385" stop-color="#68f0d0"/><stop offset="0.423" stop-color="#92f0ae"/><stop offset="0.462" stop-color="#c0f080"/><stop offset="0.500" stop-color="#def058"/><stop offset="0.538" stop-color="#f4f02e"/><stop offset="0.577" stop-color="#fff000"/><stop offset="0.615" stop-color="#ffc200"/><stop offset="0.654" stop-color="#ff9800"/><stop offset="0.692" stop-color="#ff6b00"/><stop offset="0.731" stop-color="#ff3702"/><stop offset="0.769" stop-color="#ff0a0a"/><stop offset="0.808" stop-color="#ec021c"/><stop offset="0.846" stop-color="#d60030"/><stop offset="0.885" stop-color="#bd0046"/><stop offset="0.923" stop-color="#a00060"/><stop offset="0.962" stop-color="#90086d"/><stop offset="1.000" stop-color="#80107a"/></linearGradient></defs>
<rect x="39.2" y="197.2" width="6.4" height="118.2" fill="url(#gef)" stroke="#555" stroke-width="0.6"/>
<line x1="39.2" y1="297.2" x2="40.6" y2="297.2" stroke="#444" stroke-width="0.8"/><line x1="44.2" y1="297.2" x2="45.6" y2="297.2" stroke="#444" stroke-width="0.8"/>
<line x1="39.2" y1="279.0" x2="40.6" y2="279.0" stroke="#444" stroke-width="0.8"/><line x1="44.2" y1="279.0" x2="45.6" y2="279.0" stroke="#444" stroke-width="0.8"/>
<line x1="39.2" y1="260.8" x2="40.6" y2="260.8" stroke="#444" stroke-width="0.8"/><line x1="44.2" y1="260.8" x2="45.6" y2="260.8" stroke="#444" stroke-width="0.8"/>
<line x1="39.2" y1="242.6" x2="40.6" y2="242.6" stroke="#444" stroke-width="0.8"/><line x1="44.2" y1="242.6" x2="45.6" y2="242.6" stroke="#444" stroke-width="0.8"/>
<line x1="39.2" y1="224.4" x2="40.6" y2="224.4" stroke="#444" stroke-width="0.8"/><line x1="44.2" y1="224.4" x2="45.6" y2="224.4" stroke="#444" stroke-width="0.8"/>
<line x1="39.2" y1="206.2" x2="40.6" y2="206.2" stroke="#444" stroke-width="0.8"/><line x1="44.2" y1="206.2" x2="45.6" y2="206.2" stroke="#444" stroke-width="0.8"/>
<text x="38.7" y="321.0" font-size="15.7" text-anchor="end" stroke="#000" stroke-width="0.2">0</text>
<text x="38.7" y="284.6" font-size="15.7" text-anchor="end" stroke="#000" stroke-width="0.2">0.4</text>
<text x="38.7" y="248.2" font-size="15.7" text-anchor="end" stroke="#000" stroke-width="0.2">0.8</text>
<text x="38.7" y="211.8" font-size="15.7" text-anchor="end" stroke="#000" stroke-width="0.2">1.2</text>
<text x="-0.51" y="205.50" font-size="17.86" fill="#000" font-weight="bold" >d</text>
<text transform="translate(14.5,264.8) rotate(-90)" font-size="15.8" text-anchor="middle" textLength="118.5" lengthAdjust="spacingAndGlyphs" stroke="#000" stroke-width="0.2">EF (&#215; 10<tspan font-size="11" dy="-5.5">8</tspan><tspan dy="5.5"> V m</tspan><tspan font-size="11" dy="-5.5">-1</tspan><tspan dy="5.5">)</tspan></text>
<text x="423.25" y="205.80" font-size="17.22" fill="#000" font-weight="bold" textLength="10.43" lengthAdjust="spacingAndGlyphs" >e</text>
<clipPath id="ce0"><rect x="470.2" y="196.89999999999998" width="205.00000000000006" height="89.5"/></clipPath>
<path d="M469.71,284.16C470.23,283.38 471.80,279.19 472.85,279.45C473.89,279.72 474.94,285.47 475.99,285.73C477.03,285.99 478.08,281.02 479.12,281.02C480.17,281.02 480.96,284.95 482.26,285.73C483.57,286.52 485.66,286.78 486.97,285.73C488.28,284.69 489.06,280.13 490.11,279.45C491.16,278.77 492.46,282.44 493.25,281.65C494.03,280.87 494.29,276.16 494.82,274.75C495.34,273.33 495.60,272.65 496.39,273.18C497.17,273.70 498.48,275.79 499.53,277.88C500.57,279.98 501.72,284.69 502.66,285.73C503.61,286.78 504.39,284.95 505.18,284.16C505.96,283.38 506.64,281.02 507.37,281.02C508.11,281.02 508.79,284.42 509.57,284.16C510.35,283.90 511.24,279.56 512.08,279.45C512.92,279.35 513.81,283.01 514.59,283.53C515.38,284.06 516.06,283.27 516.79,282.59C517.52,281.91 518.20,280.50 518.99,279.45C519.77,278.41 520.82,276.47 521.50,276.32C522.18,276.16 522.54,279.30 523.07,278.51C523.59,277.73 524.11,272.23 524.64,271.61C525.16,270.98 525.68,275.79 526.21,274.75C526.73,273.70 527.25,266.38 527.77,265.33C528.30,264.28 528.82,267.68 529.34,268.47C529.87,269.25 530.39,271.08 530.91,270.04C531.44,268.99 531.96,264.28 532.48,262.19C533.01,260.10 533.53,260.10 534.05,257.48C534.58,254.87 535.10,250.68 535.62,246.50C536.14,242.31 536.67,232.11 537.19,232.37C537.71,232.63 538.24,245.71 538.76,248.07C539.28,250.42 539.81,249.64 540.33,246.50C540.85,243.36 541.38,232.63 541.90,229.23C542.42,225.83 542.95,227.66 543.47,226.10C543.99,224.53 544.41,221.23 545.04,219.82C545.67,218.41 546.55,216.84 547.23,217.62C547.91,218.41 548.54,224.16 549.12,224.53C549.69,224.89 550.06,218.51 550.69,219.82C551.32,221.13 552.26,230.80 552.88,232.37C553.51,233.94 553.93,230.02 554.45,229.23C554.98,228.45 555.40,225.57 556.02,227.66C556.65,229.76 557.44,239.96 558.22,241.79C559.01,243.62 560.05,238.81 560.73,238.65C561.41,238.49 561.78,240.59 562.30,240.85C562.82,241.11 563.35,240.85 563.87,240.22C564.39,239.59 564.92,236.82 565.44,237.08C565.96,237.34 566.49,240.48 567.01,241.79C567.53,243.10 568.06,245.19 568.58,244.93C569.10,244.67 569.62,240.74 570.15,240.22C570.67,239.70 571.19,240.85 571.72,241.79C572.24,242.73 572.76,244.82 573.29,245.87C573.81,246.92 574.33,247.18 574.86,248.07C575.38,248.96 575.90,250.16 576.42,251.21C576.95,252.25 577.47,254.61 577.99,254.34C578.52,254.08 579.04,250.94 579.56,249.64C580.09,248.33 580.61,246.60 581.13,246.50C581.66,246.39 582.18,248.22 582.70,249.01C583.23,249.79 583.75,251.62 584.27,251.21C584.79,250.79 585.32,247.02 585.84,246.50C586.36,245.97 586.89,247.02 587.41,248.07C587.93,249.11 588.46,251.47 588.98,252.77C589.50,254.08 590.03,256.44 590.55,255.91C591.07,255.39 591.60,250.42 592.12,249.64C592.64,248.85 593.16,250.42 593.69,251.21C594.21,251.99 594.73,253.30 595.26,254.34C595.78,255.39 596.30,259.05 596.83,257.48C597.35,255.91 597.98,247.80 598.40,244.93C598.81,242.05 598.97,239.70 599.34,240.22C599.70,240.74 600.23,245.97 600.59,248.07C600.96,250.16 601.12,253.04 601.53,252.77C601.95,252.51 602.58,246.76 603.10,246.50C603.63,246.24 604.15,249.90 604.67,251.21C605.20,252.51 605.72,254.61 606.24,254.34C606.77,254.08 607.29,250.16 607.81,249.64C608.34,249.11 608.86,250.16 609.38,251.21C609.90,252.25 610.43,255.13 610.95,255.91C611.47,256.70 612.00,255.65 612.52,255.91C613.04,256.17 613.57,256.96 614.09,257.48C614.61,258.01 615.14,259.21 615.66,259.05C616.18,258.90 616.71,256.80 617.23,256.54C617.75,256.28 618.27,256.28 618.80,257.48C619.32,258.69 619.84,261.14 620.37,263.76C620.89,266.38 621.41,271.08 621.94,273.18C622.46,275.27 622.98,275.27 623.51,276.32C624.03,277.36 624.55,279.45 625.08,279.45C625.60,279.45 626.12,277.10 626.64,276.32C627.17,275.53 627.69,275.79 628.21,274.75C628.74,273.70 629.26,271.35 629.78,270.04C630.31,268.73 630.83,267.95 631.35,266.90C631.88,265.85 632.40,264.81 632.92,263.76C633.45,262.71 633.97,261.41 634.49,260.62C635.01,259.84 635.54,258.69 636.06,259.05C636.58,259.42 637.11,262.40 637.63,262.82C638.15,263.24 638.68,261.14 639.20,261.56C639.72,261.98 640.25,264.44 640.77,265.33C641.29,266.22 641.82,263.76 642.34,266.90C642.86,270.04 643.38,280.92 643.91,284.16C644.43,287.41 644.95,286.36 645.48,286.36C646.00,286.36 646.52,285.05 647.05,284.16C647.57,283.27 648.09,281.02 648.62,281.02C649.14,281.02 649.66,283.64 650.19,284.16C650.71,284.69 651.23,284.95 651.75,284.16C652.28,283.38 652.80,279.45 653.32,279.45C653.85,279.45 654.37,283.12 654.89,284.16C655.42,285.21 655.94,285.73 656.46,285.73C656.99,285.73 657.51,285.21 658.03,284.16C658.56,283.12 659.08,279.45 659.60,279.45C660.12,279.45 660.65,283.12 661.17,284.16C661.69,285.21 662.22,285.99 662.74,285.73C663.26,285.47 663.79,283.64 664.31,282.59C664.83,281.55 665.36,279.19 665.88,279.45C666.40,279.72 666.93,283.12 667.45,284.16C667.97,285.21 668.23,285.73 669.02,285.73C669.80,285.73 671.37,284.16 672.16,284.16C672.94,284.16 673.20,286.25 673.73,285.73C674.25,285.21 675.03,281.81 675.30,281.02" fill="none" stroke="#1ca3de" stroke-width="1.3" stroke-linejoin="round" clip-path="url(#ce0)"/>
<rect x="470.2" y="196.89999999999998" width="205.00000000000006" height="89.5" fill="none" stroke="#333" stroke-width="1.3"/>
<line x1="468.4" y1="286.40" x2="470.2" y2="286.40" stroke="#333" stroke-width="1"/>
<line x1="468.4" y1="275.14" x2="470.2" y2="275.14" stroke="#333" stroke-width="1"/>
<line x1="468.4" y1="263.88" x2="470.2" y2="263.88" stroke="#333" stroke-width="1"/>
<line x1="468.4" y1="252.62" x2="470.2" y2="252.62" stroke="#333" stroke-width="1"/>
<line x1="468.4" y1="241.36" x2="470.2" y2="241.36" stroke="#333" stroke-width="1"/>
<line x1="468.4" y1="230.10" x2="470.2" y2="230.10" stroke="#333" stroke-width="1"/>
<line x1="468.4" y1="218.84" x2="470.2" y2="218.84" stroke="#333" stroke-width="1"/>
<line x1="468.4" y1="207.58" x2="470.2" y2="207.58" stroke="#333" stroke-width="1"/>
<line x1="467.0" y1="230.40" x2="470.2" y2="230.40" stroke="#333" stroke-width="1.1"/>
<line x1="467.0" y1="286.40" x2="470.2" y2="286.40" stroke="#333" stroke-width="1.1"/>
<text x="439.73" y="236.30" font-size="16.00" fill="#000" textLength="25.94" lengthAdjust="spacingAndGlyphs"  stroke="#000" stroke-width="0.2">100</text>
<text x="456.56" y="292.30" font-size="16.00" fill="#000"  stroke="#000" stroke-width="0.2">0</text>
<line x1="470.10" y1="286.4" x2="470.10" y2="288.59999999999997" stroke="#333" stroke-width="1"/>
<line x1="482.90" y1="286.4" x2="482.90" y2="288.59999999999997" stroke="#333" stroke-width="1"/>
<line x1="495.70" y1="286.4" x2="495.70" y2="290.0" stroke="#333" stroke-width="1"/>
<line x1="508.50" y1="286.4" x2="508.50" y2="288.59999999999997" stroke="#333" stroke-width="1"/>
<line x1="521.30" y1="286.4" x2="521.30" y2="288.59999999999997" stroke="#333" stroke-width="1"/>
<line x1="534.10" y1="286.4" x2="534.10" y2="288.59999999999997" stroke="#333" stroke-width="1"/>
<line x1="546.90" y1="286.4" x2="546.90" y2="290.0" stroke="#333" stroke-width="1"/>
<line x1="559.70" y1="286.4" x2="559.70" y2="288.59999999999997" stroke="#333" stroke-width="1"/>
<line x1="572.50" y1="286.4" x2="572.50" y2="288.59999999999997" stroke="#333" stroke-width="1"/>
<line x1="585.30" y1="286.4" x2="585.30" y2="288.59999999999997" stroke="#333" stroke-width="1"/>
<line x1="598.10" y1="286.4" x2="598.10" y2="290.0" stroke="#333" stroke-width="1"/>
<line x1="610.90" y1="286.4" x2="610.90" y2="288.59999999999997" stroke="#333" stroke-width="1"/>
<line x1="623.70" y1="286.4" x2="623.70" y2="288.59999999999997" stroke="#333" stroke-width="1"/>
<line x1="636.50" y1="286.4" x2="636.50" y2="288.59999999999997" stroke="#333" stroke-width="1"/>
<line x1="649.30" y1="286.4" x2="649.30" y2="290.0" stroke="#333" stroke-width="1"/>
<line x1="662.10" y1="286.4" x2="662.10" y2="288.59999999999997" stroke="#333" stroke-width="1"/>
<line x1="674.90" y1="286.4" x2="674.90" y2="288.59999999999997" stroke="#333" stroke-width="1"/>
<text x="478.22" y="217.90" font-size="15.86" fill="#000" textLength="54.47" lengthAdjust="spacingAndGlyphs"  stroke="#000" stroke-width="0.2">Au(211)</text>
<text x="599.90" y="218.00" font-size="16.00" fill="#000" textLength="62.95" lengthAdjust="spacingAndGlyphs"  stroke="#000" stroke-width="0.2">with EEF</text>
<text x="548.63" y="277.80" font-size="16.71" fill="#000" textLength="36.62" lengthAdjust="spacingAndGlyphs"  stroke="#000" stroke-width="0.2">-2.77</text>
<line x1="567.2" y1="279.2" x2="567.2" y2="286.4" stroke="#222" stroke-width="1.2"/>
<clipPath id="ce1"><rect x="470.2" y="291.37" width="205.00000000000006" height="89.5"/></clipPath>
<path d="M469.71,379.16C470.23,378.64 471.80,376.02 472.85,376.02C473.89,376.02 474.94,378.90 475.99,379.16C477.03,379.42 478.23,378.12 479.12,377.59C480.01,377.07 480.54,376.81 481.32,376.02C482.11,375.24 482.89,372.62 483.83,372.88C484.77,373.15 485.92,376.65 486.97,377.59C488.02,378.53 489.06,378.80 490.11,378.53C491.16,378.27 492.20,376.34 493.25,376.02C494.29,375.71 495.34,376.39 496.39,376.65C497.43,376.91 498.58,377.70 499.53,377.59C500.47,377.49 501.25,376.55 502.04,376.02C502.82,375.50 503.61,375.24 504.23,374.45C504.86,373.67 505.02,370.79 505.80,371.32C506.59,371.84 507.90,377.33 508.94,377.59C509.99,377.85 511.14,374.30 512.08,372.88C513.02,371.47 513.81,368.59 514.59,369.12C515.38,369.64 515.90,375.66 516.79,376.02C517.68,376.39 519.04,372.62 519.93,371.32C520.82,370.01 521.44,367.39 522.12,368.18C522.80,368.96 523.33,376.55 524.01,376.02C524.69,375.50 525.32,367.39 526.21,365.04C527.09,362.68 528.56,362.68 529.34,361.90C530.13,361.11 530.39,361.11 530.91,360.33C531.44,359.54 531.85,359.28 532.48,357.19C533.11,355.10 533.90,350.39 534.68,347.77C535.46,345.16 536.46,343.33 537.19,341.50C537.92,339.67 538.55,338.10 539.07,336.79C539.60,335.48 539.86,335.22 540.33,333.65C540.80,332.08 541.38,328.94 541.90,327.37C542.42,325.80 542.95,325.80 543.47,324.23C543.99,322.66 544.41,319.37 545.04,317.96C545.67,316.54 546.55,315.50 547.23,315.76C547.91,316.02 548.59,319.42 549.12,319.53C549.64,319.63 549.75,316.39 550.37,316.39C551.00,316.39 552.05,319.53 552.88,319.53C553.72,319.53 554.61,315.34 555.40,316.39C556.18,317.43 556.96,322.40 557.59,325.80C558.22,329.20 558.64,334.44 559.16,336.79C559.69,339.14 559.95,340.19 560.73,339.93C561.52,339.67 562.82,335.48 563.87,335.22C564.92,334.96 565.96,337.57 567.01,338.36C568.06,339.14 569.36,339.82 570.15,339.93C570.93,340.03 571.19,338.72 571.72,338.99C572.24,339.25 572.76,340.56 573.29,341.50C573.81,342.44 574.33,344.53 574.86,344.64C575.38,344.74 575.90,342.39 576.42,342.12C576.95,341.86 577.47,342.54 577.99,343.07C578.52,343.59 579.04,345.00 579.56,345.26C580.09,345.53 580.61,345.16 581.13,344.64C581.66,344.11 582.18,342.39 582.70,342.12C583.23,341.86 583.75,342.39 584.27,343.07C584.79,343.75 585.32,345.68 585.84,346.21C586.36,346.73 586.89,346.57 587.41,346.21C587.93,345.84 588.46,344.53 588.98,344.01C589.50,343.49 590.03,342.70 590.55,343.07C591.07,343.43 591.60,345.42 592.12,346.21C592.64,346.99 593.16,347.93 593.69,347.77C594.21,347.62 594.84,345.53 595.26,345.26C595.68,345.00 595.68,346.57 596.20,346.21C596.72,345.84 597.77,343.22 598.40,343.07C599.02,342.91 599.44,344.74 599.97,345.26C600.49,345.79 601.01,346.57 601.53,346.21C602.06,345.84 602.58,343.85 603.10,343.07C603.63,342.28 604.05,341.50 604.67,341.50C605.30,341.50 606.19,342.02 606.87,343.07C607.55,344.11 608.07,347.25 608.75,347.77C609.43,348.30 610.32,345.42 610.95,346.21C611.58,346.99 611.84,350.91 612.52,352.48C613.20,354.05 614.25,354.84 615.03,355.62C615.82,356.41 616.50,356.41 617.23,357.19C617.96,357.98 618.64,359.54 619.43,360.33C620.21,361.11 621.26,360.33 621.94,361.90C622.62,363.47 622.98,368.18 623.51,369.75C624.03,371.32 624.55,371.05 625.08,371.32C625.60,371.58 626.02,372.10 626.64,371.32C627.27,370.53 628.06,368.18 628.84,366.61C629.63,365.04 630.41,363.47 631.35,361.90C632.29,360.33 633.55,358.24 634.49,357.19C635.43,356.14 636.22,355.36 637.00,355.62C637.79,355.88 638.47,357.71 639.20,358.76C639.93,359.81 640.61,359.02 641.40,361.90C642.18,364.78 643.07,373.41 643.91,376.02C644.74,378.64 645.63,377.07 646.42,377.59C647.20,378.12 647.73,379.42 648.62,379.16C649.51,378.90 650.71,376.13 651.75,376.02C652.80,375.92 653.85,378.38 654.89,378.53C655.94,378.69 656.99,376.86 658.03,376.96C659.08,377.07 659.86,379.06 661.17,379.16C662.48,379.27 664.31,377.59 665.88,377.59C667.45,377.59 669.02,379.01 670.59,379.16C672.16,379.32 674.51,378.64 675.30,378.53" fill="none" stroke="#1ca3de" stroke-width="1.3" stroke-linejoin="round" clip-path="url(#ce1)"/>
<rect x="470.2" y="291.37" width="205.00000000000006" height="89.5" fill="none" stroke="#333" stroke-width="1.3"/>
<line x1="468.4" y1="380.87" x2="470.2" y2="380.87" stroke="#333" stroke-width="1"/>
<line x1="468.4" y1="372.94" x2="470.2" y2="372.94" stroke="#333" stroke-width="1"/>
<line x1="468.4" y1="365.01" x2="470.2" y2="365.01" stroke="#333" stroke-width="1"/>
<line x1="468.4" y1="357.08" x2="470.2" y2="357.08" stroke="#333" stroke-width="1"/>
<line x1="468.4" y1="349.15" x2="470.2" y2="349.15" stroke="#333" stroke-width="1"/>
<line x1="468.4" y1="341.22" x2="470.2" y2="341.22" stroke="#333" stroke-width="1"/>
<line x1="468.4" y1="333.29" x2="470.2" y2="333.29" stroke="#333" stroke-width="1"/>
<line x1="468.4" y1="325.36" x2="470.2" y2="325.36" stroke="#333" stroke-width="1"/>
<line x1="468.4" y1="317.43" x2="470.2" y2="317.43" stroke="#333" stroke-width="1"/>
<line x1="468.4" y1="309.50" x2="470.2" y2="309.50" stroke="#333" stroke-width="1"/>
<line x1="468.4" y1="301.57" x2="470.2" y2="301.57" stroke="#333" stroke-width="1"/>
<line x1="468.4" y1="293.64" x2="470.2" y2="293.64" stroke="#333" stroke-width="1"/>
<line x1="467.0" y1="324.87" x2="470.2" y2="324.87" stroke="#333" stroke-width="1.1"/>
<line x1="467.0" y1="380.87" x2="470.2" y2="380.87" stroke="#333" stroke-width="1.1"/>
<text x="439.73" y="330.77" font-size="16.00" fill="#000" textLength="25.94" lengthAdjust="spacingAndGlyphs"  stroke="#000" stroke-width="0.2">100</text>
<text x="456.56" y="386.77" font-size="16.00" fill="#000"  stroke="#000" stroke-width="0.2">0</text>
<line x1="470.10" y1="380.87" x2="470.10" y2="383.07" stroke="#333" stroke-width="1"/>
<line x1="482.90" y1="380.87" x2="482.90" y2="383.07" stroke="#333" stroke-width="1"/>
<line x1="495.70" y1="380.87" x2="495.70" y2="384.47" stroke="#333" stroke-width="1"/>
<line x1="508.50" y1="380.87" x2="508.50" y2="383.07" stroke="#333" stroke-width="1"/>
<line x1="521.30" y1="380.87" x2="521.30" y2="383.07" stroke="#333" stroke-width="1"/>
<line x1="534.10" y1="380.87" x2="534.10" y2="383.07" stroke="#333" stroke-width="1"/>
<line x1="546.90" y1="380.87" x2="546.90" y2="384.47" stroke="#333" stroke-width="1"/>
<line x1="559.70" y1="380.87" x2="559.70" y2="383.07" stroke="#333" stroke-width="1"/>
<line x1="572.50" y1="380.87" x2="572.50" y2="383.07" stroke="#333" stroke-width="1"/>
<line x1="585.30" y1="380.87" x2="585.30" y2="383.07" stroke="#333" stroke-width="1"/>
<line x1="598.10" y1="380.87" x2="598.10" y2="384.47" stroke="#333" stroke-width="1"/>
<line x1="610.90" y1="380.87" x2="610.90" y2="383.07" stroke="#333" stroke-width="1"/>
<line x1="623.70" y1="380.87" x2="623.70" y2="383.07" stroke="#333" stroke-width="1"/>
<line x1="636.50" y1="380.87" x2="636.50" y2="383.07" stroke="#333" stroke-width="1"/>
<line x1="649.30" y1="380.87" x2="649.30" y2="384.47" stroke="#333" stroke-width="1"/>
<line x1="662.10" y1="380.87" x2="662.10" y2="383.07" stroke="#333" stroke-width="1"/>
<line x1="674.90" y1="380.87" x2="674.90" y2="383.07" stroke="#333" stroke-width="1"/>
<text x="478.22" y="312.37" font-size="15.86" fill="#000" textLength="54.47" lengthAdjust="spacingAndGlyphs"  stroke="#000" stroke-width="0.2">Au(211)</text>
<text x="550.23" y="372.27" font-size="16.71" fill="#000" textLength="36.62" lengthAdjust="spacingAndGlyphs"  stroke="#000" stroke-width="0.2">-2.87</text>
<line x1="568.6" y1="373.67" x2="568.6" y2="380.87" stroke="#222" stroke-width="1.2"/>
<clipPath id="ce2"><rect x="470.2" y="385.83" width="205.00000000000006" height="89.5"/></clipPath>
<path d="M469.71,472.59C469.97,472.85 470.49,473.64 471.28,474.16C472.06,474.69 473.37,475.47 474.42,475.73C475.46,475.99 475.99,475.73 477.55,475.73C479.12,475.73 482.00,476.10 483.83,475.73C485.66,475.37 487.23,474.21 488.54,473.53C489.85,472.85 490.63,471.81 491.68,471.65C492.73,471.49 494.03,472.70 494.82,472.59C495.60,472.49 495.71,471.55 496.39,471.02C497.07,470.50 498.11,470.50 498.90,469.45C499.68,468.41 500.47,466.58 501.10,464.75C501.72,462.91 502.14,458.47 502.66,458.47C503.19,458.47 503.71,464.33 504.23,464.75C504.76,465.16 505.28,460.46 505.80,460.98C506.33,461.50 506.85,466.21 507.37,467.88C507.90,469.56 508.42,470.76 508.94,471.02C509.47,471.28 509.99,469.19 510.51,469.45C511.03,469.72 511.56,472.59 512.08,472.59C512.60,472.59 513.13,470.76 513.65,469.45C514.17,468.15 514.70,464.75 515.22,464.75C515.74,464.75 516.27,468.15 516.79,469.45C517.31,470.76 517.84,472.59 518.36,472.59C518.88,472.59 519.40,472.33 519.93,469.45C520.45,466.58 520.97,458.21 521.50,455.33C522.02,452.45 522.54,451.93 523.07,452.19C523.59,452.45 524.11,457.95 524.64,456.90C525.16,455.85 525.68,449.84 526.21,445.91C526.73,441.99 527.25,434.67 527.77,433.36C528.30,432.05 528.82,438.59 529.34,438.07C529.87,437.54 530.39,433.10 530.91,430.22C531.44,427.34 531.96,422.63 532.48,420.80C533.01,418.97 533.53,417.40 534.05,419.23C534.58,421.07 535.10,430.48 535.62,431.79C536.14,433.10 536.67,426.30 537.19,427.08C537.71,427.87 538.24,437.54 538.76,436.50C539.28,435.45 539.81,427.08 540.33,420.80C540.85,414.53 541.48,403.80 541.90,398.83C542.32,393.86 542.47,390.99 542.84,390.99C543.21,390.99 543.73,394.91 544.10,398.83C544.46,402.76 544.62,408.25 545.04,414.53C545.46,420.80 546.08,431.79 546.61,436.50C547.13,441.21 547.65,445.91 548.18,442.77C548.70,439.64 549.22,423.16 549.75,417.66C550.27,412.17 550.79,410.34 551.32,409.82C551.84,409.29 552.36,411.65 552.88,414.53C553.41,417.40 553.93,428.13 554.45,427.08C554.98,426.03 555.50,411.39 556.02,408.25C556.55,405.11 557.07,405.63 557.59,408.25C558.12,410.86 558.64,417.66 559.16,423.94C559.69,430.22 560.21,441.99 560.73,445.91C561.25,449.84 561.78,448.01 562.30,447.48C562.82,446.96 563.35,444.61 563.87,442.77C564.39,440.94 564.92,439.64 565.44,436.50C565.96,433.36 566.49,425.51 567.01,423.94C567.53,422.37 568.06,424.99 568.58,427.08C569.10,429.17 569.62,435.97 570.15,436.50C570.67,437.02 571.19,429.17 571.72,430.22C572.24,431.27 572.76,444.87 573.29,442.77C573.81,440.68 574.33,423.68 574.86,417.66C575.38,411.65 575.90,407.20 576.42,406.68C576.95,406.16 577.47,409.56 577.99,414.53C578.52,419.50 579.04,431.27 579.56,436.50C580.09,441.73 580.61,444.08 581.13,445.91C581.66,447.74 582.18,446.96 582.70,447.48C583.23,448.01 583.75,447.74 584.27,449.05C584.79,450.36 585.32,454.54 585.84,455.33C586.36,456.11 586.89,455.33 587.41,453.76C587.93,452.19 588.46,446.17 588.98,445.91C589.50,445.65 590.03,452.19 590.55,452.19C591.07,452.19 591.60,451.14 592.12,445.91C592.64,440.68 593.16,423.94 593.69,420.80C594.21,417.66 594.73,423.42 595.26,427.08C595.78,430.74 596.30,440.42 596.83,442.77C597.35,445.13 597.87,442.77 598.40,441.21C598.92,439.64 599.44,437.28 599.97,433.36C600.49,429.44 601.01,420.54 601.53,417.66C602.06,414.79 602.58,415.05 603.10,416.10C603.63,417.14 604.15,419.50 604.67,423.94C605.20,428.39 605.72,440.42 606.24,442.77C606.77,445.13 607.29,437.80 607.81,438.07C608.34,438.33 608.86,439.90 609.38,444.34C609.90,448.79 610.43,461.35 610.95,464.75C611.47,468.15 612.00,466.84 612.52,464.75C613.04,462.65 613.57,456.38 614.09,452.19C614.61,448.01 615.14,438.59 615.66,439.64C616.18,440.68 616.71,454.28 617.23,458.47C617.75,462.65 618.27,464.75 618.80,464.75C619.32,464.75 619.84,460.56 620.37,458.47C620.89,456.38 621.41,451.14 621.94,452.19C622.46,453.24 622.98,463.70 623.51,464.75C624.03,465.79 624.55,461.61 625.08,458.47C625.60,455.33 626.12,448.79 626.64,445.91C627.17,443.04 627.69,440.16 628.21,441.21C628.74,442.25 629.26,448.27 629.78,452.19C630.31,456.11 630.83,462.91 631.35,464.75C631.88,466.58 632.40,462.13 632.92,463.18C633.45,464.22 633.97,469.45 634.49,471.02C635.01,472.59 635.54,472.59 636.06,472.59C636.58,472.59 637.11,470.87 637.63,471.02C638.15,471.18 638.68,473.38 639.20,473.53C639.72,473.69 640.25,471.86 640.77,471.96C641.29,472.07 641.82,474.84 642.34,474.16C642.86,473.48 643.38,468.67 643.91,467.88C644.43,467.10 644.95,470.24 645.48,469.45C646.00,468.67 646.52,463.96 647.05,463.18C647.57,462.39 648.09,462.91 648.62,464.75C649.14,466.58 649.40,472.33 650.19,474.16C650.97,475.99 652.28,475.63 653.32,475.73C654.37,475.84 655.42,475.31 656.46,474.79C657.51,474.27 658.82,473.22 659.60,472.59C660.39,471.96 660.65,470.76 661.17,471.02C661.69,471.28 661.96,474.16 662.74,474.16C663.52,474.16 665.09,471.02 665.88,471.02C666.66,471.02 666.40,473.38 667.45,474.16C668.49,474.95 670.85,475.47 672.16,475.73C673.46,475.99 674.77,475.73 675.30,475.73" fill="none" stroke="#e24a5c" stroke-width="1.3" stroke-linejoin="round" clip-path="url(#ce2)"/>
<rect x="470.2" y="385.83" width="205.00000000000006" height="89.5" fill="none" stroke="#333" stroke-width="1.3"/>
<line x1="468.4" y1="475.33" x2="470.2" y2="475.33" stroke="#333" stroke-width="1"/>
<line x1="468.4" y1="467.40" x2="470.2" y2="467.40" stroke="#333" stroke-width="1"/>
<line x1="468.4" y1="459.47" x2="470.2" y2="459.47" stroke="#333" stroke-width="1"/>
<line x1="468.4" y1="451.54" x2="470.2" y2="451.54" stroke="#333" stroke-width="1"/>
<line x1="468.4" y1="443.61" x2="470.2" y2="443.61" stroke="#333" stroke-width="1"/>
<line x1="468.4" y1="435.68" x2="470.2" y2="435.68" stroke="#333" stroke-width="1"/>
<line x1="468.4" y1="427.75" x2="470.2" y2="427.75" stroke="#333" stroke-width="1"/>
<line x1="468.4" y1="419.82" x2="470.2" y2="419.82" stroke="#333" stroke-width="1"/>
<line x1="468.4" y1="411.89" x2="470.2" y2="411.89" stroke="#333" stroke-width="1"/>
<line x1="468.4" y1="403.96" x2="470.2" y2="403.96" stroke="#333" stroke-width="1"/>
<line x1="468.4" y1="396.03" x2="470.2" y2="396.03" stroke="#333" stroke-width="1"/>
<line x1="468.4" y1="388.10" x2="470.2" y2="388.10" stroke="#333" stroke-width="1"/>
<line x1="467.0" y1="419.33" x2="470.2" y2="419.33" stroke="#333" stroke-width="1.1"/>
<line x1="467.0" y1="475.33" x2="470.2" y2="475.33" stroke="#333" stroke-width="1.1"/>
<text x="439.73" y="425.23" font-size="16.00" fill="#000" textLength="25.94" lengthAdjust="spacingAndGlyphs"  stroke="#000" stroke-width="0.2">100</text>
<text x="456.56" y="481.23" font-size="16.00" fill="#000"  stroke="#000" stroke-width="0.2">0</text>
<line x1="470.10" y1="475.33" x2="470.10" y2="477.53" stroke="#333" stroke-width="1"/>
<line x1="482.90" y1="475.33" x2="482.90" y2="477.53" stroke="#333" stroke-width="1"/>
<line x1="495.70" y1="475.33" x2="495.70" y2="478.93" stroke="#333" stroke-width="1"/>
<line x1="508.50" y1="475.33" x2="508.50" y2="477.53" stroke="#333" stroke-width="1"/>
<line x1="521.30" y1="475.33" x2="521.30" y2="477.53" stroke="#333" stroke-width="1"/>
<line x1="534.10" y1="475.33" x2="534.10" y2="477.53" stroke="#333" stroke-width="1"/>
<line x1="546.90" y1="475.33" x2="546.90" y2="478.93" stroke="#333" stroke-width="1"/>
<line x1="559.70" y1="475.33" x2="559.70" y2="477.53" stroke="#333" stroke-width="1"/>
<line x1="572.50" y1="475.33" x2="572.50" y2="477.53" stroke="#333" stroke-width="1"/>
<line x1="585.30" y1="475.33" x2="585.30" y2="477.53" stroke="#333" stroke-width="1"/>
<line x1="598.10" y1="475.33" x2="598.10" y2="478.93" stroke="#333" stroke-width="1"/>
<line x1="610.90" y1="475.33" x2="610.90" y2="477.53" stroke="#333" stroke-width="1"/>
<line x1="623.70" y1="475.33" x2="623.70" y2="477.53" stroke="#333" stroke-width="1"/>
<line x1="636.50" y1="475.33" x2="636.50" y2="477.53" stroke="#333" stroke-width="1"/>
<line x1="649.30" y1="475.33" x2="649.30" y2="478.93" stroke="#333" stroke-width="1"/>
<line x1="662.10" y1="475.33" x2="662.10" y2="477.53" stroke="#333" stroke-width="1"/>
<line x1="674.90" y1="475.33" x2="674.90" y2="477.53" stroke="#333" stroke-width="1"/>
<text x="478.22" y="406.83" font-size="15.86" fill="#000" textLength="54.51" lengthAdjust="spacingAndGlyphs"  stroke="#000" stroke-width="0.2">Au(111)</text>
<text x="599.90" y="406.93" font-size="16.00" fill="#000" textLength="62.95" lengthAdjust="spacingAndGlyphs"  stroke="#000" stroke-width="0.2">with EEF</text>
<text x="542.53" y="466.73" font-size="16.71" fill="#000" textLength="36.45" lengthAdjust="spacingAndGlyphs"  stroke="#000" stroke-width="0.2">-2.55</text>
<line x1="561.4" y1="468.13" x2="561.4" y2="475.33" stroke="#222" stroke-width="1.2"/>
<clipPath id="ce3"><rect x="470.2" y="480.29999999999995" width="205.00000000000006" height="89.5"/></clipPath>
<path d="M469.71,567.59C470.07,566.28 471.23,561.84 471.91,559.75C472.59,557.65 473.11,554.25 473.79,555.04C474.47,555.82 475.10,562.10 475.99,564.45C476.87,566.81 478.08,568.64 479.12,569.16C480.17,569.69 481.22,567.59 482.26,567.59C483.31,567.59 484.36,569.16 485.40,569.16C486.45,569.16 487.49,568.64 488.54,567.59C489.59,566.55 490.79,564.72 491.68,562.88C492.57,561.05 493.20,557.39 493.88,556.61C494.56,555.82 495.08,556.35 495.76,558.18C496.44,560.01 497.07,565.76 497.96,567.59C498.85,569.42 500.05,569.32 501.10,569.16C502.14,569.01 503.19,567.17 504.23,566.65C505.28,566.13 506.33,566.65 507.37,566.02C508.42,565.40 509.73,563.93 510.51,562.88C511.30,561.84 511.56,560.01 512.08,559.75C512.60,559.48 513.13,560.53 513.65,561.32C514.17,562.10 514.44,563.67 515.22,564.45C516.00,565.24 517.31,566.28 518.36,566.02C519.40,565.76 520.45,562.88 521.50,562.88C522.54,562.88 523.59,567.85 524.64,566.02C525.68,564.19 526.99,554.51 527.77,551.90C528.56,549.28 528.82,550.07 529.34,550.33C529.87,550.59 530.39,553.73 530.91,553.47C531.44,553.21 531.96,550.33 532.48,548.76C533.01,547.19 533.53,546.14 534.05,544.05C534.58,541.96 535.10,538.04 535.62,536.21C536.14,534.37 536.67,534.11 537.19,533.07C537.71,532.02 538.24,531.50 538.76,529.93C539.28,528.36 539.81,524.17 540.33,523.65C540.85,523.13 541.38,525.22 541.90,526.79C542.42,528.36 542.95,532.54 543.47,533.07C543.99,533.59 544.51,530.97 545.04,529.93C545.56,528.88 546.08,528.10 546.61,526.79C547.13,525.48 547.65,525.74 548.18,522.08C548.70,518.42 549.22,510.83 549.75,504.82C550.27,498.80 550.79,487.29 551.32,485.99C551.84,484.68 552.36,491.48 552.88,496.97C553.41,502.46 553.93,514.23 554.45,518.94C554.98,523.65 555.50,523.91 556.02,525.22C556.55,526.53 557.07,527.05 557.59,526.79C558.12,526.53 558.64,524.96 559.16,523.65C559.69,522.34 560.21,520.25 560.73,518.94C561.25,517.63 561.78,516.59 562.30,515.80C562.82,515.02 563.35,514.76 563.87,514.23C564.39,513.71 564.92,511.10 565.44,512.66C565.96,514.23 566.49,519.99 567.01,523.65C567.53,527.31 568.06,533.59 568.58,534.64C569.10,535.68 569.62,531.24 570.15,529.93C570.67,528.62 571.19,526.00 571.72,526.79C572.24,527.57 572.76,533.07 573.29,534.64C573.81,536.21 574.33,536.99 574.86,536.21C575.38,535.42 575.90,532.02 576.42,529.93C576.95,527.84 577.47,526.00 577.99,523.65C578.52,521.30 579.04,514.76 579.56,515.80C580.09,516.85 580.61,528.36 581.13,529.93C581.66,531.50 582.18,527.84 582.70,525.22C583.23,522.60 583.75,514.76 584.27,514.23C584.79,513.71 585.32,518.42 585.84,522.08C586.36,525.74 586.89,533.33 587.41,536.21C587.93,539.08 588.46,538.82 588.98,539.34C589.50,539.87 590.03,539.61 590.55,539.34C591.07,539.08 591.60,537.51 592.12,537.77C592.64,538.04 593.16,539.61 593.69,540.91C594.21,542.22 594.73,543.79 595.26,545.62C595.78,547.45 596.30,551.64 596.83,551.90C597.35,552.16 597.87,549.02 598.40,547.19C598.92,545.36 599.44,543.53 599.97,540.91C600.49,538.30 601.01,534.64 601.53,531.50C602.06,528.36 602.58,523.13 603.10,522.08C603.63,521.03 604.15,523.13 604.67,525.22C605.20,527.31 605.72,533.85 606.24,534.64C606.77,535.42 607.29,532.54 607.81,529.93C608.34,527.31 608.86,521.03 609.38,518.94C609.90,516.85 610.43,516.33 610.95,517.37C611.47,518.42 612.00,522.60 612.52,525.22C613.04,527.84 613.57,530.97 614.09,533.07C614.61,535.16 615.14,535.68 615.66,537.77C616.18,539.87 616.71,543.53 617.23,545.62C617.75,547.71 618.27,550.07 618.80,550.33C619.32,550.59 619.84,546.93 620.37,547.19C620.89,547.45 621.41,550.59 621.94,551.90C622.46,553.21 622.98,555.30 623.51,555.04C624.03,554.78 624.55,551.38 625.08,550.33C625.60,549.28 626.12,548.24 626.64,548.76C627.17,549.28 627.69,553.47 628.21,553.47C628.74,553.47 629.26,549.81 629.78,548.76C630.31,547.71 630.83,546.67 631.35,547.19C631.88,547.71 632.40,551.90 632.92,551.90C633.45,551.90 633.97,548.24 634.49,547.19C635.01,546.14 635.54,545.10 636.06,545.62C636.58,546.14 637.11,550.33 637.63,550.33C638.15,550.33 638.68,546.14 639.20,545.62C639.72,545.10 640.25,545.88 640.77,547.19C641.29,548.50 641.82,551.38 642.34,553.47C642.86,555.56 643.38,558.18 643.91,559.75C644.43,561.32 644.95,561.58 645.48,562.88C646.00,564.19 646.26,566.55 647.05,567.59C647.83,568.64 649.14,569.42 650.19,569.16C651.23,568.90 652.28,566.28 653.32,566.02C654.37,565.76 655.42,567.59 656.46,567.59C657.51,567.59 658.56,565.87 659.60,566.02C660.65,566.18 661.69,568.27 662.74,568.53C663.79,568.80 664.83,567.49 665.88,567.59C666.93,567.70 667.97,569.01 669.02,569.16C670.06,569.32 671.11,568.80 672.16,568.53C673.20,568.27 674.77,567.75 675.30,567.59" fill="none" stroke="#e24a5c" stroke-width="1.3" stroke-linejoin="round" clip-path="url(#ce3)"/>
<rect x="470.2" y="480.29999999999995" width="205.00000000000006" height="89.5" fill="none" stroke="#333" stroke-width="1.3"/>
<line x1="468.4" y1="569.80" x2="470.2" y2="569.80" stroke="#333" stroke-width="1"/>
<line x1="468.4" y1="561.87" x2="470.2" y2="561.87" stroke="#333" stroke-width="1"/>
<line x1="468.4" y1="553.94" x2="470.2" y2="553.94" stroke="#333" stroke-width="1"/>
<line x1="468.4" y1="546.01" x2="470.2" y2="546.01" stroke="#333" stroke-width="1"/>
<line x1="468.4" y1="538.08" x2="470.2" y2="538.08" stroke="#333" stroke-width="1"/>
<line x1="468.4" y1="530.15" x2="470.2" y2="530.15" stroke="#333" stroke-width="1"/>
<line x1="468.4" y1="522.22" x2="470.2" y2="522.22" stroke="#333" stroke-width="1"/>
<line x1="468.4" y1="514.29" x2="470.2" y2="514.29" stroke="#333" stroke-width="1"/>
<line x1="468.4" y1="506.36" x2="470.2" y2="506.36" stroke="#333" stroke-width="1"/>
<line x1="468.4" y1="498.43" x2="470.2" y2="498.43" stroke="#333" stroke-width="1"/>
<line x1="468.4" y1="490.50" x2="470.2" y2="490.50" stroke="#333" stroke-width="1"/>
<line x1="468.4" y1="482.57" x2="470.2" y2="482.57" stroke="#333" stroke-width="1"/>
<line x1="467.0" y1="513.80" x2="470.2" y2="513.80" stroke="#333" stroke-width="1.1"/>
<line x1="467.0" y1="569.80" x2="470.2" y2="569.80" stroke="#333" stroke-width="1.1"/>
<text x="439.73" y="519.70" font-size="16.00" fill="#000" textLength="25.94" lengthAdjust="spacingAndGlyphs"  stroke="#000" stroke-width="0.2">100</text>
<text x="456.56" y="575.70" font-size="16.00" fill="#000"  stroke="#000" stroke-width="0.2">0</text>
<line x1="470.10" y1="569.8" x2="470.10" y2="572.0" stroke="#333" stroke-width="1"/>
<line x1="482.90" y1="569.8" x2="482.90" y2="572.0" stroke="#333" stroke-width="1"/>
<line x1="495.70" y1="569.8" x2="495.70" y2="573.4" stroke="#333" stroke-width="1"/>
<line x1="508.50" y1="569.8" x2="508.50" y2="572.0" stroke="#333" stroke-width="1"/>
<line x1="521.30" y1="569.8" x2="521.30" y2="572.0" stroke="#333" stroke-width="1"/>
<line x1="534.10" y1="569.8" x2="534.10" y2="572.0" stroke="#333" stroke-width="1"/>
<line x1="546.90" y1="569.8" x2="546.90" y2="573.4" stroke="#333" stroke-width="1"/>
<line x1="559.70" y1="569.8" x2="559.70" y2="572.0" stroke="#333" stroke-width="1"/>
<line x1="572.50" y1="569.8" x2="572.50" y2="572.0" stroke="#333" stroke-width="1"/>
<line x1="585.30" y1="569.8" x2="585.30" y2="572.0" stroke="#333" stroke-width="1"/>
<line x1="598.10" y1="569.8" x2="598.10" y2="573.4" stroke="#333" stroke-width="1"/>
<line x1="610.90" y1="569.8" x2="610.90" y2="572.0" stroke="#333" stroke-width="1"/>
<line x1="623.70" y1="569.8" x2="623.70" y2="572.0" stroke="#333" stroke-width="1"/>
<line x1="636.50" y1="569.8" x2="636.50" y2="572.0" stroke="#333" stroke-width="1"/>
<line x1="649.30" y1="569.8" x2="649.30" y2="573.4" stroke="#333" stroke-width="1"/>
<line x1="662.10" y1="569.8" x2="662.10" y2="572.0" stroke="#333" stroke-width="1"/>
<line x1="674.90" y1="569.8" x2="674.90" y2="572.0" stroke="#333" stroke-width="1"/>
<text x="478.22" y="501.30" font-size="15.86" fill="#000" textLength="54.51" lengthAdjust="spacingAndGlyphs"  stroke="#000" stroke-width="0.2">Au(111)</text>
<text x="551.93" y="561.20" font-size="16.71" fill="#000" textLength="36.62" lengthAdjust="spacingAndGlyphs"  stroke="#000" stroke-width="0.2">-2.92</text>
<line x1="570.1" y1="562.5999999999999" x2="570.1" y2="569.8" stroke="#222" stroke-width="1.2"/>
<line x1="495.7" y1="196.89999999999998" x2="495.7" y2="286.4" stroke="#fff" stroke-width="2.0" stroke-opacity="0.25"/><line x1="495.7" y1="196.89999999999998" x2="495.7" y2="286.4" stroke="#444" stroke-width="1.1"/>
<line x1="495.7" y1="291.37" x2="495.7" y2="380.87" stroke="#fff" stroke-width="2.0" stroke-opacity="0.25"/><line x1="495.7" y1="291.37" x2="495.7" y2="380.87" stroke="#444" stroke-width="1.1"/>
<line x1="495.7" y1="385.83" x2="495.7" y2="475.33" stroke="#fff" stroke-width="2.0" stroke-opacity="0.25"/><line x1="495.7" y1="385.83" x2="495.7" y2="475.33" stroke="#444" stroke-width="1.1"/>
<line x1="495.7" y1="480.29999999999995" x2="495.7" y2="569.8" stroke="#fff" stroke-width="2.0" stroke-opacity="0.25"/><line x1="495.7" y1="480.29999999999995" x2="495.7" y2="569.8" stroke="#444" stroke-width="1.1"/>
<text x="495.7" y="587.0" font-size="15.9" text-anchor="middle" fill="#000"  stroke="#000" stroke-width="0.2">0</text>
<text x="546.5" y="587.0" font-size="15.9" text-anchor="middle" fill="#000"  stroke="#000" stroke-width="0.2">-2</text>
<text x="597.7" y="587.0" font-size="15.9" text-anchor="middle" fill="#000"  stroke="#000" stroke-width="0.2">-4</text>
<text x="648.9" y="587.0" font-size="15.9" text-anchor="middle" fill="#000"  stroke="#000" stroke-width="0.2">-6</text>
<text x="537.6" y="604.5" font-size="16.2" font-style="italic" stroke="#000" stroke-width="0.2">E</text>
<rect x="548.2" y="597.4" width="7.9" height="2.5" fill="#000"/>
<text x="557.0" y="604.5" font-size="16.2" font-style="italic" stroke="#000" stroke-width="0.2">E</text>
<text x="567.4" y="607.8" font-size="11.8" stroke="#000" stroke-width="0.2">F</text>
<text x="579.35" y="604.50" font-size="16.71" fill="#000" textLength="33.08" lengthAdjust="spacingAndGlyphs"  stroke="#000" stroke-width="0.2">(eV)</text>
<text transform="translate(435,385.3) rotate(-90)" font-size="16" text-anchor="middle" textLength="48" lengthAdjust="spacingAndGlyphs" stroke="#000" stroke-width="0.2">PDOS</text>
<text x="1.92" y="352.90" font-size="19.00" fill="#000" font-weight="bold" >f</text>
<line x1="86.70" y1="421.20" x2="132.10" y2="434.43" stroke="#1a9cee" stroke-width="1.3" stroke-dasharray="3,2"/>
<line x1="163.50" y1="434.43" x2="208.80" y2="413.79" stroke="#1a9cee" stroke-width="1.3" stroke-dasharray="3,2"/>
<line x1="240.20" y1="413.79" x2="285.60" y2="405.86" stroke="#1a9cee" stroke-width="1.3" stroke-dasharray="3,2"/>
<line x1="317.00" y1="405.86" x2="362.30" y2="387.34" stroke="#1a9cee" stroke-width="1.3" stroke-dasharray="3,2"/>
<line x1="86.70" y1="421.20" x2="132.10" y2="397.92" stroke="#1c3a94" stroke-width="1.3" stroke-dasharray="3,2"/>
<line x1="163.50" y1="397.92" x2="208.80" y2="346.61" stroke="#1c3a94" stroke-width="1.3" stroke-dasharray="3,2"/>
<line x1="240.20" y1="346.61" x2="285.60" y2="374.65" stroke="#1c3a94" stroke-width="1.3" stroke-dasharray="3,2"/>
<line x1="317.00" y1="374.65" x2="362.30" y2="387.34" stroke="#1c3a94" stroke-width="1.3" stroke-dasharray="3,2"/>
<line x1="132.10" y1="434.43" x2="163.50" y2="434.43" stroke="#1a9cee" stroke-width="2.6"/>
<line x1="208.80" y1="413.79" x2="240.20" y2="413.79" stroke="#1a9cee" stroke-width="2.6"/>
<line x1="285.60" y1="405.86" x2="317.00" y2="405.86" stroke="#1a9cee" stroke-width="2.6"/>
<line x1="132.10" y1="397.92" x2="163.50" y2="397.92" stroke="#1c3a94" stroke-width="2.6"/>
<line x1="208.80" y1="346.61" x2="240.20" y2="346.61" stroke="#1c3a94" stroke-width="2.6"/>
<line x1="285.60" y1="374.65" x2="317.00" y2="374.65" stroke="#1c3a94" stroke-width="2.6"/>
<line x1="55.30" y1="421.20" x2="86.70" y2="421.20" stroke="#000" stroke-width="2.6"/>
<line x1="362.30" y1="387.34" x2="393.70" y2="387.34" stroke="#000" stroke-width="2.6"/>
<rect x="40.3" y="336.6" width="368.4" height="116.09999999999997" fill="none" stroke="#222" stroke-width="1.3"/>
<line x1="38.3" y1="447.65" x2="40.3" y2="447.65" stroke="#222" stroke-width="1.1"/>
<line x1="37.099999999999994" y1="421.20" x2="40.3" y2="421.20" stroke="#222" stroke-width="1.1"/>
<line x1="38.3" y1="394.75" x2="40.3" y2="394.75" stroke="#222" stroke-width="1.1"/>
<line x1="37.099999999999994" y1="368.30" x2="40.3" y2="368.30" stroke="#222" stroke-width="1.1"/>
<line x1="38.3" y1="341.85" x2="40.3" y2="341.85" stroke="#222" stroke-width="1.1"/>
<text x="34" y="373.8" font-size="15.7" text-anchor="end" fill="#000"  stroke="#000" stroke-width="0.2">1</text>
<text x="34" y="426.7" font-size="15.7" text-anchor="end" fill="#000"  stroke="#000" stroke-width="0.2">0</text>
<line x1="71" y1="452.7" x2="71" y2="455.7" stroke="#222" stroke-width="1.1"/>
<line x1="147.8" y1="452.7" x2="147.8" y2="455.7" stroke="#222" stroke-width="1.1"/>
<line x1="224.5" y1="452.7" x2="224.5" y2="455.7" stroke="#222" stroke-width="1.1"/>
<line x1="301.3" y1="452.7" x2="301.3" y2="455.7" stroke="#222" stroke-width="1.1"/>
<line x1="378" y1="452.7" x2="378" y2="455.7" stroke="#222" stroke-width="1.1"/>
<line x1="86.70" y1="535.60" x2="132.10" y2="549.46" stroke="#ea7783" stroke-width="1.3" stroke-dasharray="3,2"/>
<line x1="163.50" y1="549.46" x2="208.80" y2="525.70" stroke="#ea7783" stroke-width="1.3" stroke-dasharray="3,2"/>
<line x1="240.20" y1="525.70" x2="285.60" y2="512.50" stroke="#ea7783" stroke-width="1.3" stroke-dasharray="3,2"/>
<line x1="317.00" y1="512.50" x2="362.30" y2="493.36" stroke="#ea7783" stroke-width="1.3" stroke-dasharray="3,2"/>
<line x1="86.70" y1="535.60" x2="132.10" y2="518.44" stroke="#a5101a" stroke-width="1.3" stroke-dasharray="3,2"/>
<line x1="163.50" y1="518.44" x2="208.80" y2="465.64" stroke="#a5101a" stroke-width="1.3" stroke-dasharray="3,2"/>
<line x1="240.20" y1="465.64" x2="285.60" y2="518.44" stroke="#a5101a" stroke-width="1.3" stroke-dasharray="3,2"/>
<line x1="317.00" y1="518.44" x2="362.30" y2="493.36" stroke="#a5101a" stroke-width="1.3" stroke-dasharray="3,2"/>
<line x1="132.10" y1="549.46" x2="163.50" y2="549.46" stroke="#ea7783" stroke-width="2.6"/>
<line x1="208.80" y1="525.70" x2="240.20" y2="525.70" stroke="#ea7783" stroke-width="2.6"/>
<line x1="285.60" y1="512.50" x2="317.00" y2="512.50" stroke="#ea7783" stroke-width="2.6"/>
<line x1="132.10" y1="518.44" x2="163.50" y2="518.44" stroke="#a5101a" stroke-width="2.6"/>
<line x1="208.80" y1="465.64" x2="240.20" y2="465.64" stroke="#a5101a" stroke-width="2.6"/>
<line x1="285.60" y1="518.44" x2="317.00" y2="518.44" stroke="#a5101a" stroke-width="2.6"/>
<line x1="55.30" y1="535.60" x2="86.70" y2="535.60" stroke="#000" stroke-width="2.6"/>
<line x1="362.30" y1="493.36" x2="393.70" y2="493.36" stroke="#000" stroke-width="2.6"/>
<rect x="40.3" y="452.7" width="368.4" height="117.00000000000006" fill="none" stroke="#222" stroke-width="1.3"/>
<line x1="38.3" y1="568.60" x2="40.3" y2="568.60" stroke="#222" stroke-width="1.1"/>
<line x1="37.099999999999994" y1="535.60" x2="40.3" y2="535.60" stroke="#222" stroke-width="1.1"/>
<line x1="38.3" y1="502.60" x2="40.3" y2="502.60" stroke="#222" stroke-width="1.1"/>
<line x1="37.099999999999994" y1="469.60" x2="40.3" y2="469.60" stroke="#222" stroke-width="1.1"/>
<text x="34" y="475.1" font-size="15.7" text-anchor="end" fill="#000"  stroke="#000" stroke-width="0.2">1</text>
<text x="34" y="541.1" font-size="15.7" text-anchor="end" fill="#000"  stroke="#000" stroke-width="0.2">0</text>
<line x1="71" y1="569.7" x2="71" y2="572.7" stroke="#222" stroke-width="1.1"/>
<line x1="147.8" y1="569.7" x2="147.8" y2="572.7" stroke="#222" stroke-width="1.1"/>
<line x1="224.5" y1="569.7" x2="224.5" y2="572.7" stroke="#222" stroke-width="1.1"/>
<line x1="301.3" y1="569.7" x2="301.3" y2="572.7" stroke="#222" stroke-width="1.1"/>
<line x1="378" y1="569.7" x2="378" y2="572.7" stroke="#222" stroke-width="1.1"/>
<text x="49.01" y="355.70" font-size="16.71" fill="#1c3a94" textLength="59.61" lengthAdjust="spacingAndGlyphs"  stroke="#1c3a94" stroke-width="0.2">Au(111)</text>
<text x="115.72" y="393.10" font-size="14.71" fill="#1c3a94" textLength="50.19" lengthAdjust="spacingAndGlyphs"  stroke="#1c3a94" stroke-width="0.2">0.44 eV</text>
<text x="108.26" y="448.40" font-size="15.00" fill="#1a9cee" textLength="53.92" lengthAdjust="spacingAndGlyphs"  stroke="#1a9cee" stroke-width="0.2">-0.25 eV</text>
<text transform="translate(169.6,382.8) rotate(-48)" font-size="14.7" fill="#1c3a94" stroke="#1c3a94" stroke-width="0.2">0.97 eV</text>
<text transform="translate(162.0,429.6) rotate(-23)" font-size="14.8" fill="#1a9cee" stroke="#1a9cee" stroke-width="0.2">0.39 eV</text>
<text x="287.90" y="362.70" font-size="17.00" fill="#1c3a94" textLength="89.79" lengthAdjust="spacingAndGlyphs"  stroke="#1c3a94" stroke-width="0.2">without EEF</text>
<text x="287.40" y="427.80" font-size="16.43" fill="#1a9cee" textLength="66.08" lengthAdjust="spacingAndGlyphs"  stroke="#1a9cee" stroke-width="0.2">with EEF</text>
<text x="51.02" y="470.80" font-size="16.00" fill="#a5101a" textLength="58.25" lengthAdjust="spacingAndGlyphs"  stroke="#a5101a" stroke-width="0.2">Au(211)</text>
<text x="110.62" y="513.30" font-size="15.00" fill="#a5101a" textLength="49.58" lengthAdjust="spacingAndGlyphs"  stroke="#a5101a" stroke-width="0.2">0.26 eV</text>
<text x="108.26" y="565.30" font-size="15.00" fill="#ea7783" textLength="54.12" lengthAdjust="spacingAndGlyphs"  stroke="#ea7783" stroke-width="0.2">-0.21 eV</text>
<text transform="translate(170.5,504.0) rotate(-47.5)" font-size="15.1" fill="#a5101a" stroke="#a5101a" stroke-width="0.2">0.80 eV</text>
<text transform="translate(163.4,545.9) rotate(-26.5)" font-size="14.8" fill="#ea7783" stroke="#ea7783" stroke-width="0.2">0.36 eV</text>
<text x="252.20" y="471.90" font-size="15.86" fill="#a5101a" textLength="86.66" lengthAdjust="spacingAndGlyphs"  stroke="#a5101a" stroke-width="0.2">without EEF</text>
<text x="252.30" y="545.50" font-size="16.14" fill="#ea7783" textLength="63.45" lengthAdjust="spacingAndGlyphs"  stroke="#ea7783" stroke-width="0.2">with EEF</text>
<text x="47.3" y="587.3" font-size="15.7" stroke="#000" stroke-width="0.2">*+CO<tspan font-size="12" dy="5.6">2</tspan></text>
<text x="129.0" y="587.3" font-size="15.7" stroke="#000" stroke-width="0.2">*CO<tspan font-size="12" dy="5.6">2</tspan></text>
<text x="197.17" y="587.30" font-size="16.14" fill="#000" textLength="55.61" lengthAdjust="spacingAndGlyphs"  stroke="#000" stroke-width="0.2">*COOH</text>
<text x="285.16" y="587.30" font-size="16.14" fill="#000" textLength="32.28" lengthAdjust="spacingAndGlyphs"  stroke="#000" stroke-width="0.2">*CO</text>
<text x="365.68" y="587.30" font-size="16.14" fill="#000" textLength="24.75" lengthAdjust="spacingAndGlyphs"  stroke="#000" stroke-width="0.2">CO</text>
<text x="153.05" y="604.40" font-size="15.14" fill="#000" textLength="146.29" lengthAdjust="spacingAndGlyphs"  stroke="#000" stroke-width="0.2">Reaction coordinates</text>
<text transform="translate(14.4,450.7) rotate(-90)" font-size="15.5" text-anchor="middle" xml:space="preserve" textLength="127" lengthAdjust="spacingAndGlyphs" stroke="#000" stroke-width="0.2">Free energy  (eV)</text>
</svg>
</body></html>
